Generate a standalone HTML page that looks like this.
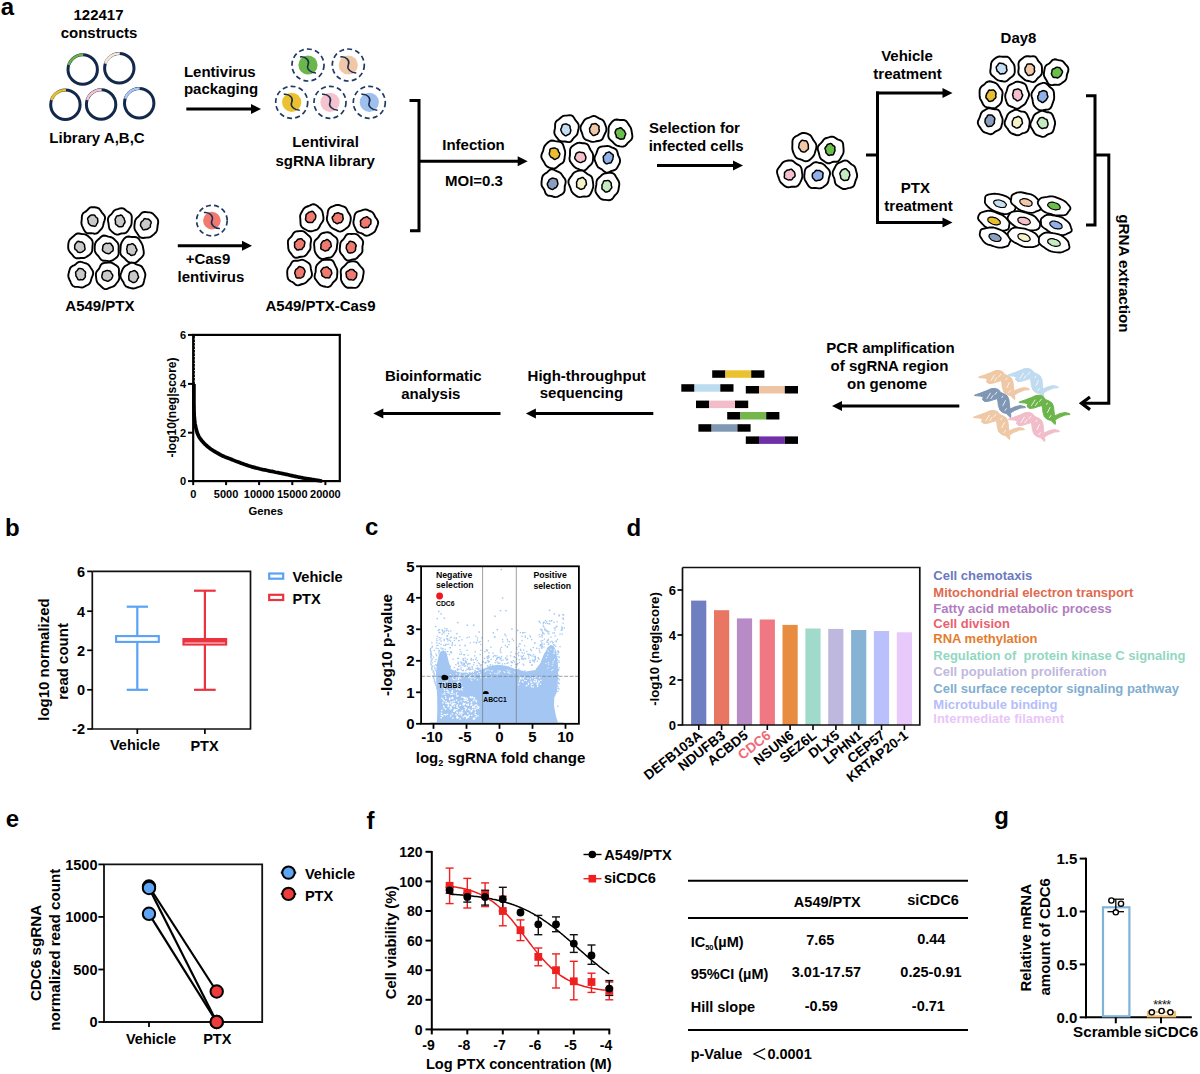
<!DOCTYPE html>
<html><head><meta charset="utf-8"><style>
html,body{margin:0;padding:0;background:#fff;}
svg{display:block;}
</style></head><body>
<svg width="1200" height="1074" viewBox="0 0 1200 1074" font-family="Liberation Sans, sans-serif" font-weight="bold">
<rect width="1200" height="1074" fill="#fff"/>
<text x="0.8" y="14.8" font-size="24" text-anchor="start" fill="#000" >a</text>
<text x="98.5" y="19.5" font-size="15" text-anchor="middle" fill="#000" >122417</text>
<text x="99.0" y="37.5" font-size="15" text-anchor="middle" fill="#000" >constructs</text>
<circle cx="82.7" cy="69.5" r="14.7" fill="none" stroke="#13294b" stroke-width="3.0"/>
<path d="M68.7,65.0 A14.7,14.7 0 0 1 83.2,54.8" fill="none" stroke="#6ab04c" stroke-width="2.6"/>
<circle cx="119.3" cy="68.2" r="14.7" fill="none" stroke="#13294b" stroke-width="3.0"/>
<path d="M105.3,63.7 A14.7,14.7 0 0 1 119.8,53.5" fill="none" stroke="#f7e6d4" stroke-width="2.6"/>
<circle cx="65.4" cy="104.7" r="14.7" fill="none" stroke="#13294b" stroke-width="3.0"/>
<path d="M51.4,100.2 A14.7,14.7 0 0 1 65.9,90.0" fill="none" stroke="#e6c12a" stroke-width="2.6"/>
<circle cx="101.1" cy="104.5" r="14.7" fill="none" stroke="#13294b" stroke-width="3.0"/>
<path d="M87.1,100.0 A14.7,14.7 0 0 1 101.6,89.8" fill="none" stroke="#f6c4cd" stroke-width="2.6"/>
<circle cx="139.2" cy="103.2" r="14.7" fill="none" stroke="#13294b" stroke-width="3.0"/>
<path d="M125.2,98.7 A14.7,14.7 0 0 1 139.7,88.5" fill="none" stroke="#a8c6f0" stroke-width="2.6"/>
<text x="97.0" y="143.3" font-size="15" text-anchor="middle" fill="#000" >Library A,B,C</text>
<text x="219.8" y="77.4" font-size="15" text-anchor="middle" fill="#000" >Lentivirus</text>
<text x="221.0" y="94.0" font-size="15" text-anchor="middle" fill="#000" >packaging</text>
<line x1="186.3" y1="109.0" x2="252.0" y2="109.0" stroke="#000" stroke-width="3" />
<polygon points="261.0,109.0 251.0,104.0 251.0,114.0" fill="#000"/>
<circle cx="308" cy="65" r="16" fill="none" stroke="#1f3a63" stroke-width="1.7" stroke-dasharray="5 3.2"/>
<circle cx="308" cy="65" r="9.6" fill="#6ab64a"/>
<path d="M300.0,57.0 C306.0,56.0 310.0,61.0 308.0,65.0 S311.0,73.0 316.0,73.0" fill="none" stroke="#1a2d52" stroke-width="1.5"/>
<circle cx="348.3" cy="65" r="16" fill="none" stroke="#1f3a63" stroke-width="1.7" stroke-dasharray="5 3.2"/>
<circle cx="348.3" cy="65" r="9.6" fill="#f0c8a8"/>
<path d="M340.3,57.0 C346.3,56.0 350.3,61.0 348.3,65.0 S351.3,73.0 356.3,73.0" fill="none" stroke="#1a2d52" stroke-width="1.5"/>
<circle cx="291.7" cy="102.3" r="16" fill="none" stroke="#1f3a63" stroke-width="1.7" stroke-dasharray="5 3.2"/>
<circle cx="291.7" cy="102.3" r="9.6" fill="#ebc12f"/>
<path d="M283.7,94.3 C289.7,93.3 293.7,98.3 291.7,102.3 S294.7,110.3 299.7,110.3" fill="none" stroke="#1a2d52" stroke-width="1.5"/>
<circle cx="330" cy="102.3" r="16" fill="none" stroke="#1f3a63" stroke-width="1.7" stroke-dasharray="5 3.2"/>
<circle cx="330" cy="102.3" r="9.6" fill="#f5c2cd"/>
<path d="M322.0,94.3 C328.0,93.3 332.0,98.3 330.0,102.3 S333.0,110.3 338.0,110.3" fill="none" stroke="#1a2d52" stroke-width="1.5"/>
<circle cx="369.3" cy="102.3" r="16" fill="none" stroke="#1f3a63" stroke-width="1.7" stroke-dasharray="5 3.2"/>
<circle cx="369.3" cy="102.3" r="9.6" fill="#9fbfec"/>
<path d="M361.3,94.3 C367.3,93.3 371.3,98.3 369.3,102.3 S372.3,110.3 377.3,110.3" fill="none" stroke="#1a2d52" stroke-width="1.5"/>
<text x="325.5" y="147.3" font-size="15" text-anchor="middle" fill="#000" >Lentiviral</text>
<text x="325.2" y="165.5" font-size="15" text-anchor="middle" fill="#000" >sgRNA library</text>
<path d="M104.5,220.6 L103.9,222.2 L103.5,223.8 L103.2,225.3 L102.7,226.9 L101.9,228.3 L100.9,229.5 L99.8,230.6 L98.7,231.8 L97.5,233.0 L96.0,233.6 L94.4,233.7 L92.9,233.4 L91.4,233.1 L89.9,233.2 L88.2,233.3 L86.5,232.9 L85.2,231.8 L84.2,230.3 L83.4,228.7 L82.7,227.2 L82.0,225.6 L81.5,224.0 L81.4,222.3 L81.6,220.6 L81.8,219.0 L81.8,217.3 L82.0,215.6 L82.6,214.0 L83.7,212.7 L85.1,211.9 L86.3,211.1 L87.4,210.0 L88.5,208.8 L89.8,207.7 L91.3,207.2 L92.9,207.1 L94.5,207.3 L96.1,207.5 L97.6,207.9 L99.1,208.7 L100.2,210.0 L101.2,211.4 L102.1,212.8 L103.2,214.0 L104.3,215.4 L105.0,217.0 L105.0,218.8Z" fill="#fff" stroke="#000" stroke-width="1.9" stroke-linejoin="round"/>
<path d="M97.8,220.5 L97.8,221.3 L97.8,222.0 L97.6,222.7 L97.2,223.3 L96.8,223.9 L96.5,224.5 L96.1,225.3 L95.7,225.9 L95.0,226.2 L94.2,226.2 L93.5,226.0 L92.8,225.9 L92.2,225.8 L91.5,225.8 L90.9,225.6 L90.3,225.2 L89.8,224.7 L89.4,224.3 L88.9,223.8 L88.5,223.2 L88.3,222.6 L88.2,221.9 L88.2,221.2 L88.1,220.5 L87.8,219.8 L87.6,219.0 L87.7,218.3 L88.1,217.6 L88.6,217.1 L89.1,216.6 L89.6,216.1 L90.1,215.6 L90.8,215.2 L91.4,215.1 L92.1,215.0 L92.8,214.9 L93.5,214.9 L94.2,215.0 L94.8,215.4 L95.2,216.0 L95.6,216.6 L96.0,217.1 L96.5,217.5 L97.1,217.9 L97.5,218.5 L97.7,219.1 L97.7,219.8Z" fill="#c9c9c9" stroke="#000" stroke-width="1.5" stroke-linejoin="round"/>
<path d="M131.7,221.5 L131.6,223.2 L131.3,224.9 L130.6,226.4 L129.7,227.7 L128.9,229.1 L128.1,230.5 L127.1,231.8 L125.9,232.8 L124.4,233.3 L122.9,233.4 L121.4,233.5 L120.0,233.9 L118.5,234.5 L116.8,234.6 L115.3,234.2 L113.9,233.3 L112.6,232.2 L111.4,231.1 L110.2,229.9 L109.3,228.4 L108.9,226.6 L108.7,224.9 L108.5,223.2 L108.1,221.5 L107.9,219.7 L108.2,218.0 L109.0,216.4 L110.2,215.2 L111.4,214.1 L112.3,213.0 L113.2,211.7 L114.3,210.5 L115.6,209.7 L117.1,209.3 L118.5,208.9 L120.0,208.4 L121.6,208.2 L123.1,208.4 L124.6,209.2 L125.8,210.3 L127.1,211.2 L128.5,212.1 L129.9,213.0 L131.1,214.4 L131.7,216.1 L131.8,218.0 L131.7,219.8Z" fill="#fff" stroke="#000" stroke-width="1.9" stroke-linejoin="round"/>
<path d="M124.9,221.0 L125.0,221.7 L125.0,222.5 L124.6,223.1 L124.1,223.6 L123.8,224.2 L123.5,224.9 L123.2,225.6 L122.8,226.3 L122.1,226.6 L121.4,226.7 L120.6,226.8 L119.9,226.8 L119.2,226.8 L118.6,226.6 L118.0,226.1 L117.5,225.6 L117.0,225.1 L116.4,224.8 L115.9,224.4 L115.5,223.8 L115.4,223.1 L115.5,222.3 L115.5,221.6 L115.4,221.0 L115.2,220.3 L115.1,219.6 L115.2,218.9 L115.5,218.3 L115.9,217.6 L116.2,216.9 L116.6,216.3 L117.2,215.9 L117.9,215.7 L118.6,215.7 L119.3,215.6 L119.9,215.3 L120.7,215.1 L121.4,215.2 L122.0,215.6 L122.5,216.2 L122.9,216.9 L123.3,217.4 L123.8,217.8 L124.1,218.4 L124.3,219.1 L124.4,219.7 L124.6,220.4Z" fill="#c9c9c9" stroke="#000" stroke-width="1.5" stroke-linejoin="round"/>
<path d="M157.7,225.0 L157.5,226.6 L157.3,228.3 L157.1,230.0 L156.5,231.5 L155.5,232.8 L154.3,233.9 L153.1,234.9 L152.0,235.9 L150.7,236.8 L149.3,237.4 L147.8,237.5 L146.3,237.6 L144.8,237.8 L143.2,238.0 L141.5,237.8 L140.0,237.1 L138.8,235.8 L137.9,234.4 L137.0,233.0 L136.0,231.6 L135.1,230.2 L134.5,228.5 L134.4,226.7 L134.5,225.0 L134.7,223.3 L134.9,221.6 L135.4,220.0 L136.3,218.6 L137.4,217.4 L138.6,216.4 L139.6,215.3 L140.6,214.1 L141.8,212.9 L143.2,212.2 L144.8,212.0 L146.3,212.1 L147.8,212.3 L149.3,212.4 L150.9,212.6 L152.4,213.3 L153.6,214.4 L154.8,215.6 L155.9,216.8 L157.0,218.1 L157.9,219.7 L158.2,221.4 L158.1,223.3Z" fill="#fff" stroke="#000" stroke-width="1.9" stroke-linejoin="round"/>
<path d="M150.6,224.2 L150.4,224.9 L150.4,225.5 L150.4,226.3 L150.3,227.0 L149.8,227.5 L149.2,227.9 L148.7,228.2 L148.2,228.6 L147.7,229.0 L147.1,229.3 L146.4,229.4 L145.8,229.4 L145.2,229.5 L144.4,229.8 L143.6,229.9 L142.9,229.6 L142.4,229.0 L142.1,228.2 L141.8,227.6 L141.4,227.0 L140.9,226.4 L140.5,225.7 L140.5,225.0 L140.6,224.2 L140.8,223.5 L140.9,222.8 L141.2,222.1 L141.6,221.6 L142.1,221.2 L142.7,220.9 L143.1,220.4 L143.5,219.8 L143.9,219.1 L144.4,218.7 L145.1,218.6 L145.8,218.8 L146.5,218.9 L147.1,219.0 L147.8,219.0 L148.5,219.2 L149.1,219.6 L149.6,220.1 L150.1,220.6 L150.7,221.2 L151.1,221.9 L151.2,222.7 L151.0,223.5Z" fill="#c9c9c9" stroke="#000" stroke-width="1.5" stroke-linejoin="round"/>
<path d="M92.5,246.0 L92.4,247.7 L92.3,249.5 L92.1,251.3 L91.3,252.9 L90.2,254.2 L88.9,255.2 L87.6,256.1 L86.3,257.0 L84.9,257.7 L83.5,258.0 L82.0,258.0 L80.6,258.0 L79.2,258.2 L77.6,258.3 L76.1,258.2 L74.7,257.5 L73.5,256.3 L72.5,255.0 L71.5,253.8 L70.3,252.6 L69.3,251.2 L68.5,249.6 L68.2,247.8 L68.2,246.0 L68.3,244.2 L68.6,242.4 L69.1,240.7 L70.1,239.3 L71.4,238.1 L72.6,237.1 L73.8,236.1 L74.9,234.9 L76.1,234.0 L77.6,233.5 L79.1,233.5 L80.6,233.8 L82.0,234.0 L83.5,234.1 L84.9,234.4 L86.3,234.9 L87.6,235.8 L88.8,236.8 L90.1,237.9 L91.3,239.1 L92.3,240.6 L92.7,242.4 L92.7,244.2Z" fill="#fff" stroke="#000" stroke-width="1.9" stroke-linejoin="round"/>
<path d="M84.7,246.9 L84.8,247.6 L85.0,248.4 L85.0,249.3 L84.7,250.0 L84.1,250.5 L83.5,250.9 L82.9,251.3 L82.4,251.8 L81.8,252.1 L81.2,252.3 L80.5,252.4 L79.8,252.4 L79.2,252.4 L78.5,252.3 L77.8,252.1 L77.3,251.5 L77.0,250.9 L76.6,250.4 L76.1,250.0 L75.6,249.6 L75.0,249.1 L74.7,248.4 L74.6,247.7 L74.7,246.9 L74.7,246.2 L74.8,245.5 L74.9,244.7 L75.3,244.1 L75.7,243.5 L76.2,243.0 L76.6,242.4 L77.1,241.8 L77.7,241.4 L78.4,241.3 L79.2,241.5 L79.8,241.8 L80.4,241.9 L81.1,241.9 L81.7,242.0 L82.3,242.2 L82.8,242.7 L83.3,243.2 L83.7,243.7 L84.2,244.2 L84.5,244.8 L84.6,245.5 L84.6,246.2Z" fill="#c9c9c9" stroke="#000" stroke-width="1.5" stroke-linejoin="round"/>
<path d="M118.6,248.6 L118.6,250.3 L118.7,252.1 L118.6,254.0 L118.0,255.7 L116.9,257.2 L115.6,258.3 L114.2,259.2 L112.9,260.1 L111.4,260.8 L109.9,261.1 L108.4,261.1 L106.9,260.9 L105.5,260.8 L104.0,260.8 L102.5,260.5 L101.1,259.7 L100.1,258.5 L99.2,257.2 L98.3,256.0 L97.2,254.9 L96.1,253.6 L95.2,252.1 L94.8,250.4 L94.7,248.6 L94.7,246.8 L94.9,245.0 L95.3,243.2 L96.1,241.7 L97.3,240.4 L98.5,239.3 L99.7,238.2 L100.9,237.0 L102.2,236.0 L103.8,235.5 L105.4,235.7 L106.9,236.1 L108.3,236.6 L109.7,236.9 L111.1,237.2 L112.5,237.8 L113.7,238.8 L114.8,239.8 L115.9,240.9 L117.1,242.1 L118.0,243.5 L118.6,245.1 L118.7,246.9Z" fill="#fff" stroke="#000" stroke-width="1.9" stroke-linejoin="round"/>
<path d="M113.2,248.3 L113.2,249.1 L113.2,249.9 L113.0,250.6 L112.5,251.2 L111.8,251.6 L111.2,252.0 L110.7,252.4 L110.3,252.9 L109.8,253.4 L109.2,253.7 L108.5,253.7 L107.8,253.6 L107.2,253.4 L106.6,253.3 L106.0,253.2 L105.4,252.9 L104.9,252.5 L104.4,252.1 L103.8,251.7 L103.2,251.2 L102.6,250.6 L102.4,249.9 L102.5,249.1 L102.7,248.3 L102.8,247.6 L102.8,246.9 L102.9,246.1 L103.1,245.4 L103.6,244.8 L104.2,244.4 L104.7,244.0 L105.3,243.6 L105.9,243.3 L106.6,243.3 L107.2,243.4 L107.8,243.4 L108.4,243.4 L109.1,243.2 L109.8,243.2 L110.5,243.4 L111.0,243.9 L111.4,244.5 L111.7,245.1 L112.2,245.6 L112.7,246.2 L113.0,246.8 L113.1,247.6Z" fill="#c9c9c9" stroke="#000" stroke-width="1.5" stroke-linejoin="round"/>
<path d="M143.4,249.5 L143.7,251.2 L143.8,253.1 L143.5,254.8 L142.6,256.4 L141.4,257.6 L140.2,258.7 L139.0,259.8 L137.9,261.0 L136.6,262.1 L135.1,262.7 L133.5,262.9 L131.9,262.8 L130.3,262.6 L128.8,262.2 L127.5,261.4 L126.3,260.3 L125.3,259.1 L124.2,258.0 L123.0,257.1 L121.8,256.0 L120.8,254.6 L120.4,252.9 L120.3,251.2 L120.5,249.5 L120.6,247.8 L120.7,246.2 L120.9,244.4 L121.5,242.8 L122.3,241.3 L123.2,239.9 L124.3,238.5 L125.6,237.4 L127.1,236.7 L128.8,236.5 L130.4,236.8 L131.9,237.0 L133.4,237.0 L134.9,237.0 L136.5,237.3 L137.9,238.0 L139.0,239.2 L139.9,240.6 L140.8,241.9 L141.6,243.3 L142.3,244.7 L142.8,246.3 L143.1,247.9Z" fill="#fff" stroke="#000" stroke-width="1.9" stroke-linejoin="round"/>
<path d="M136.9,249.5 L137.0,250.3 L136.7,251.0 L136.2,251.6 L135.8,252.2 L135.6,252.8 L135.3,253.6 L134.9,254.2 L134.4,254.7 L133.7,254.9 L133.0,255.1 L132.3,255.3 L131.6,255.5 L130.9,255.3 L130.3,254.8 L129.8,254.3 L129.3,253.9 L128.7,253.7 L128.0,253.5 L127.5,253.0 L127.2,252.3 L127.2,251.5 L127.1,250.8 L127.0,250.2 L126.7,249.5 L126.7,248.8 L126.8,248.1 L127.0,247.5 L127.2,246.8 L127.3,246.0 L127.6,245.2 L128.2,244.7 L128.9,244.5 L129.7,244.5 L130.3,244.4 L131.0,244.1 L131.6,243.8 L132.3,243.7 L133.0,243.9 L133.6,244.4 L134.1,244.9 L134.6,245.3 L135.1,245.8 L135.5,246.3 L135.7,247.0 L135.8,247.7 L136.1,248.3 L136.5,248.8Z" fill="#c9c9c9" stroke="#000" stroke-width="1.5" stroke-linejoin="round"/>
<path d="M92.9,274.9 L92.2,276.6 L91.6,278.2 L91.1,279.7 L90.7,281.4 L90.0,282.9 L88.9,284.2 L87.6,285.0 L86.2,285.7 L84.9,286.4 L83.5,287.1 L82.1,287.5 L80.6,287.4 L79.2,287.1 L77.7,286.9 L76.1,286.9 L74.5,286.7 L72.9,286.0 L71.8,284.7 L71.0,283.1 L70.4,281.5 L69.6,280.0 L68.9,278.4 L68.4,276.7 L68.3,274.9 L68.7,273.2 L69.1,271.5 L69.6,269.8 L70.2,268.2 L71.2,266.9 L72.5,265.9 L74.0,265.3 L75.3,264.6 L76.4,263.6 L77.6,262.6 L79.1,261.9 L80.6,261.8 L82.1,262.2 L83.5,262.7 L85.0,263.1 L86.5,263.5 L87.9,264.3 L89.1,265.4 L90.1,266.8 L91.0,268.2 L92.0,269.6 L92.9,271.2 L93.2,273.1Z" fill="#fff" stroke="#000" stroke-width="1.9" stroke-linejoin="round"/>
<path d="M85.2,274.3 L85.2,274.9 L85.3,275.6 L85.4,276.4 L85.2,277.1 L84.8,277.7 L84.3,278.2 L83.9,278.8 L83.4,279.4 L82.7,279.7 L82.0,279.8 L81.3,279.7 L80.6,279.6 L80.0,279.7 L79.3,279.9 L78.5,279.8 L77.9,279.4 L77.5,278.7 L77.2,277.9 L76.9,277.4 L76.5,276.8 L76.1,276.3 L75.9,275.6 L75.9,274.9 L75.9,274.3 L75.7,273.6 L75.6,272.8 L75.7,272.1 L76.1,271.5 L76.7,271.0 L77.2,270.6 L77.6,270.0 L78.0,269.3 L78.5,268.7 L79.2,268.4 L79.9,268.4 L80.6,268.6 L81.3,268.7 L82.0,268.8 L82.6,269.1 L83.2,269.5 L83.6,270.1 L84.0,270.6 L84.5,271.0 L85.1,271.5 L85.5,272.1 L85.6,272.8 L85.4,273.6Z" fill="#c9c9c9" stroke="#000" stroke-width="1.5" stroke-linejoin="round"/>
<path d="M119.1,275.4 L119.3,277.1 L119.2,278.8 L118.6,280.4 L117.7,281.8 L116.7,283.0 L115.8,284.3 L114.8,285.5 L113.5,286.4 L112.1,286.9 L110.7,287.3 L109.3,287.8 L107.8,288.6 L106.2,289.1 L104.5,289.0 L103.0,288.2 L101.8,287.0 L100.6,285.8 L99.4,284.7 L98.2,283.6 L97.2,282.2 L96.6,280.6 L96.3,278.8 L96.1,277.1 L95.9,275.4 L95.9,273.7 L96.4,272.0 L97.4,270.6 L98.5,269.4 L99.3,268.2 L100.0,266.7 L100.7,265.1 L101.8,263.9 L103.2,263.2 L104.8,262.9 L106.3,262.7 L107.8,262.5 L109.4,262.3 L110.9,262.5 L112.4,263.1 L113.8,263.9 L115.1,264.7 L116.6,265.6 L117.9,266.8 L118.8,268.4 L119.0,270.2 L118.9,272.1 L118.9,273.8Z" fill="#fff" stroke="#000" stroke-width="1.9" stroke-linejoin="round"/>
<path d="M112.8,275.8 L112.6,276.5 L112.3,277.2 L112.0,277.9 L111.7,278.6 L111.3,279.2 L110.7,279.6 L110.1,279.9 L109.6,280.3 L109.1,280.7 L108.5,281.1 L107.8,281.3 L107.2,281.2 L106.5,280.8 L106.0,280.5 L105.4,280.4 L104.7,280.3 L104.1,280.1 L103.5,279.7 L103.0,279.2 L102.6,278.6 L102.2,278.0 L101.9,277.3 L101.8,276.5 L101.9,275.8 L102.1,275.0 L102.3,274.3 L102.4,273.6 L102.5,272.8 L102.8,272.1 L103.4,271.7 L104.1,271.4 L104.7,271.2 L105.4,271.0 L105.9,270.8 L106.5,270.6 L107.2,270.5 L107.8,270.6 L108.4,270.7 L109.1,270.8 L109.7,270.9 L110.3,271.3 L110.8,271.8 L111.1,272.5 L111.4,273.1 L111.8,273.7 L112.3,274.3 L112.7,275.0Z" fill="#c9c9c9" stroke="#000" stroke-width="1.5" stroke-linejoin="round"/>
<path d="M145.3,275.8 L144.9,277.5 L144.4,279.2 L144.1,280.9 L143.7,282.6 L143.1,284.3 L141.9,285.6 L140.4,286.4 L138.8,286.9 L137.4,287.3 L136.0,287.9 L134.6,288.4 L133.1,288.5 L131.6,288.3 L130.2,287.9 L128.7,287.5 L127.3,287.0 L125.9,286.3 L124.8,285.0 L124.0,283.6 L123.4,282.1 L122.5,280.7 L121.6,279.2 L120.7,277.6 L120.4,275.8 L120.7,274.0 L121.4,272.3 L122.0,270.7 L122.7,269.1 L123.6,267.7 L124.7,266.4 L126.0,265.5 L127.4,264.8 L128.7,264.0 L130.0,263.1 L131.5,262.6 L133.1,262.7 L134.6,263.4 L135.9,264.1 L137.2,264.7 L138.7,265.1 L140.2,265.6 L141.5,266.4 L142.5,267.7 L143.4,269.2 L144.1,270.7 L144.8,272.3 L145.3,274.0Z" fill="#fff" stroke="#000" stroke-width="1.9" stroke-linejoin="round"/>
<path d="M138.5,276.6 L138.6,277.3 L138.3,278.0 L137.8,278.6 L137.4,279.1 L137.2,279.7 L136.9,280.4 L136.6,281.0 L136.1,281.5 L135.5,281.9 L134.8,282.2 L134.2,282.5 L133.5,282.6 L132.7,282.5 L132.1,282.1 L131.5,281.7 L131.0,281.3 L130.3,281.0 L129.7,280.7 L129.1,280.2 L128.9,279.5 L128.8,278.7 L128.9,277.9 L128.8,277.3 L128.7,276.6 L128.7,275.9 L128.9,275.3 L129.1,274.7 L129.3,274.0 L129.4,273.3 L129.7,272.6 L130.2,272.0 L130.8,271.7 L131.5,271.6 L132.2,271.4 L132.8,271.1 L133.5,270.8 L134.2,270.6 L134.9,270.7 L135.5,271.2 L136.1,271.6 L136.6,272.1 L137.1,272.6 L137.5,273.3 L137.7,274.0 L137.8,274.7 L138.0,275.3 L138.3,275.9Z" fill="#c9c9c9" stroke="#000" stroke-width="1.5" stroke-linejoin="round"/>
<text x="99.9" y="310.8" font-size="15" text-anchor="middle" fill="#000" >A549/PTX</text>
<circle cx="211.9" cy="220.6" r="15.3" fill="none" stroke="#1f3a63" stroke-width="1.7" stroke-dasharray="5 3.2"/>
<circle cx="211.9" cy="220.6" r="8.8" fill="#f07a70"/>
<path d="M203.9,212.6 C209.9,211.6 213.9,216.6 211.9,220.6 S214.9,228.6 219.9,228.6" fill="none" stroke="#1a2d52" stroke-width="1.5"/>
<line x1="177.8" y1="245.7" x2="243.0" y2="245.7" stroke="#000" stroke-width="3" />
<polygon points="252.0,245.7 242.0,240.7 242.0,250.7" fill="#000"/>
<text x="208.0" y="264.0" font-size="15" text-anchor="middle" fill="#000" >+Cas9</text>
<text x="210.9" y="281.9" font-size="15" text-anchor="middle" fill="#000" >lentivirus</text>
<path d="M323.5,218.0 L323.4,219.7 L322.8,221.3 L321.8,222.7 L320.9,224.0 L320.1,225.3 L319.5,226.8 L318.6,228.2 L317.5,229.3 L316.1,230.0 L314.6,230.4 L313.1,230.9 L311.6,231.2 L310.0,231.3 L308.5,231.0 L307.0,230.3 L305.6,229.5 L304.2,228.8 L302.7,227.9 L301.5,226.6 L300.7,225.0 L300.5,223.1 L300.4,221.3 L300.4,219.6 L300.2,218.0 L300.1,216.3 L300.4,214.7 L301.1,213.2 L301.9,211.8 L302.7,210.4 L303.5,209.0 L304.6,207.9 L305.9,207.0 L307.3,206.5 L308.7,206.0 L310.1,205.4 L311.6,204.6 L313.2,204.2 L314.9,204.5 L316.3,205.3 L317.7,206.3 L318.9,207.4 L320.2,208.5 L321.3,209.7 L322.2,211.2 L322.7,212.9 L323.0,214.6 L323.3,216.3Z" fill="#fff" stroke="#000" stroke-width="1.9" stroke-linejoin="round"/>
<path d="M315.7,217.2 L315.6,217.9 L315.4,218.5 L315.1,219.2 L314.7,219.7 L314.2,220.1 L313.8,220.6 L313.5,221.2 L313.1,221.8 L312.6,222.3 L312.0,222.6 L311.3,222.6 L310.6,222.5 L310.0,222.5 L309.3,222.6 L308.6,222.5 L307.9,222.3 L307.3,221.8 L306.7,221.3 L306.2,220.8 L305.8,220.2 L305.5,219.4 L305.6,218.6 L305.7,217.8 L305.9,217.2 L305.9,216.5 L305.9,215.8 L306.0,215.1 L306.3,214.4 L306.8,214.0 L307.3,213.6 L307.8,213.2 L308.3,212.7 L308.8,212.3 L309.4,212.1 L310.0,211.9 L310.6,211.7 L311.3,211.5 L312.1,211.3 L312.8,211.5 L313.4,211.9 L313.9,212.6 L314.3,213.2 L314.7,213.8 L315.2,214.3 L315.6,214.9 L315.8,215.6 L315.8,216.4Z" fill="#f07a70" stroke="#000" stroke-width="1.5" stroke-linejoin="round"/>
<path d="M350.8,218.0 L350.7,219.8 L350.4,221.5 L349.9,223.2 L349.4,224.9 L348.5,226.4 L347.4,227.6 L346.0,228.6 L344.7,229.5 L343.3,230.4 L341.9,231.2 L340.3,231.6 L338.7,231.4 L337.2,230.7 L335.8,229.9 L334.5,229.3 L333.2,228.7 L331.8,227.9 L330.7,226.9 L329.8,225.6 L328.9,224.3 L328.1,222.9 L327.4,221.4 L326.9,219.7 L326.9,218.0 L327.2,216.3 L327.5,214.7 L327.7,212.9 L328.0,211.1 L328.6,209.4 L329.7,208.0 L331.1,207.0 L332.7,206.4 L334.1,205.8 L335.6,205.2 L337.2,204.9 L338.7,205.0 L340.2,205.4 L341.6,205.9 L343.1,206.3 L344.5,206.9 L345.8,207.8 L346.7,209.1 L347.4,210.6 L348.1,212.0 L348.9,213.3 L349.8,214.7 L350.5,216.3Z" fill="#fff" stroke="#000" stroke-width="1.9" stroke-linejoin="round"/>
<path d="M343.2,218.1 L343.2,218.9 L343.0,219.6 L342.6,220.3 L342.2,220.9 L341.9,221.5 L341.5,222.1 L341.0,222.5 L340.3,222.7 L339.6,222.7 L339.0,222.8 L338.5,223.1 L337.9,223.5 L337.2,223.7 L336.5,223.6 L335.9,223.2 L335.4,222.7 L334.8,222.4 L334.2,222.1 L333.6,221.6 L333.3,221.0 L333.0,220.3 L332.8,219.6 L332.5,218.9 L332.2,218.1 L332.2,217.3 L332.6,216.6 L333.2,216.1 L333.7,215.6 L334.1,215.0 L334.3,214.3 L334.7,213.7 L335.3,213.4 L336.0,213.3 L336.6,213.2 L337.2,213.0 L337.9,212.8 L338.5,212.8 L339.1,213.1 L339.7,213.4 L340.2,213.7 L340.9,213.8 L341.7,214.0 L342.4,214.4 L342.7,215.1 L342.8,215.9 L342.8,216.7 L342.9,217.4Z" fill="#f07a70" stroke="#000" stroke-width="1.5" stroke-linejoin="round"/>
<path d="M378.2,222.4 L377.9,224.2 L377.3,225.9 L376.6,227.5 L376.0,229.1 L375.3,230.7 L374.3,232.1 L372.9,233.1 L371.5,233.9 L370.0,234.6 L368.6,235.3 L367.1,235.7 L365.5,235.6 L364.0,234.8 L362.7,233.9 L361.5,233.2 L360.1,232.9 L358.6,232.4 L357.2,231.6 L356.3,230.3 L355.6,228.8 L354.9,227.3 L354.2,225.8 L353.6,224.1 L353.4,222.4 L353.6,220.7 L354.0,219.0 L354.3,217.2 L354.6,215.4 L355.3,213.7 L356.4,212.3 L358.0,211.5 L359.6,211.1 L361.1,210.7 L362.5,210.1 L364.0,209.6 L365.5,209.4 L367.0,209.7 L368.4,210.3 L369.8,211.0 L371.1,211.5 L372.5,212.3 L373.5,213.5 L374.3,214.9 L374.9,216.3 L375.7,217.7 L376.8,219.0 L377.7,220.6Z" fill="#fff" stroke="#000" stroke-width="1.9" stroke-linejoin="round"/>
<path d="M370.9,222.5 L370.9,223.2 L370.7,223.9 L370.2,224.5 L369.7,225.0 L369.2,225.4 L368.9,226.0 L368.6,226.7 L368.2,227.2 L367.5,227.4 L366.9,227.4 L366.2,227.3 L365.6,227.5 L365.0,227.7 L364.3,227.9 L363.6,227.7 L363.0,227.4 L362.4,227.0 L361.8,226.6 L361.1,226.2 L360.7,225.5 L360.5,224.7 L360.6,223.9 L360.7,223.2 L360.6,222.5 L360.4,221.7 L360.4,220.9 L360.7,220.3 L361.3,219.8 L361.9,219.4 L362.4,218.9 L362.8,218.4 L363.3,218.0 L363.8,217.8 L364.4,217.6 L365.0,217.5 L365.6,217.2 L366.3,216.8 L367.0,216.8 L367.7,217.1 L368.2,217.7 L368.7,218.2 L369.3,218.5 L370.0,218.9 L370.6,219.4 L370.9,220.1 L371.0,220.9 L370.9,221.7Z" fill="#f07a70" stroke="#000" stroke-width="1.5" stroke-linejoin="round"/>
<path d="M310.5,244.3 L310.5,245.9 L310.5,247.6 L310.2,249.2 L309.4,250.7 L308.4,251.9 L307.5,253.2 L306.6,254.5 L305.4,255.7 L304.0,256.4 L302.5,256.6 L301.0,256.7 L299.5,257.0 L297.9,257.5 L296.2,257.8 L294.6,257.5 L293.2,256.4 L292.1,255.0 L291.1,253.6 L290.1,252.3 L289.1,251.0 L288.5,249.4 L288.2,247.7 L288.2,246.0 L288.0,244.3 L287.9,242.6 L288.0,240.9 L288.6,239.3 L289.8,238.1 L291.0,237.0 L291.9,235.9 L292.7,234.5 L293.6,233.0 L294.9,231.9 L296.4,231.4 L298.0,231.2 L299.5,231.1 L301.1,231.0 L302.7,231.1 L304.2,231.7 L305.5,232.8 L306.7,233.9 L307.9,235.0 L309.2,236.0 L310.4,237.3 L311.1,239.0 L311.1,240.9 L310.7,242.7Z" fill="#fff" stroke="#000" stroke-width="1.9" stroke-linejoin="round"/>
<path d="M304.5,244.4 L304.4,245.1 L304.3,245.8 L304.1,246.4 L303.7,247.0 L303.2,247.4 L302.8,247.9 L302.5,248.5 L302.1,249.1 L301.5,249.5 L300.8,249.6 L300.2,249.5 L299.6,249.5 L298.9,249.7 L298.2,250.0 L297.4,250.0 L296.7,249.7 L296.2,249.1 L295.7,248.5 L295.2,248.0 L294.8,247.4 L294.6,246.6 L294.5,245.9 L294.6,245.1 L294.6,244.4 L294.6,243.7 L294.5,242.9 L294.8,242.3 L295.3,241.7 L295.9,241.4 L296.4,241.0 L296.8,240.5 L297.2,240.0 L297.7,239.5 L298.3,239.2 L298.9,239.0 L299.6,238.9 L300.2,238.8 L301.0,238.7 L301.7,238.9 L302.2,239.4 L302.7,240.0 L303.2,240.5 L303.8,240.9 L304.4,241.4 L304.8,242.0 L304.9,242.8 L304.7,243.7Z" fill="#f07a70" stroke="#000" stroke-width="1.5" stroke-linejoin="round"/>
<path d="M337.0,245.7 L336.9,247.3 L336.7,248.9 L336.2,250.5 L335.5,251.9 L334.6,253.2 L333.8,254.5 L332.8,255.9 L331.6,257.0 L330.2,257.6 L328.7,257.8 L327.3,258.0 L325.8,258.3 L324.2,258.8 L322.6,259.1 L320.9,258.8 L319.5,257.9 L318.2,256.7 L317.1,255.3 L316.1,254.0 L315.3,252.5 L314.7,250.8 L314.5,249.1 L314.4,247.4 L314.2,245.7 L314.1,244.0 L314.3,242.3 L315.0,240.7 L316.1,239.5 L317.3,238.5 L318.3,237.4 L319.2,236.1 L320.1,234.8 L321.3,233.7 L322.8,233.0 L324.3,232.7 L325.8,232.4 L327.4,232.3 L329.0,232.5 L330.5,233.1 L331.8,234.2 L333.0,235.2 L334.3,236.2 L335.7,237.2 L336.9,238.6 L337.5,240.3 L337.6,242.2 L337.3,244.0Z" fill="#fff" stroke="#000" stroke-width="1.9" stroke-linejoin="round"/>
<path d="M331.2,245.4 L331.3,246.1 L331.0,246.8 L330.4,247.4 L329.8,247.8 L329.3,248.2 L329.1,248.8 L328.8,249.5 L328.4,250.0 L327.8,250.3 L327.2,250.5 L326.5,250.6 L325.9,250.9 L325.2,251.0 L324.5,250.9 L323.9,250.5 L323.4,250.1 L322.7,249.8 L322.0,249.6 L321.3,249.2 L320.8,248.5 L320.8,247.7 L320.9,246.8 L321.0,246.1 L321.0,245.4 L320.9,244.7 L321.0,244.0 L321.4,243.3 L321.8,242.8 L322.1,242.2 L322.5,241.6 L322.9,241.1 L323.4,240.8 L324.1,240.7 L324.7,240.7 L325.3,240.4 L325.9,240.0 L326.6,239.6 L327.4,239.5 L328.0,239.8 L328.6,240.3 L329.1,240.8 L329.7,241.3 L330.2,241.8 L330.6,242.4 L330.8,243.2 L330.9,243.9 L331.0,244.6Z" fill="#f07a70" stroke="#000" stroke-width="1.5" stroke-linejoin="round"/>
<path d="M362.4,246.9 L362.4,248.5 L362.5,250.2 L362.3,251.9 L361.5,253.3 L360.4,254.5 L359.3,255.5 L358.2,256.7 L357.2,257.9 L355.9,258.8 L354.5,259.3 L353.0,259.5 L351.5,259.8 L349.9,260.2 L348.2,260.5 L346.6,260.2 L345.2,259.1 L344.1,257.6 L343.2,256.2 L342.1,254.9 L341.0,253.6 L340.1,252.1 L339.8,250.4 L339.8,248.6 L340.0,246.9 L340.2,245.2 L340.3,243.6 L340.9,242.0 L341.9,240.7 L343.0,239.7 L344.0,238.6 L344.8,237.2 L345.7,235.7 L346.9,234.5 L348.4,233.9 L350.0,233.9 L351.5,234.0 L353.0,233.9 L354.6,233.9 L356.3,234.1 L357.7,234.9 L359.0,236.1 L360.1,237.3 L361.3,238.5 L362.4,239.9 L363.1,241.6 L363.1,243.4 L362.7,245.3Z" fill="#fff" stroke="#000" stroke-width="1.9" stroke-linejoin="round"/>
<path d="M355.7,247.3 L355.5,247.9 L355.5,248.5 L355.6,249.2 L355.5,250.0 L355.2,250.6 L354.8,251.1 L354.2,251.6 L353.7,252.0 L353.1,252.4 L352.5,252.7 L351.8,252.8 L351.2,252.8 L350.5,252.9 L349.7,253.0 L349.0,252.9 L348.3,252.6 L347.8,252.0 L347.5,251.2 L347.3,250.5 L347.0,249.9 L346.6,249.3 L346.4,248.7 L346.2,248.0 L346.3,247.3 L346.4,246.6 L346.4,245.9 L346.6,245.2 L346.9,244.6 L347.4,244.1 L347.9,243.7 L348.3,243.2 L348.7,242.6 L349.1,241.9 L349.7,241.4 L350.4,241.2 L351.2,241.4 L351.8,241.6 L352.5,241.8 L353.2,242.0 L353.8,242.3 L354.4,242.7 L354.8,243.3 L355.3,243.9 L355.7,244.4 L356.0,245.1 L356.2,245.8 L356.0,246.6Z" fill="#f07a70" stroke="#000" stroke-width="1.5" stroke-linejoin="round"/>
<path d="M311.7,272.3 L312.0,274.1 L311.8,276.0 L310.9,277.6 L309.7,278.8 L308.4,279.9 L307.4,281.1 L306.3,282.2 L305.1,283.1 L303.7,283.7 L302.3,284.0 L300.9,284.5 L299.5,285.0 L298.0,285.4 L296.4,285.1 L295.1,284.2 L293.9,283.1 L292.7,282.2 L291.2,281.5 L289.7,280.7 L288.4,279.4 L287.7,277.7 L287.4,275.9 L287.3,274.1 L287.2,272.3 L287.3,270.5 L287.8,268.8 L288.7,267.3 L289.7,266.0 L290.5,264.7 L291.3,263.2 L292.3,261.8 L293.6,260.9 L295.1,260.6 L296.7,260.7 L298.1,260.7 L299.5,260.3 L301.0,259.9 L302.5,259.8 L304.0,260.2 L305.4,261.0 L306.7,261.8 L308.2,262.7 L309.4,263.8 L310.3,265.3 L310.7,267.1 L310.9,268.9 L311.2,270.6Z" fill="#fff" stroke="#000" stroke-width="1.9" stroke-linejoin="round"/>
<path d="M304.8,272.6 L304.5,273.2 L304.2,273.8 L304.1,274.5 L304.0,275.1 L303.8,275.8 L303.4,276.4 L302.9,276.8 L302.3,277.1 L301.8,277.5 L301.2,277.9 L300.5,278.1 L299.9,278.1 L299.2,278.1 L298.5,278.1 L297.8,278.1 L297.0,277.9 L296.3,277.5 L295.9,276.8 L295.7,276.0 L295.5,275.3 L295.3,274.6 L295.0,274.0 L294.8,273.3 L294.8,272.6 L295.0,271.9 L295.2,271.2 L295.4,270.6 L295.6,269.9 L296.0,269.4 L296.5,269.0 L297.1,268.7 L297.6,268.3 L298.0,267.7 L298.5,267.1 L299.1,266.7 L299.9,266.6 L300.6,266.8 L301.2,267.1 L301.9,267.3 L302.6,267.5 L303.2,267.9 L303.7,268.5 L304.1,269.1 L304.4,269.7 L304.8,270.4 L305.0,271.1 L305.1,271.8Z" fill="#f07a70" stroke="#000" stroke-width="1.5" stroke-linejoin="round"/>
<path d="M337.3,273.1 L337.2,274.7 L337.1,276.4 L336.8,278.0 L336.1,279.5 L335.0,280.7 L333.9,281.7 L332.8,282.9 L331.9,284.2 L330.8,285.7 L329.4,286.7 L327.8,287.1 L326.1,286.9 L324.5,286.5 L322.9,286.2 L321.4,285.7 L320.0,284.9 L318.8,283.7 L317.8,282.3 L316.8,281.0 L315.8,279.7 L314.9,278.2 L314.6,276.5 L314.8,274.8 L315.3,273.1 L315.7,271.6 L315.7,270.0 L315.8,268.3 L316.1,266.7 L316.8,265.2 L317.9,263.9 L319.0,262.8 L320.2,261.7 L321.5,260.7 L323.0,260.0 L324.5,259.9 L326.1,259.9 L327.7,259.9 L329.3,259.8 L331.0,259.9 L332.6,260.7 L333.7,262.1 L334.5,263.8 L335.2,265.4 L335.9,266.8 L336.6,268.2 L337.2,269.8 L337.4,271.5Z" fill="#fff" stroke="#000" stroke-width="1.9" stroke-linejoin="round"/>
<path d="M331.7,272.5 L331.8,273.3 L331.6,274.0 L331.2,274.7 L330.8,275.2 L330.4,275.9 L330.2,276.6 L329.8,277.3 L329.2,277.8 L328.4,277.9 L327.7,277.7 L327.0,277.7 L326.4,277.7 L325.7,277.8 L325.1,277.7 L324.5,277.3 L324.0,276.9 L323.5,276.6 L322.8,276.3 L322.3,275.9 L321.9,275.3 L321.8,274.6 L321.8,273.8 L321.6,273.2 L321.3,272.5 L320.9,271.7 L320.9,270.9 L321.3,270.2 L321.7,269.6 L322.2,269.1 L322.6,268.5 L323.1,267.9 L323.7,267.6 L324.4,267.5 L325.1,267.4 L325.7,267.3 L326.4,267.0 L327.1,266.9 L327.7,267.1 L328.2,267.7 L328.7,268.3 L329.1,268.7 L329.7,269.0 L330.3,269.3 L330.8,269.8 L331.1,270.4 L331.3,271.1 L331.5,271.8Z" fill="#f07a70" stroke="#000" stroke-width="1.5" stroke-linejoin="round"/>
<path d="M363.3,274.9 L363.0,276.5 L362.8,278.1 L362.4,279.7 L361.8,281.2 L360.9,282.5 L360.0,283.8 L359.1,285.2 L358.1,286.6 L356.7,287.6 L355.1,287.9 L353.5,287.9 L352.0,287.7 L350.5,287.7 L348.9,287.8 L347.2,287.7 L345.7,286.9 L344.5,285.8 L343.5,284.4 L342.5,283.0 L341.7,281.5 L341.1,279.9 L340.9,278.2 L341.0,276.5 L341.0,274.9 L340.8,273.3 L340.7,271.5 L341.0,269.8 L341.8,268.3 L342.9,267.2 L344.1,266.2 L345.2,265.1 L346.3,263.9 L347.5,262.7 L348.9,262.0 L350.4,261.6 L352.0,261.4 L353.6,261.4 L355.2,261.5 L356.8,262.1 L358.1,263.2 L359.1,264.6 L360.1,265.9 L361.2,267.1 L362.4,268.3 L363.3,269.7 L363.7,271.4 L363.6,273.2Z" fill="#fff" stroke="#000" stroke-width="1.9" stroke-linejoin="round"/>
<path d="M356.7,274.8 L356.6,275.5 L356.5,276.3 L356.3,277.0 L356.0,277.7 L355.5,278.2 L355.1,278.7 L354.6,279.3 L354.1,279.8 L353.4,280.1 L352.7,280.1 L352.0,279.9 L351.4,279.7 L350.8,279.6 L350.2,279.8 L349.5,279.8 L348.8,279.6 L348.3,279.2 L347.9,278.7 L347.4,278.1 L347.0,277.6 L346.6,277.0 L346.4,276.3 L346.3,275.5 L346.3,274.8 L346.1,274.1 L346.0,273.3 L346.1,272.5 L346.6,271.8 L347.2,271.4 L347.9,271.0 L348.5,270.7 L349.0,270.3 L349.5,269.8 L350.1,269.6 L350.8,269.5 L351.4,269.5 L352.1,269.6 L352.7,269.6 L353.3,269.8 L353.9,270.3 L354.3,270.8 L354.7,271.3 L355.3,271.6 L355.9,272.0 L356.5,272.5 L356.8,273.2 L356.8,274.0Z" fill="#f07a70" stroke="#000" stroke-width="1.5" stroke-linejoin="round"/>
<text x="320.5" y="310.8" font-size="15" text-anchor="middle" fill="#000" >A549/PTX-Cas9</text>
<polyline points="409.5,100.5 419.0,100.5 419.0,230.7 410.0,230.7" fill="none" stroke="#000" stroke-width="3" />
<line x1="419.0" y1="161.2" x2="518.7" y2="161.2" stroke="#000" stroke-width="3" />
<polygon points="527.7,161.2 517.7,156.2 517.7,166.2" fill="#000"/>
<text x="473.5" y="150.0" font-size="15" text-anchor="middle" fill="#000" >Infection</text>
<text x="474.0" y="186.0" font-size="15" text-anchor="middle" fill="#000" >MOI=0.3</text>
<path d="M578.5,128.7 L578.1,130.4 L577.8,132.1 L577.4,133.8 L576.6,135.2 L575.4,136.4 L574.3,137.4 L573.2,138.6 L572.3,140.0 L571.1,141.3 L569.6,142.1 L568.0,142.1 L566.4,141.7 L564.9,141.5 L563.3,141.5 L561.7,141.4 L560.1,140.9 L558.7,139.9 L557.6,138.5 L556.5,137.1 L555.5,135.7 L554.6,134.1 L554.3,132.3 L554.5,130.4 L554.9,128.7 L555.1,127.0 L555.1,125.3 L555.2,123.5 L555.8,121.9 L556.9,120.6 L558.3,119.7 L559.5,118.8 L560.7,117.7 L561.9,116.7 L563.3,115.9 L564.9,115.6 L566.4,115.6 L568.0,115.4 L569.6,115.3 L571.3,115.4 L572.9,116.2 L574.0,117.7 L574.9,119.3 L575.8,120.7 L576.9,121.9 L578.0,123.3 L578.7,125.0 L578.8,126.9Z" fill="#fff" stroke="#000" stroke-width="1.9" stroke-linejoin="round"/>
<path d="M570.8,129.7 L570.8,130.4 L570.7,131.1 L570.5,131.7 L570.3,132.4 L570.1,133.1 L569.7,133.7 L569.1,134.2 L568.5,134.5 L567.8,134.7 L567.2,135.1 L566.6,135.5 L565.9,135.8 L565.2,135.7 L564.5,135.3 L563.9,134.7 L563.4,134.3 L562.9,133.9 L562.4,133.4 L562.0,132.9 L561.7,132.3 L561.5,131.6 L561.2,131.0 L560.9,130.4 L560.8,129.7 L560.9,129.0 L561.2,128.3 L561.6,127.7 L561.7,127.1 L561.9,126.3 L562.1,125.5 L562.5,124.9 L563.1,124.5 L563.8,124.3 L564.5,124.1 L565.2,123.9 L565.9,123.9 L566.6,124.0 L567.2,124.3 L567.8,124.7 L568.4,124.9 L569.1,125.2 L569.6,125.6 L570.0,126.3 L570.1,127.0 L570.1,127.8 L570.3,128.4 L570.5,129.0Z" fill="#c5def2" stroke="#000" stroke-width="1.5" stroke-linejoin="round"/>
<path d="M606.4,129.2 L606.2,131.1 L605.4,132.8 L604.6,134.3 L603.9,135.9 L603.2,137.5 L602.4,139.1 L601.1,140.2 L599.5,140.8 L597.9,141.0 L596.4,141.2 L595.0,141.6 L593.5,141.9 L592.0,141.9 L590.5,141.5 L589.1,140.9 L587.7,140.4 L586.1,139.9 L584.7,139.0 L583.6,137.7 L582.9,136.0 L582.4,134.3 L581.9,132.7 L581.1,131.0 L580.6,129.2 L580.5,127.3 L581.1,125.5 L582.0,123.9 L582.9,122.4 L583.8,120.9 L584.9,119.6 L586.2,118.7 L587.7,118.1 L589.2,117.6 L590.6,117.0 L592.0,116.3 L593.5,115.9 L595.1,116.1 L596.5,116.8 L597.8,117.7 L599.1,118.4 L600.6,119.0 L602.1,119.7 L603.4,120.8 L604.3,122.3 L605.0,123.9 L605.6,125.6 L606.2,127.3Z" fill="#fff" stroke="#000" stroke-width="1.9" stroke-linejoin="round"/>
<path d="M599.0,129.4 L599.3,130.1 L599.3,130.8 L599.1,131.5 L598.7,132.1 L598.3,132.6 L598.0,133.2 L597.6,133.9 L597.1,134.4 L596.4,134.6 L595.8,134.7 L595.1,135.0 L594.5,135.3 L593.7,135.6 L593.0,135.5 L592.3,135.0 L591.9,134.3 L591.4,133.7 L590.9,133.2 L590.4,132.8 L590.0,132.2 L589.8,131.5 L589.8,130.8 L589.8,130.1 L589.6,129.4 L589.5,128.7 L589.7,128.1 L590.1,127.5 L590.5,127.0 L590.8,126.4 L591.0,125.7 L591.2,124.9 L591.7,124.2 L592.4,124.0 L593.1,123.9 L593.8,123.9 L594.5,123.7 L595.2,123.6 L595.9,123.7 L596.5,124.1 L597.1,124.6 L597.6,125.0 L598.2,125.4 L598.7,125.9 L599.1,126.6 L599.0,127.4 L598.9,128.2 L598.8,128.8Z" fill="#f0c8a8" stroke="#000" stroke-width="1.5" stroke-linejoin="round"/>
<path d="M631.9,132.8 L632.2,134.6 L632.4,136.5 L632.1,138.3 L631.1,139.9 L629.8,141.1 L628.6,142.2 L627.4,143.4 L626.3,144.8 L625.0,145.9 L623.4,146.5 L621.7,146.6 L620.1,146.4 L618.5,146.0 L617.0,145.6 L615.6,144.9 L614.4,143.8 L613.3,142.6 L612.3,141.5 L611.0,140.5 L609.8,139.4 L608.8,138.0 L608.3,136.3 L608.3,134.5 L608.5,132.8 L608.6,131.1 L608.5,129.3 L608.7,127.5 L609.2,125.8 L610.1,124.3 L611.2,122.9 L612.3,121.5 L613.7,120.4 L615.2,119.7 L616.9,119.5 L618.6,119.8 L620.1,120.0 L621.6,120.0 L623.2,119.9 L624.8,120.2 L626.2,121.1 L627.3,122.4 L628.2,123.8 L629.0,125.2 L630.0,126.5 L630.8,127.9 L631.3,129.5 L631.6,131.1Z" fill="#fff" stroke="#000" stroke-width="1.9" stroke-linejoin="round"/>
<path d="M625.7,133.6 L625.6,134.4 L625.3,135.1 L624.9,135.7 L624.7,136.3 L624.6,137.1 L624.3,138.0 L623.9,138.6 L623.2,139.0 L622.4,139.1 L621.7,139.1 L621.0,139.2 L620.3,139.2 L619.7,139.0 L619.1,138.6 L618.6,138.3 L618.0,138.0 L617.4,137.8 L616.8,137.5 L616.3,136.9 L616.2,136.2 L616.2,135.5 L616.0,134.9 L615.7,134.3 L615.3,133.6 L615.1,132.9 L615.1,132.1 L615.4,131.4 L615.6,130.7 L615.9,130.0 L616.4,129.3 L617.0,128.9 L617.7,128.7 L618.4,128.6 L619.0,128.3 L619.6,128.0 L620.3,127.7 L621.0,127.8 L621.7,128.3 L622.2,128.9 L622.6,129.4 L623.1,129.8 L623.6,130.1 L624.1,130.5 L624.4,131.1 L624.7,131.7 L625.0,132.3 L625.4,132.9Z" fill="#6abf4b" stroke="#000" stroke-width="1.5" stroke-linejoin="round"/>
<path d="M565.1,154.3 L564.8,155.9 L564.6,157.6 L564.4,159.3 L564.0,161.0 L563.1,162.4 L561.8,163.5 L560.5,164.2 L559.2,165.1 L558.0,166.2 L556.8,167.4 L555.3,168.3 L553.6,168.6 L551.9,168.3 L550.3,167.9 L548.7,167.3 L547.2,166.6 L545.9,165.4 L545.0,163.9 L544.2,162.4 L543.3,160.9 L542.4,159.5 L541.5,157.9 L541.3,156.1 L541.6,154.3 L542.3,152.7 L543.0,151.1 L543.4,149.6 L543.8,148.0 L544.4,146.4 L545.3,145.1 L546.4,143.9 L547.6,142.8 L548.9,141.7 L550.4,140.8 L552.0,140.5 L553.6,140.7 L555.2,141.1 L556.7,141.4 L558.4,141.5 L560.1,141.8 L561.6,142.7 L562.8,144.1 L563.5,145.9 L564.0,147.6 L564.5,149.3 L565.0,150.9 L565.2,152.6Z" fill="#fff" stroke="#000" stroke-width="1.9" stroke-linejoin="round"/>
<path d="M559.8,153.5 L559.8,154.3 L559.6,155.0 L559.3,155.7 L559.1,156.4 L558.7,157.1 L558.3,157.7 L557.7,158.1 L557.0,158.4 L556.4,158.7 L555.8,159.1 L555.2,159.4 L554.4,159.4 L553.7,159.0 L553.2,158.5 L552.7,158.0 L552.2,157.7 L551.6,157.5 L551.0,157.2 L550.6,156.7 L550.2,156.1 L549.9,155.5 L549.6,154.9 L549.3,154.2 L549.3,153.5 L549.4,152.8 L549.6,152.1 L549.8,151.4 L549.8,150.6 L549.9,149.7 L550.3,149.0 L550.9,148.5 L551.7,148.4 L552.4,148.3 L553.1,148.2 L553.8,148.0 L554.4,148.0 L555.1,148.1 L555.7,148.4 L556.3,148.7 L556.9,148.9 L557.5,149.2 L557.9,149.7 L558.2,150.4 L558.3,151.1 L558.5,151.7 L558.9,152.2 L559.4,152.8Z" fill="#e8be2e" stroke="#000" stroke-width="1.5" stroke-linejoin="round"/>
<path d="M593.2,156.3 L593.1,158.0 L593.0,159.8 L592.7,161.6 L592.0,163.2 L591.0,164.6 L589.7,165.8 L588.5,166.9 L587.4,168.2 L586.1,169.5 L584.6,170.4 L582.9,170.6 L581.2,170.2 L579.6,169.5 L578.2,168.8 L576.7,168.3 L575.3,167.6 L574.1,166.6 L573.0,165.4 L572.1,164.1 L571.1,162.8 L570.1,161.4 L569.6,159.8 L569.5,158.0 L569.8,156.3 L570.0,154.7 L570.0,153.0 L570.0,151.1 L570.2,149.2 L570.9,147.6 L572.2,146.2 L573.6,145.2 L575.0,144.3 L576.4,143.5 L578.0,142.9 L579.6,142.8 L581.2,143.0 L582.8,143.2 L584.3,143.3 L585.9,143.6 L587.4,144.3 L588.5,145.6 L589.3,147.3 L589.9,148.8 L590.7,150.2 L591.6,151.5 L592.5,152.9 L593.0,154.6Z" fill="#fff" stroke="#000" stroke-width="1.9" stroke-linejoin="round"/>
<path d="M585.9,157.2 L585.8,158.0 L585.7,158.8 L585.5,159.5 L585.2,160.2 L584.7,160.8 L584.1,161.2 L583.4,161.5 L582.7,161.6 L582.2,161.9 L581.6,162.3 L581.0,162.6 L580.4,162.6 L579.7,162.4 L579.2,162.2 L578.6,161.9 L578.0,161.7 L577.4,161.4 L576.9,161.0 L576.5,160.5 L576.0,160.0 L575.5,159.4 L575.0,158.8 L574.7,158.0 L574.7,157.2 L575.0,156.5 L575.4,155.8 L575.6,155.1 L575.8,154.4 L576.1,153.7 L576.6,153.1 L577.2,152.8 L577.9,152.5 L578.5,152.3 L579.1,152.1 L579.7,152.1 L580.4,152.2 L581.0,152.4 L581.5,152.6 L582.2,152.6 L582.9,152.6 L583.5,152.8 L584.1,153.2 L584.5,153.8 L584.8,154.5 L585.1,155.1 L585.4,155.8 L585.7,156.5Z" fill="#f5c0cc" stroke="#000" stroke-width="1.5" stroke-linejoin="round"/>
<path d="M619.8,158.9 L620.1,160.8 L619.8,162.6 L619.1,164.3 L618.2,165.9 L617.3,167.5 L616.3,168.9 L614.9,169.9 L613.3,170.5 L611.8,170.9 L610.3,171.5 L608.9,172.2 L607.3,172.6 L605.7,172.4 L604.3,171.5 L603.0,170.4 L601.9,169.4 L600.5,168.7 L599.2,167.9 L597.9,166.9 L597.0,165.5 L596.3,164.0 L595.6,162.4 L594.9,160.7 L594.5,158.9 L594.7,157.1 L595.4,155.4 L596.2,153.8 L596.8,152.2 L597.4,150.4 L598.1,148.7 L599.3,147.3 L600.9,146.7 L602.7,146.4 L604.3,146.3 L605.8,146.1 L607.3,145.9 L608.8,146.1 L610.2,146.7 L611.6,147.4 L613.0,147.9 L614.5,148.5 L615.9,149.4 L616.9,150.7 L617.5,152.4 L617.8,154.1 L618.3,155.6 L619.1,157.2Z" fill="#fff" stroke="#000" stroke-width="1.9" stroke-linejoin="round"/>
<path d="M613.0,158.0 L612.9,158.7 L612.8,159.3 L612.5,159.9 L612.2,160.5 L611.9,161.0 L611.6,161.7 L611.3,162.3 L610.8,162.9 L610.2,163.1 L609.5,163.1 L608.9,163.2 L608.2,163.4 L607.5,163.7 L606.8,163.8 L606.0,163.7 L605.4,163.3 L604.9,162.7 L604.4,162.1 L603.9,161.6 L603.6,160.9 L603.5,160.1 L603.5,159.3 L603.5,158.7 L603.4,158.0 L603.2,157.3 L603.3,156.5 L603.6,155.9 L604.2,155.5 L604.7,155.1 L605.1,154.6 L605.4,154.0 L605.8,153.4 L606.3,152.9 L606.9,152.6 L607.6,152.4 L608.2,152.2 L609.0,152.0 L609.7,152.1 L610.3,152.5 L610.9,153.1 L611.4,153.6 L611.9,154.0 L612.6,154.4 L613.1,154.9 L613.3,155.7 L613.3,156.5 L613.1,157.3Z" fill="#8fb0e8" stroke="#000" stroke-width="1.5" stroke-linejoin="round"/>
<path d="M565.5,183.5 L565.0,185.2 L564.7,186.8 L564.7,188.6 L564.6,190.6 L564.0,192.3 L562.8,193.7 L561.3,194.7 L559.8,195.5 L558.4,196.3 L556.8,196.9 L555.2,197.1 L553.6,196.8 L552.1,196.2 L550.6,195.9 L549.0,195.8 L547.5,195.3 L546.2,194.3 L545.3,192.7 L544.8,191.0 L544.2,189.6 L543.3,188.3 L542.3,186.9 L541.6,185.3 L541.5,183.5 L541.6,181.7 L541.8,180.0 L542.0,178.2 L542.5,176.4 L543.5,174.9 L544.9,173.8 L546.3,172.9 L547.6,171.9 L548.8,170.7 L550.3,169.6 L551.9,169.2 L553.6,169.5 L555.2,170.4 L556.6,171.1 L558.0,171.7 L559.4,172.3 L560.7,173.2 L561.7,174.5 L562.6,175.8 L563.5,177.1 L564.6,178.4 L565.4,180.0 L565.7,181.7Z" fill="#fff" stroke="#000" stroke-width="1.9" stroke-linejoin="round"/>
<path d="M557.9,183.7 L557.8,184.4 L557.5,185.1 L557.2,185.7 L556.9,186.3 L556.6,186.9 L556.2,187.4 L555.6,187.8 L555.0,188.0 L554.4,188.2 L553.9,188.7 L553.4,189.1 L552.7,189.4 L552.0,189.4 L551.3,189.2 L550.7,188.8 L550.1,188.5 L549.4,188.2 L548.9,187.8 L548.4,187.2 L548.1,186.5 L547.8,185.8 L547.5,185.2 L547.3,184.4 L547.3,183.7 L547.6,182.9 L548.0,182.3 L548.4,181.8 L548.7,181.2 L548.9,180.5 L549.2,179.9 L549.6,179.4 L550.2,179.1 L550.8,178.8 L551.4,178.5 L552.0,178.3 L552.7,178.1 L553.3,178.2 L554.0,178.4 L554.6,178.6 L555.3,178.7 L556.1,178.9 L556.7,179.3 L557.1,180.0 L557.3,180.8 L557.4,181.6 L557.6,182.2 L557.8,182.9Z" fill="#8a9fbf" stroke="#000" stroke-width="1.5" stroke-linejoin="round"/>
<path d="M593.2,184.0 L593.3,185.8 L593.1,187.5 L592.5,189.2 L591.9,190.9 L591.2,192.5 L590.4,194.2 L589.2,195.6 L587.6,196.4 L585.9,196.6 L584.2,196.5 L582.7,196.6 L581.2,196.9 L579.6,197.1 L578.1,196.9 L576.7,196.2 L575.4,195.2 L574.1,194.2 L573.0,193.2 L571.9,191.9 L571.2,190.4 L570.7,188.8 L570.2,187.3 L569.5,185.7 L568.8,184.0 L568.4,182.1 L568.6,180.3 L569.5,178.6 L570.5,177.2 L571.6,175.8 L572.5,174.4 L573.6,173.0 L575.0,172.0 L576.5,171.3 L578.0,170.9 L579.6,170.5 L581.2,170.4 L582.8,170.6 L584.2,171.4 L585.5,172.4 L586.7,173.5 L587.9,174.3 L589.3,175.0 L590.7,175.9 L591.8,177.2 L592.4,178.8 L592.7,180.6 L593.0,182.3Z" fill="#fff" stroke="#000" stroke-width="1.9" stroke-linejoin="round"/>
<path d="M586.4,183.4 L586.5,184.2 L586.2,184.9 L585.7,185.4 L585.2,185.9 L584.9,186.4 L584.7,187.1 L584.5,187.8 L584.0,188.3 L583.3,188.6 L582.7,188.8 L582.0,189.0 L581.4,189.2 L580.6,189.3 L580.0,189.1 L579.4,188.7 L578.8,188.2 L578.2,187.9 L577.5,187.6 L576.9,187.1 L576.6,186.4 L576.6,185.6 L576.7,184.8 L576.7,184.1 L576.6,183.4 L576.5,182.8 L576.6,182.1 L576.9,181.5 L577.3,180.9 L577.5,180.3 L577.8,179.6 L578.2,179.0 L578.8,178.7 L579.5,178.5 L580.1,178.4 L580.7,178.2 L581.4,177.7 L582.1,177.4 L582.8,177.5 L583.5,177.9 L584.0,178.5 L584.5,179.0 L585.1,179.4 L585.6,180.0 L585.9,180.6 L586.0,181.4 L586.1,182.1 L586.2,182.8Z" fill="#f5f3c8" stroke="#000" stroke-width="1.5" stroke-linejoin="round"/>
<path d="M619.0,186.5 L618.7,188.2 L618.5,189.8 L618.0,191.4 L617.3,192.9 L616.2,194.1 L615.1,195.2 L614.1,196.4 L613.2,197.8 L612.0,199.1 L610.5,200.0 L608.9,200.2 L607.3,200.1 L605.7,199.9 L604.1,199.8 L602.4,199.5 L600.9,198.9 L599.6,197.7 L598.5,196.3 L597.4,194.9 L596.4,193.5 L595.6,191.9 L595.4,190.1 L595.6,188.2 L596.0,186.5 L596.3,184.9 L596.4,183.2 L596.5,181.5 L597.1,179.9 L598.0,178.6 L599.2,177.5 L600.4,176.4 L601.5,175.3 L602.7,174.3 L604.2,173.5 L605.7,173.2 L607.3,173.1 L608.9,172.9 L610.6,172.8 L612.3,173.0 L613.9,173.8 L615.1,175.2 L616.0,176.8 L616.9,178.3 L617.8,179.8 L618.7,181.3 L619.2,182.9 L619.3,184.7Z" fill="#fff" stroke="#000" stroke-width="1.9" stroke-linejoin="round"/>
<path d="M611.5,186.1 L611.8,186.8 L611.8,187.6 L611.5,188.2 L611.0,188.7 L610.5,189.2 L610.1,189.8 L609.8,190.4 L609.3,191.0 L608.7,191.3 L608.1,191.5 L607.4,191.7 L606.7,192.0 L606.0,192.1 L605.3,192.0 L604.7,191.5 L604.2,190.8 L603.8,190.3 L603.2,189.9 L602.6,189.6 L602.1,189.0 L601.9,188.3 L601.9,187.5 L602.0,186.8 L602.0,186.1 L601.9,185.4 L602.0,184.8 L602.3,184.1 L602.7,183.6 L603.0,183.0 L603.2,182.3 L603.5,181.5 L604.0,181.0 L604.7,180.8 L605.4,180.8 L606.1,180.8 L606.7,180.6 L607.4,180.4 L608.2,180.4 L608.8,180.6 L609.4,181.1 L609.9,181.6 L610.5,182.1 L610.9,182.6 L611.2,183.3 L611.3,184.1 L611.2,184.8 L611.3,185.5Z" fill="#c4ebc0" stroke="#000" stroke-width="1.5" stroke-linejoin="round"/>
<text x="694.5" y="133.0" font-size="15" text-anchor="middle" fill="#000" >Selection for</text>
<text x="696.2" y="151.0" font-size="15" text-anchor="middle" fill="#000" >infected cells</text>
<line x1="657.0" y1="165.6" x2="734.0" y2="165.6" stroke="#000" stroke-width="3" />
<polygon points="743.0,165.6 733.0,160.6 733.0,170.6" fill="#000"/>
<path d="M816.4,147.0 L816.1,148.8 L815.6,150.4 L815.1,152.1 L814.6,153.8 L813.9,155.4 L812.8,156.8 L811.6,158.1 L810.4,159.3 L809.0,160.4 L807.4,161.1 L805.7,161.3 L804.0,160.8 L802.4,160.1 L801.0,159.5 L799.5,159.1 L797.9,158.7 L796.5,157.9 L795.3,156.7 L794.5,155.1 L793.8,153.6 L793.1,152.0 L792.6,150.4 L792.3,148.7 L792.3,147.0 L792.4,145.3 L792.4,143.5 L792.4,141.7 L792.7,139.8 L793.6,138.1 L794.9,136.9 L796.4,136.0 L797.9,135.3 L799.3,134.4 L800.8,133.6 L802.3,133.0 L804.0,132.9 L805.6,133.2 L807.2,133.7 L808.7,134.3 L810.2,135.1 L811.3,136.4 L812.2,137.9 L812.9,139.4 L813.8,140.7 L814.8,142.0 L815.8,143.5 L816.4,145.2Z" fill="#fff" stroke="#000" stroke-width="1.9" stroke-linejoin="round"/>
<path d="M808.3,146.1 L808.3,146.8 L808.4,147.5 L808.4,148.3 L808.3,149.0 L807.8,149.6 L807.2,150.0 L806.7,150.4 L806.2,150.9 L805.7,151.4 L805.1,151.9 L804.4,152.1 L803.6,152.0 L802.9,151.9 L802.3,151.7 L801.6,151.5 L801.0,151.1 L800.6,150.5 L800.3,149.8 L799.9,149.2 L799.5,148.7 L799.0,148.2 L798.7,147.6 L798.7,146.9 L798.8,146.1 L799.0,145.5 L799.1,144.8 L799.1,144.1 L799.3,143.4 L799.6,142.8 L800.0,142.2 L800.5,141.7 L801.0,141.1 L801.5,140.6 L802.2,140.3 L802.9,140.3 L803.6,140.6 L804.3,140.8 L805.0,140.8 L805.7,140.8 L806.4,141.1 L806.9,141.6 L807.3,142.2 L807.5,142.9 L807.8,143.5 L808.1,144.1 L808.3,144.8 L808.3,145.5Z" fill="#f0c8a8" stroke="#000" stroke-width="1.5" stroke-linejoin="round"/>
<path d="M843.6,150.0 L843.6,151.9 L843.2,153.6 L842.4,155.2 L841.4,156.7 L840.6,158.2 L839.7,159.7 L838.6,161.0 L837.1,161.7 L835.4,161.8 L833.8,161.7 L832.4,162.0 L831.0,162.7 L829.4,163.3 L827.8,163.3 L826.3,162.7 L824.9,161.8 L823.5,160.8 L822.1,159.9 L820.8,158.7 L819.9,157.1 L819.4,155.3 L819.0,153.6 L818.5,151.8 L817.9,150.0 L817.7,148.0 L818.2,146.2 L819.4,144.6 L820.7,143.4 L821.9,142.2 L822.8,140.9 L823.8,139.5 L825.0,138.5 L826.5,138.0 L828.0,137.6 L829.5,137.2 L831.0,136.7 L832.6,136.6 L834.1,137.1 L835.5,138.0 L836.8,138.9 L838.2,139.6 L839.9,140.1 L841.5,141.0 L842.7,142.5 L843.2,144.4 L843.3,146.3 L843.5,148.2Z" fill="#fff" stroke="#000" stroke-width="1.9" stroke-linejoin="round"/>
<path d="M834.9,149.6 L835.0,150.2 L834.9,150.9 L834.6,151.6 L834.3,152.2 L834.1,152.8 L833.9,153.6 L833.5,154.3 L832.9,154.8 L832.2,154.9 L831.5,154.8 L830.8,154.9 L830.1,155.1 L829.4,155.4 L828.7,155.3 L828.1,155.0 L827.5,154.4 L827.1,153.9 L826.5,153.5 L826.1,152.9 L825.8,152.2 L825.8,151.5 L825.8,150.8 L825.6,150.2 L825.3,149.6 L825.0,148.8 L825.0,148.1 L825.4,147.4 L825.9,146.9 L826.4,146.4 L826.6,145.8 L827.0,145.1 L827.5,144.5 L828.1,144.2 L828.8,144.0 L829.4,143.8 L830.1,143.6 L830.9,143.6 L831.6,143.8 L832.1,144.4 L832.6,145.1 L833.0,145.5 L833.6,145.8 L834.3,146.1 L834.7,146.7 L834.9,147.5 L834.8,148.2 L834.8,148.9Z" fill="#6abf4b" stroke="#000" stroke-width="1.5" stroke-linejoin="round"/>
<path d="M802.3,174.0 L802.4,175.8 L802.2,177.6 L801.6,179.4 L800.9,181.0 L800.1,182.6 L799.2,184.2 L798.0,185.6 L796.5,186.5 L794.7,186.7 L793.1,186.7 L791.5,186.8 L790.0,187.1 L788.4,187.3 L786.8,187.1 L785.4,186.4 L784.1,185.4 L782.9,184.4 L781.6,183.3 L780.5,182.1 L779.7,180.6 L779.1,179.0 L778.6,177.4 L778.0,175.8 L777.4,174.0 L777.0,172.1 L777.2,170.2 L778.1,168.5 L779.2,167.1 L780.3,165.7 L781.3,164.3 L782.3,162.9 L783.7,161.8 L785.2,161.2 L786.8,160.8 L788.4,160.5 L790.0,160.4 L791.6,160.5 L793.1,161.1 L794.4,162.2 L795.6,163.2 L796.9,164.1 L798.3,164.8 L799.7,165.7 L800.8,167.0 L801.5,168.7 L801.8,170.5 L802.0,172.2Z" fill="#fff" stroke="#000" stroke-width="1.9" stroke-linejoin="round"/>
<path d="M795.0,174.7 L795.1,175.5 L794.9,176.3 L794.4,176.9 L793.8,177.4 L793.2,177.7 L792.8,178.2 L792.5,178.8 L792.1,179.4 L791.5,179.8 L790.8,179.9 L790.2,179.8 L789.6,179.8 L788.9,179.9 L788.3,179.9 L787.7,179.7 L787.1,179.4 L786.5,179.0 L785.8,178.8 L785.1,178.4 L784.5,177.9 L784.3,177.1 L784.3,176.2 L784.5,175.4 L784.5,174.7 L784.5,174.0 L784.4,173.2 L784.6,172.5 L785.1,171.9 L785.6,171.4 L786.1,171.0 L786.6,170.5 L787.1,170.2 L787.8,170.0 L788.4,170.0 L789.0,170.0 L789.6,169.7 L790.2,169.4 L790.9,169.2 L791.6,169.3 L792.2,169.8 L792.7,170.4 L793.1,170.9 L793.7,171.3 L794.2,171.8 L794.6,172.5 L794.8,173.2 L794.9,174.0Z" fill="#f5c0cc" stroke="#000" stroke-width="1.5" stroke-linejoin="round"/>
<path d="M829.7,175.6 L829.1,177.4 L828.7,179.1 L828.4,180.9 L827.9,182.6 L826.9,184.1 L825.7,185.2 L824.3,186.2 L823.0,187.2 L821.6,188.0 L820.1,188.4 L818.5,188.4 L817.0,188.1 L815.5,188.0 L814.0,188.0 L812.3,188.1 L810.7,187.8 L809.3,186.8 L808.2,185.4 L807.3,183.9 L806.4,182.4 L805.4,180.9 L804.7,179.3 L804.3,177.5 L804.3,175.6 L804.5,173.8 L804.7,171.9 L805.0,170.1 L805.8,168.4 L807.1,167.2 L808.7,166.3 L810.1,165.5 L811.3,164.6 L812.5,163.5 L813.9,162.6 L815.4,162.2 L817.0,162.3 L818.5,162.7 L820.0,163.0 L821.6,163.3 L823.0,163.9 L824.4,164.9 L825.5,166.2 L826.6,167.4 L827.9,168.6 L829.1,170.0 L829.9,171.8 L830.1,173.7Z" fill="#fff" stroke="#000" stroke-width="1.9" stroke-linejoin="round"/>
<path d="M822.8,175.5 L822.8,176.2 L822.8,177.0 L822.7,177.7 L822.3,178.3 L821.8,178.8 L821.2,179.3 L820.7,179.7 L820.2,180.1 L819.6,180.3 L818.9,180.3 L818.3,180.3 L817.7,180.4 L817.1,180.6 L816.4,180.9 L815.7,180.8 L815.1,180.5 L814.6,179.9 L814.2,179.4 L813.6,178.9 L813.1,178.4 L812.7,177.8 L812.4,177.0 L812.3,176.3 L812.3,175.5 L812.3,174.7 L812.4,174.0 L812.7,173.3 L813.3,172.8 L814.0,172.4 L814.5,172.0 L814.9,171.5 L815.3,170.9 L815.8,170.5 L816.4,170.3 L817.1,170.4 L817.7,170.4 L818.3,170.4 L819.0,170.4 L819.6,170.5 L820.2,170.8 L820.8,171.2 L821.4,171.6 L822.0,171.9 L822.7,172.4 L823.0,173.1 L823.1,173.9 L822.9,174.8Z" fill="#8fb0e8" stroke="#000" stroke-width="1.5" stroke-linejoin="round"/>
<path d="M857.1,175.0 L857.1,176.8 L856.5,178.4 L855.8,180.0 L855.3,181.6 L854.8,183.4 L854.2,185.2 L853.1,186.7 L851.5,187.5 L849.8,187.9 L848.2,188.1 L846.6,188.6 L845.0,189.0 L843.3,189.0 L841.8,188.4 L840.3,187.5 L839.0,186.6 L837.6,185.8 L836.2,184.7 L835.3,183.3 L834.8,181.6 L834.6,179.8 L834.2,178.2 L833.5,176.7 L832.8,175.0 L832.6,173.2 L832.9,171.4 L833.7,169.8 L834.5,168.3 L835.3,166.7 L836.1,165.1 L837.3,163.8 L838.7,162.9 L840.3,162.3 L841.8,161.7 L843.3,160.9 L845.0,160.4 L846.7,160.6 L848.3,161.5 L849.6,162.7 L850.8,163.9 L852.1,164.7 L853.5,165.5 L854.7,166.7 L855.5,168.3 L855.9,170.0 L856.3,171.6 L856.8,173.3Z" fill="#fff" stroke="#000" stroke-width="1.9" stroke-linejoin="round"/>
<path d="M849.8,174.7 L849.8,175.4 L849.6,176.1 L849.3,176.7 L849.0,177.3 L848.8,178.0 L848.6,178.8 L848.3,179.5 L847.7,180.0 L847.0,180.2 L846.3,180.2 L845.6,180.3 L844.9,180.4 L844.2,180.5 L843.5,180.3 L842.9,179.9 L842.3,179.5 L841.8,179.1 L841.2,178.7 L840.8,178.1 L840.6,177.4 L840.6,176.7 L840.6,176.0 L840.4,175.4 L840.1,174.7 L839.9,174.0 L839.9,173.3 L840.2,172.6 L840.6,172.0 L840.9,171.4 L841.3,170.8 L841.7,170.2 L842.3,169.8 L842.9,169.5 L843.5,169.3 L844.2,169.0 L844.9,168.7 L845.6,168.7 L846.3,169.0 L846.9,169.5 L847.4,170.2 L847.8,170.6 L848.4,171.0 L848.9,171.5 L849.2,172.0 L849.4,172.7 L849.5,173.4 L849.7,174.1Z" fill="#c4ebc0" stroke="#000" stroke-width="1.5" stroke-linejoin="round"/>
<line x1="866.0" y1="155.0" x2="878.5" y2="155.0" stroke="#000" stroke-width="3" />
<line x1="877.5" y1="91.5" x2="877.5" y2="224.0" stroke="#000" stroke-width="3" />
<line x1="876.0" y1="93.0" x2="943.5" y2="93.0" stroke="#000" stroke-width="3" />
<polygon points="952.5,93.0 942.5,88.0 942.5,98.0" fill="#000"/>
<line x1="876.0" y1="222.5" x2="943.5" y2="222.5" stroke="#000" stroke-width="3" />
<polygon points="952.5,222.5 942.5,217.5 942.5,227.5" fill="#000"/>
<text x="907.0" y="60.5" font-size="15" text-anchor="middle" fill="#000" >Vehicle</text>
<text x="907.5" y="78.8" font-size="15" text-anchor="middle" fill="#000" >treatment</text>
<text x="915.4" y="192.5" font-size="15" text-anchor="middle" fill="#000" >PTX</text>
<text x="918.5" y="210.5" font-size="15" text-anchor="middle" fill="#000" >treatment</text>
<text x="1018.5" y="42.5" font-size="15" text-anchor="middle" fill="#000" >Day8</text>
<path d="M1014.7,68.8 L1014.8,70.5 L1014.7,72.4 L1014.2,74.1 L1013.2,75.6 L1011.9,76.8 L1010.5,77.7 L1009.3,78.7 L1008.2,79.8 L1007.0,80.9 L1005.6,81.5 L1004.0,81.6 L1002.5,81.3 L1001.1,81.0 L999.6,80.7 L998.2,80.3 L996.9,79.6 L995.7,78.7 L994.5,77.6 L993.3,76.6 L992.0,75.5 L990.9,74.1 L990.3,72.4 L990.3,70.5 L990.6,68.8 L990.8,67.0 L990.9,65.3 L991.1,63.5 L991.7,61.8 L992.8,60.4 L994.0,59.3 L995.3,58.3 L996.6,57.4 L998.0,56.8 L999.6,56.5 L1001.1,56.6 L1002.5,56.8 L1003.9,56.8 L1005.4,56.6 L1007.0,56.7 L1008.5,57.3 L1009.6,58.4 L1010.6,59.8 L1011.5,61.1 L1012.5,62.3 L1013.5,63.7 L1014.3,65.2 L1014.6,67.0Z" fill="#fff" stroke="#000" stroke-width="1.9" stroke-linejoin="round"/>
<path d="M1006.6,68.6 L1006.8,69.3 L1007.0,70.1 L1006.8,70.9 L1006.4,71.5 L1005.9,72.1 L1005.4,72.7 L1005.0,73.2 L1004.4,73.6 L1003.6,73.7 L1002.9,73.7 L1002.3,73.6 L1001.7,73.8 L1001.0,74.1 L1000.3,74.1 L999.7,73.7 L999.3,73.1 L998.9,72.5 L998.4,72.1 L997.9,71.7 L997.3,71.3 L997.0,70.7 L996.8,70.0 L996.6,69.3 L996.4,68.6 L996.2,67.8 L996.3,67.0 L996.6,66.3 L997.2,65.8 L997.7,65.3 L998.1,64.7 L998.4,64.0 L998.9,63.4 L999.6,63.1 L1000.3,63.2 L1001.0,63.3 L1001.7,63.4 L1002.3,63.4 L1002.9,63.5 L1003.5,63.8 L1004.0,64.2 L1004.5,64.6 L1005.1,64.9 L1005.8,65.2 L1006.3,65.7 L1006.5,66.4 L1006.5,67.2 L1006.4,67.9Z" fill="#c5def2" stroke="#000" stroke-width="1.5" stroke-linejoin="round"/>
<path d="M1042.0,68.8 L1042.0,70.5 L1042.0,72.3 L1041.6,74.1 L1040.6,75.6 L1039.4,76.7 L1038.1,77.8 L1037.0,79.0 L1036.0,80.3 L1034.8,81.5 L1033.2,82.1 L1031.6,81.9 L1030.0,81.4 L1028.5,81.0 L1027.1,80.7 L1025.7,80.4 L1024.4,79.6 L1023.2,78.6 L1022.1,77.5 L1020.9,76.5 L1019.7,75.4 L1018.7,74.0 L1018.3,72.2 L1018.4,70.4 L1018.7,68.8 L1018.7,67.1 L1018.5,65.3 L1018.5,63.4 L1019.0,61.7 L1020.1,60.3 L1021.4,59.2 L1022.7,58.2 L1024.0,57.2 L1025.4,56.5 L1027.0,56.2 L1028.5,56.3 L1030.0,56.5 L1031.5,56.4 L1033.0,56.2 L1034.6,56.4 L1036.0,57.3 L1037.0,58.7 L1037.7,60.1 L1038.6,61.4 L1039.7,62.5 L1040.8,63.8 L1041.6,65.3 L1041.9,67.0Z" fill="#fff" stroke="#000" stroke-width="1.9" stroke-linejoin="round"/>
<path d="M1034.3,69.6 L1034.5,70.2 L1034.7,71.0 L1034.5,71.7 L1034.2,72.3 L1033.8,72.9 L1033.4,73.4 L1033.0,74.1 L1032.5,74.6 L1031.9,74.9 L1031.2,75.0 L1030.5,75.1 L1029.8,75.3 L1029.1,75.5 L1028.4,75.5 L1027.7,75.1 L1027.2,74.5 L1026.8,73.8 L1026.4,73.3 L1026.0,72.8 L1025.5,72.3 L1025.3,71.6 L1025.2,70.9 L1025.1,70.2 L1025.0,69.6 L1025.0,68.9 L1025.0,68.2 L1025.3,67.5 L1025.7,67.0 L1026.1,66.5 L1026.4,65.8 L1026.6,65.1 L1027.1,64.4 L1027.7,64.0 L1028.4,63.9 L1029.1,63.9 L1029.8,63.9 L1030.5,63.9 L1031.2,64.0 L1031.9,64.3 L1032.4,64.7 L1032.9,65.2 L1033.4,65.7 L1034.0,66.2 L1034.3,66.8 L1034.5,67.5 L1034.4,68.3 L1034.3,68.9Z" fill="#f0c8a8" stroke="#000" stroke-width="1.5" stroke-linejoin="round"/>
<path d="M1067.8,72.5 L1067.1,74.1 L1066.8,75.7 L1066.6,77.4 L1066.2,79.1 L1065.3,80.5 L1064.1,81.5 L1062.8,82.4 L1061.6,83.3 L1060.3,84.2 L1059.0,84.8 L1057.5,84.9 L1056.0,84.8 L1054.6,84.7 L1053.0,85.0 L1051.3,85.1 L1049.6,84.8 L1048.3,83.7 L1047.3,82.1 L1046.6,80.5 L1045.8,79.1 L1044.8,77.6 L1044.1,76.0 L1043.8,74.3 L1044.0,72.5 L1044.3,70.8 L1044.6,69.1 L1044.9,67.4 L1045.7,65.9 L1046.9,64.8 L1048.3,64.0 L1049.6,63.2 L1050.6,62.1 L1051.7,60.8 L1052.9,59.8 L1054.4,59.3 L1056.0,59.5 L1057.5,59.9 L1059.0,60.2 L1060.5,60.4 L1062.0,60.9 L1063.4,61.8 L1064.5,63.1 L1065.5,64.4 L1066.7,65.6 L1067.8,67.1 L1068.4,68.8 L1068.3,70.7Z" fill="#fff" stroke="#000" stroke-width="1.9" stroke-linejoin="round"/>
<path d="M1062.4,72.6 L1062.0,73.3 L1061.7,74.0 L1061.4,74.6 L1061.1,75.3 L1060.7,75.8 L1060.2,76.2 L1059.7,76.6 L1059.2,77.0 L1058.7,77.4 L1058.1,77.8 L1057.5,77.9 L1056.8,77.8 L1056.2,77.5 L1055.6,77.5 L1054.9,77.5 L1054.2,77.5 L1053.5,77.3 L1052.9,76.8 L1052.5,76.2 L1052.1,75.5 L1051.8,74.9 L1051.5,74.1 L1051.4,73.4 L1051.6,72.6 L1051.8,71.9 L1051.9,71.2 L1052.0,70.5 L1052.2,69.7 L1052.7,69.2 L1053.3,68.8 L1054.0,68.7 L1054.6,68.5 L1055.1,68.1 L1055.6,67.7 L1056.2,67.4 L1056.8,67.3 L1057.5,67.3 L1058.1,67.4 L1058.8,67.4 L1059.5,67.6 L1060.1,68.0 L1060.5,68.6 L1060.9,69.2 L1061.3,69.8 L1061.9,70.3 L1062.3,71.0 L1062.5,71.8Z" fill="#6abf4b" stroke="#000" stroke-width="1.5" stroke-linejoin="round"/>
<path d="M1002.4,95.0 L1002.1,96.6 L1002.0,98.3 L1001.9,100.0 L1001.5,101.7 L1000.7,103.3 L999.6,104.6 L998.4,105.8 L997.1,106.8 L995.8,107.8 L994.2,108.3 L992.6,108.3 L991.0,108.0 L989.5,107.6 L988.0,107.4 L986.5,107.2 L985.0,106.6 L983.8,105.4 L982.9,104.0 L982.2,102.5 L981.5,101.1 L980.7,99.8 L980.0,98.3 L979.7,96.7 L979.6,95.0 L979.6,93.3 L979.6,91.6 L979.7,89.8 L980.3,88.1 L981.3,86.7 L982.6,85.6 L983.9,84.7 L985.1,83.6 L986.3,82.4 L987.8,81.6 L989.4,81.3 L991.0,81.5 L992.5,82.0 L994.0,82.4 L995.5,83.0 L996.8,83.8 L997.9,85.0 L998.8,86.3 L999.7,87.6 L1000.7,88.8 L1001.7,90.1 L1002.4,91.6 L1002.6,93.3Z" fill="#fff" stroke="#000" stroke-width="1.9" stroke-linejoin="round"/>
<path d="M995.7,95.5 L995.8,96.2 L995.9,96.9 L995.8,97.6 L995.4,98.2 L994.8,98.6 L994.3,99.0 L993.9,99.4 L993.5,100.0 L993.0,100.5 L992.4,100.8 L991.8,101.0 L991.1,101.1 L990.4,101.4 L989.6,101.4 L988.9,101.2 L988.3,100.7 L987.9,100.0 L987.5,99.4 L987.0,98.9 L986.4,98.4 L986.0,97.8 L985.9,97.0 L986.0,96.2 L986.2,95.5 L986.3,94.8 L986.5,94.2 L986.7,93.6 L987.1,93.0 L987.5,92.6 L987.9,92.0 L988.2,91.4 L988.5,90.7 L989.1,90.2 L989.7,90.1 L990.4,90.2 L991.1,90.2 L991.8,90.1 L992.5,89.9 L993.2,89.9 L993.9,90.2 L994.5,90.8 L995.0,91.3 L995.4,91.9 L995.8,92.6 L996.0,93.3 L996.0,94.1 L995.8,94.8Z" fill="#e8be2e" stroke="#000" stroke-width="1.5" stroke-linejoin="round"/>
<path d="M1029.1,95.0 L1028.7,96.7 L1028.0,98.3 L1027.3,99.7 L1026.6,101.2 L1025.9,102.6 L1025.0,103.9 L1023.8,104.9 L1022.6,105.7 L1021.3,106.6 L1020.0,107.6 L1018.6,108.4 L1017.0,108.7 L1015.4,108.4 L1013.9,107.7 L1012.5,107.0 L1011.0,106.5 L1009.5,105.9 L1008.1,104.9 L1007.1,103.4 L1006.5,101.7 L1006.0,100.1 L1005.5,98.4 L1005.2,96.7 L1005.3,95.0 L1005.7,93.3 L1006.4,91.8 L1006.9,90.3 L1007.3,88.8 L1007.8,87.1 L1008.7,85.7 L1009.9,84.8 L1011.4,84.1 L1012.7,83.5 L1014.1,82.8 L1015.5,82.0 L1017.0,81.6 L1018.6,81.7 L1020.1,82.1 L1021.6,82.5 L1023.2,83.1 L1024.7,83.9 L1025.9,85.1 L1026.6,86.8 L1027.1,88.5 L1027.6,90.1 L1028.3,91.6 L1028.9,93.3Z" fill="#fff" stroke="#000" stroke-width="1.9" stroke-linejoin="round"/>
<path d="M1022.6,94.7 L1022.7,95.5 L1022.4,96.2 L1022.1,96.8 L1021.8,97.4 L1021.5,98.1 L1021.2,98.7 L1020.8,99.3 L1020.2,99.7 L1019.5,99.9 L1018.9,100.3 L1018.2,100.7 L1017.5,100.9 L1016.8,100.8 L1016.2,100.2 L1015.6,99.7 L1015.1,99.2 L1014.5,98.9 L1013.9,98.6 L1013.4,98.1 L1013.2,97.4 L1013.1,96.7 L1013.0,96.1 L1012.7,95.4 L1012.6,94.7 L1012.7,94.0 L1012.9,93.4 L1013.2,92.8 L1013.3,92.1 L1013.4,91.3 L1013.6,90.5 L1014.1,89.9 L1014.8,89.6 L1015.5,89.5 L1016.2,89.4 L1016.8,89.1 L1017.5,88.9 L1018.2,88.9 L1018.9,89.2 L1019.5,89.6 L1020.1,90.0 L1020.7,90.3 L1021.2,90.8 L1021.5,91.4 L1021.6,92.2 L1021.7,92.9 L1021.8,93.5 L1022.2,94.1Z" fill="#f5c0cc" stroke="#000" stroke-width="1.5" stroke-linejoin="round"/>
<path d="M1054.2,97.0 L1054.1,98.6 L1053.8,100.2 L1053.2,101.7 L1052.7,103.2 L1052.1,104.8 L1051.5,106.5 L1050.6,108.0 L1049.3,109.1 L1047.7,109.6 L1046.1,109.8 L1044.5,110.0 L1043.0,110.3 L1041.4,110.5 L1039.8,110.3 L1038.3,109.6 L1036.9,108.7 L1035.7,107.6 L1034.5,106.4 L1033.6,105.0 L1033.1,103.4 L1032.8,101.7 L1032.6,100.1 L1032.3,98.6 L1031.8,97.0 L1031.4,95.3 L1031.5,93.6 L1032.2,92.0 L1033.1,90.6 L1034.0,89.3 L1034.9,87.9 L1035.8,86.6 L1037.0,85.5 L1038.4,84.6 L1039.9,83.9 L1041.4,83.3 L1043.0,82.9 L1044.7,82.9 L1046.2,83.6 L1047.6,84.7 L1048.7,86.0 L1049.9,87.0 L1051.1,88.0 L1052.3,89.0 L1053.3,90.4 L1053.8,92.0 L1054.0,93.7 L1054.1,95.4Z" fill="#fff" stroke="#000" stroke-width="1.9" stroke-linejoin="round"/>
<path d="M1047.9,96.4 L1047.8,97.1 L1047.5,97.8 L1047.1,98.4 L1046.8,98.9 L1046.5,99.5 L1046.1,100.0 L1045.7,100.5 L1045.1,100.8 L1044.6,101.2 L1044.1,101.7 L1043.5,102.2 L1042.7,102.5 L1042.0,102.4 L1041.3,102.0 L1040.8,101.5 L1040.2,101.2 L1039.5,100.9 L1038.9,100.6 L1038.4,100.0 L1038.1,99.3 L1037.9,98.5 L1037.8,97.8 L1037.7,97.1 L1037.7,96.4 L1038.0,95.7 L1038.4,95.1 L1038.7,94.6 L1038.8,93.9 L1038.9,93.2 L1039.1,92.4 L1039.6,91.9 L1040.2,91.7 L1040.9,91.5 L1041.5,91.3 L1042.1,91.0 L1042.7,90.7 L1043.4,90.6 L1044.1,90.8 L1044.8,91.0 L1045.5,91.2 L1046.2,91.5 L1046.7,92.1 L1047.1,92.8 L1047.1,93.7 L1047.2,94.4 L1047.3,95.1 L1047.6,95.7Z" fill="#8fb0e8" stroke="#000" stroke-width="1.5" stroke-linejoin="round"/>
<path d="M1002.6,121.0 L1002.3,122.7 L1001.9,124.4 L1001.5,126.1 L1001.0,127.7 L1000.0,129.1 L998.7,130.1 L997.2,130.7 L995.8,131.3 L994.6,132.1 L993.4,133.2 L992.0,134.0 L990.5,134.3 L989.0,133.9 L987.5,133.4 L986.1,132.9 L984.6,132.4 L983.2,131.6 L982.1,130.4 L981.1,129.0 L980.2,127.6 L979.2,126.2 L978.3,124.6 L977.8,122.9 L978.0,121.0 L978.8,119.3 L979.6,117.7 L980.1,116.2 L980.6,114.6 L981.2,113.1 L982.2,111.8 L983.5,110.8 L984.8,110.1 L986.1,109.3 L987.5,108.6 L989.0,108.2 L990.5,108.4 L991.9,108.8 L993.4,109.1 L994.9,109.2 L996.6,109.3 L998.2,109.9 L999.4,111.1 L1000.2,112.7 L1000.8,114.4 L1001.4,116.0 L1002.1,117.5 L1002.6,119.2Z" fill="#fff" stroke="#000" stroke-width="1.9" stroke-linejoin="round"/>
<path d="M994.4,120.7 L994.3,121.3 L994.4,122.0 L994.4,122.7 L994.2,123.4 L993.8,123.9 L993.3,124.4 L992.9,124.9 L992.4,125.5 L991.9,125.9 L991.2,126.2 L990.6,126.2 L989.9,126.3 L989.2,126.5 L988.4,126.6 L987.7,126.5 L987.1,126.0 L986.6,125.3 L986.3,124.6 L985.9,124.0 L985.5,123.4 L985.2,122.8 L985.0,122.1 L985.0,121.4 L985.1,120.7 L985.2,120.0 L985.2,119.4 L985.4,118.7 L985.8,118.1 L986.2,117.7 L986.7,117.2 L987.0,116.6 L987.3,115.9 L987.8,115.3 L988.5,114.9 L989.2,114.9 L989.9,115.0 L990.6,115.1 L991.3,115.1 L992.0,115.2 L992.6,115.6 L993.1,116.2 L993.6,116.7 L994.1,117.3 L994.5,117.8 L994.8,118.5 L994.8,119.3 L994.6,120.0Z" fill="#8a9fbf" stroke="#000" stroke-width="1.5" stroke-linejoin="round"/>
<path d="M1029.7,122.5 L1029.5,124.3 L1029.2,126.0 L1028.9,127.7 L1028.4,129.5 L1027.6,131.1 L1026.2,132.2 L1024.6,132.8 L1023.0,133.2 L1021.7,133.7 L1020.4,134.5 L1019.0,135.1 L1017.5,135.3 L1016.0,135.0 L1014.6,134.5 L1013.2,134.0 L1011.8,133.5 L1010.5,132.7 L1009.4,131.5 L1008.5,130.2 L1007.7,128.8 L1006.6,127.5 L1005.5,126.1 L1004.7,124.4 L1004.6,122.5 L1005.1,120.7 L1005.9,119.0 L1006.5,117.4 L1007.1,115.8 L1007.9,114.3 L1009.0,113.0 L1010.3,112.1 L1011.7,111.3 L1013.1,110.6 L1014.5,109.9 L1016.0,109.7 L1017.5,109.9 L1018.9,110.6 L1020.2,111.2 L1021.6,111.5 L1023.2,111.6 L1024.7,112.0 L1026.0,113.0 L1027.0,114.4 L1027.7,115.9 L1028.4,117.5 L1029.1,119.0 L1029.6,120.7Z" fill="#fff" stroke="#000" stroke-width="1.9" stroke-linejoin="round"/>
<path d="M1022.4,122.3 L1022.5,123.1 L1022.2,123.8 L1021.7,124.3 L1021.2,124.8 L1020.8,125.3 L1020.5,125.9 L1020.2,126.5 L1019.7,127.0 L1019.1,127.3 L1018.5,127.5 L1017.9,127.8 L1017.2,128.0 L1016.5,128.1 L1015.8,127.9 L1015.2,127.5 L1014.7,127.0 L1014.1,126.7 L1013.4,126.4 L1012.8,126.0 L1012.4,125.3 L1012.3,124.5 L1012.3,123.7 L1012.3,123.0 L1012.3,122.3 L1012.3,121.6 L1012.4,120.9 L1012.8,120.3 L1013.1,119.8 L1013.4,119.2 L1013.7,118.5 L1014.1,117.9 L1014.7,117.6 L1015.3,117.4 L1016.0,117.4 L1016.6,117.2 L1017.2,116.8 L1017.9,116.5 L1018.6,116.5 L1019.3,116.9 L1019.9,117.3 L1020.4,117.8 L1021.0,118.2 L1021.5,118.7 L1021.8,119.4 L1021.9,120.2 L1022.0,120.9 L1022.1,121.6Z" fill="#f5f3c8" stroke="#000" stroke-width="1.5" stroke-linejoin="round"/>
<path d="M1055.1,123.8 L1054.7,125.5 L1054.3,127.1 L1053.9,128.8 L1053.4,130.4 L1052.6,132.0 L1051.4,133.1 L1049.9,133.7 L1048.4,134.2 L1047.1,134.8 L1045.9,135.8 L1044.5,136.6 L1043.0,136.9 L1041.5,136.7 L1040.0,136.2 L1038.5,135.7 L1037.1,135.2 L1035.7,134.4 L1034.5,133.2 L1033.7,131.7 L1032.9,130.2 L1032.0,128.8 L1031.0,127.3 L1030.4,125.6 L1030.4,123.8 L1031.0,122.0 L1031.9,120.4 L1032.5,118.9 L1033.1,117.4 L1033.7,115.9 L1034.7,114.6 L1036.0,113.6 L1037.3,112.8 L1038.6,112.1 L1040.0,111.3 L1041.5,110.8 L1043.0,110.9 L1044.5,111.4 L1045.9,111.9 L1047.3,112.2 L1048.9,112.3 L1050.5,112.8 L1051.9,113.9 L1052.8,115.4 L1053.4,117.1 L1054.0,118.7 L1054.6,120.3 L1055.0,122.0Z" fill="#fff" stroke="#000" stroke-width="1.9" stroke-linejoin="round"/>
<path d="M1047.9,123.0 L1048.0,123.8 L1048.0,124.5 L1047.8,125.3 L1047.5,126.0 L1047.2,126.7 L1046.8,127.4 L1046.2,127.8 L1045.5,128.0 L1044.7,128.1 L1044.1,128.1 L1043.4,128.3 L1042.8,128.5 L1042.1,128.5 L1041.5,128.3 L1040.9,127.9 L1040.4,127.5 L1039.9,127.1 L1039.5,126.7 L1039.0,126.2 L1038.7,125.6 L1038.4,125.0 L1038.1,124.4 L1037.7,123.8 L1037.3,123.0 L1037.2,122.3 L1037.5,121.5 L1037.9,120.8 L1038.3,120.2 L1038.7,119.6 L1039.0,118.9 L1039.5,118.3 L1040.1,117.9 L1040.8,117.7 L1041.5,117.6 L1042.1,117.5 L1042.8,117.5 L1043.5,117.7 L1044.0,118.1 L1044.5,118.5 L1045.0,118.9 L1045.6,119.1 L1046.3,119.3 L1046.9,119.7 L1047.2,120.3 L1047.4,121.0 L1047.5,121.7 L1047.7,122.3Z" fill="#c4ebc0" stroke="#000" stroke-width="1.5" stroke-linejoin="round"/>
<path d="M1015.3,208.7 L1014.9,209.8 L1014.3,210.8 L1013.4,211.7 L1012.1,212.4 L1010.6,212.9 L1009.1,213.4 L1007.5,213.9 L1005.7,214.2 L1003.6,214.0 L1001.4,213.5 L999.3,212.8 L997.3,212.1 L995.3,211.4 L993.4,210.6 L991.5,209.6 L990.0,208.5 L988.6,207.3 L987.4,206.1 L986.2,204.9 L985.4,203.6 L984.9,202.4 L984.9,201.2 L985.0,200.0 L985.1,198.9 L985.1,197.7 L985.4,196.5 L986.2,195.5 L987.5,194.9 L989.2,194.4 L990.9,194.1 L992.6,193.8 L994.5,193.7 L996.5,193.8 L998.6,194.1 L1000.7,194.6 L1002.8,195.2 L1004.8,195.9 L1006.8,196.7 L1008.6,197.8 L1009.9,199.0 L1011.0,200.3 L1012.2,201.5 L1013.4,202.6 L1014.5,203.9 L1015.3,205.2 L1015.6,206.4 L1015.5,207.6Z" fill="#fff" stroke="#000" stroke-width="1.8" stroke-linejoin="round"/>
<path d="M1006.1,205.7 L1005.8,206.1 L1005.6,206.5 L1005.3,206.9 L1004.8,207.1 L1004.1,207.3 L1003.5,207.4 L1002.8,207.5 L1002.1,207.5 L1001.3,207.5 L1000.5,207.4 L999.7,207.2 L999.0,207.0 L998.2,206.7 L997.4,206.5 L996.6,206.1 L995.9,205.7 L995.4,205.2 L994.9,204.7 L994.5,204.2 L994.1,203.7 L993.8,203.2 L993.7,202.7 L993.7,202.2 L993.8,201.7 L994.0,201.3 L994.3,200.9 L994.7,200.6 L995.3,200.4 L996.0,200.3 L996.6,200.1 L997.3,200.0 L997.9,200.0 L998.7,199.9 L999.5,200.0 L1000.3,200.2 L1001.1,200.5 L1001.8,200.8 L1002.6,201.1 L1003.3,201.4 L1004.0,201.8 L1004.6,202.3 L1005.1,202.8 L1005.6,203.3 L1006.0,203.8 L1006.3,204.3 L1006.4,204.8 L1006.2,205.3Z" fill="#c5def2" stroke="#000" stroke-width="1.2"/>
<path d="M1041.2,207.4 L1041.1,208.6 L1040.4,209.6 L1039.2,210.3 L1037.7,210.9 L1036.3,211.4 L1035.0,212.0 L1033.5,212.6 L1031.6,212.8 L1029.6,212.7 L1027.4,212.3 L1025.3,211.8 L1023.2,211.2 L1021.1,210.5 L1019.2,209.5 L1017.5,208.4 L1016.1,207.2 L1014.7,206.0 L1013.3,204.9 L1011.9,203.7 L1011.1,202.4 L1010.8,201.1 L1011.0,199.9 L1011.2,198.8 L1011.3,197.7 L1011.4,196.6 L1011.8,195.5 L1012.7,194.6 L1014.0,193.9 L1015.3,193.3 L1016.8,192.7 L1018.5,192.3 L1020.4,192.2 L1022.5,192.5 L1024.6,193.0 L1026.7,193.5 L1028.8,193.9 L1031.0,194.4 L1033.0,195.3 L1034.8,196.4 L1036.1,197.7 L1037.3,198.9 L1038.5,200.2 L1039.6,201.4 L1040.4,202.6 L1040.9,203.9 L1041.0,205.1 L1041.1,206.2Z" fill="#fff" stroke="#000" stroke-width="1.8" stroke-linejoin="round"/>
<path d="M1031.9,204.4 L1031.8,204.9 L1031.5,205.2 L1031.1,205.5 L1030.6,205.8 L1030.1,206.0 L1029.5,206.2 L1028.8,206.3 L1028.1,206.3 L1027.3,206.2 L1026.5,206.1 L1025.7,206.0 L1024.9,205.9 L1024.1,205.7 L1023.2,205.3 L1022.5,204.9 L1021.9,204.4 L1021.4,204.0 L1020.8,203.5 L1020.4,203.0 L1020.1,202.5 L1019.9,201.9 L1019.9,201.5 L1019.9,201.0 L1019.9,200.5 L1020.1,200.1 L1020.4,199.7 L1021.0,199.5 L1021.5,199.3 L1022.1,199.1 L1022.6,198.9 L1023.2,198.7 L1023.9,198.6 L1024.7,198.7 L1025.5,198.8 L1026.3,198.9 L1027.1,199.1 L1027.9,199.4 L1028.7,199.7 L1029.4,200.2 L1030.0,200.6 L1030.7,201.0 L1031.3,201.5 L1031.8,202.0 L1032.1,202.6 L1032.1,203.1 L1032.1,203.5 L1032.0,204.0Z" fill="#f0c8a8" stroke="#000" stroke-width="1.2"/>
<path d="M1069.1,210.9 L1068.3,211.8 L1067.8,212.8 L1067.1,213.8 L1066.1,214.6 L1064.6,215.1 L1062.8,215.3 L1061.0,215.4 L1059.2,215.5 L1057.3,215.5 L1055.3,215.3 L1053.3,214.8 L1051.3,214.2 L1049.3,213.6 L1047.2,213.0 L1045.0,212.2 L1043.2,211.1 L1041.8,209.8 L1040.9,208.5 L1040.1,207.2 L1039.1,205.9 L1038.3,204.6 L1037.8,203.2 L1037.8,202.0 L1038.4,200.9 L1039.0,199.9 L1039.8,199.0 L1040.8,198.1 L1042.2,197.6 L1043.9,197.3 L1045.6,197.1 L1047.2,196.9 L1048.8,196.5 L1050.6,196.3 L1052.6,196.3 L1054.7,196.8 L1056.7,197.6 L1058.7,198.4 L1060.6,199.2 L1062.6,200.0 L1064.4,201.0 L1066.0,202.2 L1067.2,203.5 L1068.4,204.8 L1069.5,206.1 L1070.3,207.5 L1070.4,208.8 L1069.9,209.9Z" fill="#fff" stroke="#000" stroke-width="1.8" stroke-linejoin="round"/>
<path d="M1060.1,208.0 L1059.9,208.4 L1059.7,208.8 L1059.3,209.2 L1058.8,209.4 L1058.1,209.5 L1057.4,209.6 L1056.7,209.7 L1056.0,209.8 L1055.3,209.8 L1054.5,209.7 L1053.7,209.5 L1052.9,209.3 L1052.1,209.0 L1051.4,208.7 L1050.6,208.3 L1050.0,207.9 L1049.5,207.4 L1049.0,206.9 L1048.5,206.5 L1048.0,206.0 L1047.7,205.4 L1047.6,204.9 L1047.7,204.4 L1047.9,204.0 L1048.2,203.6 L1048.4,203.3 L1048.8,202.9 L1049.3,202.6 L1049.9,202.5 L1050.5,202.3 L1051.2,202.2 L1051.9,202.1 L1052.7,202.2 L1053.5,202.3 L1054.3,202.5 L1055.0,202.8 L1055.8,203.0 L1056.6,203.3 L1057.4,203.6 L1058.1,204.1 L1058.7,204.5 L1059.1,205.0 L1059.6,205.5 L1059.9,206.0 L1060.1,206.6 L1060.2,207.1 L1060.2,207.5Z" fill="#6abf4b" stroke="#000" stroke-width="1.2"/>
<path d="M1009.1,225.9 L1009.0,227.1 L1008.7,228.3 L1008.0,229.3 L1006.7,230.0 L1005.0,230.4 L1003.1,230.6 L1001.3,230.8 L999.4,230.9 L997.4,230.9 L995.4,230.6 L993.3,230.0 L991.3,229.4 L989.3,228.7 L987.3,227.9 L985.5,226.9 L984.0,225.7 L982.9,224.5 L981.8,223.3 L980.7,222.1 L979.5,220.9 L978.5,219.6 L978.0,218.3 L978.1,217.1 L978.5,215.9 L978.9,214.9 L979.6,213.9 L980.5,213.0 L981.8,212.3 L983.3,211.8 L984.9,211.4 L986.6,211.0 L988.4,210.7 L990.5,210.8 L992.6,211.3 L994.7,212.0 L996.7,212.8 L998.6,213.6 L1000.5,214.3 L1002.4,215.2 L1004.0,216.2 L1005.4,217.4 L1006.6,218.6 L1007.7,219.9 L1008.7,221.1 L1009.3,222.4 L1009.5,223.6 L1009.3,224.8Z" fill="#fff" stroke="#000" stroke-width="1.8" stroke-linejoin="round"/>
<path d="M1000.3,223.0 L1000.2,223.5 L999.8,223.9 L999.3,224.2 L998.7,224.4 L998.1,224.6 L997.6,224.8 L996.9,224.9 L996.1,224.9 L995.3,224.9 L994.5,224.7 L993.7,224.5 L992.9,224.3 L992.2,224.0 L991.5,223.6 L990.8,223.2 L990.2,222.8 L989.6,222.4 L989.0,222.0 L988.4,221.5 L988.1,221.0 L987.9,220.4 L987.9,220.0 L987.9,219.5 L987.9,219.0 L988.0,218.6 L988.2,218.1 L988.7,217.8 L989.2,217.6 L989.7,217.3 L990.4,217.1 L991.1,217.1 L991.9,217.1 L992.7,217.2 L993.5,217.4 L994.3,217.6 L995.1,217.7 L995.9,218.0 L996.6,218.3 L997.3,218.7 L997.9,219.2 L998.4,219.6 L999.0,220.1 L999.4,220.5 L999.8,221.0 L1000.0,221.6 L1000.2,222.0 L1000.3,222.5Z" fill="#e8be2e" stroke="#000" stroke-width="1.2"/>
<path d="M1039.9,226.2 L1039.5,227.3 L1038.9,228.4 L1037.9,229.2 L1036.4,229.8 L1034.6,230.1 L1032.7,230.3 L1031.0,230.4 L1029.3,230.6 L1027.4,230.7 L1025.4,230.5 L1023.3,230.0 L1021.3,229.3 L1019.4,228.5 L1017.5,227.7 L1015.7,226.8 L1014.1,225.7 L1012.6,224.6 L1011.3,223.4 L1010.0,222.2 L1008.8,220.9 L1007.9,219.5 L1007.6,218.2 L1007.8,217.0 L1008.4,215.9 L1009.0,214.9 L1009.6,213.9 L1010.4,212.9 L1011.6,212.1 L1013.1,211.7 L1014.9,211.4 L1016.8,211.2 L1018.7,211.2 L1020.6,211.3 L1022.7,211.8 L1024.7,212.4 L1026.6,213.0 L1028.5,213.6 L1030.5,214.3 L1032.5,215.1 L1034.3,216.1 L1035.7,217.3 L1036.8,218.6 L1037.7,219.9 L1038.7,221.1 L1039.6,222.4 L1040.1,223.7 L1040.1,225.0Z" fill="#fff" stroke="#000" stroke-width="1.8" stroke-linejoin="round"/>
<path d="M1030.2,223.0 L1029.9,223.4 L1029.4,223.7 L1029.0,224.0 L1028.5,224.2 L1028.1,224.5 L1027.5,224.7 L1026.8,224.8 L1026.1,224.8 L1025.3,224.8 L1024.5,224.7 L1023.7,224.6 L1022.9,224.3 L1022.1,224.0 L1021.4,223.7 L1020.7,223.3 L1019.9,222.9 L1019.2,222.5 L1018.7,222.0 L1018.3,221.5 L1018.1,221.0 L1018.0,220.4 L1017.9,220.0 L1017.8,219.5 L1017.9,219.0 L1018.2,218.6 L1018.5,218.3 L1018.9,218.0 L1019.3,217.7 L1019.9,217.4 L1020.5,217.3 L1021.2,217.3 L1022.0,217.3 L1022.7,217.3 L1023.5,217.4 L1024.3,217.4 L1025.1,217.6 L1025.9,217.9 L1026.7,218.2 L1027.4,218.6 L1028.1,219.1 L1028.7,219.5 L1029.2,220.0 L1029.6,220.5 L1029.9,221.0 L1030.1,221.6 L1030.3,222.1 L1030.3,222.6Z" fill="#f5c0cc" stroke="#000" stroke-width="1.2"/>
<path d="M1071.8,230.1 L1071.5,231.3 L1070.5,232.2 L1069.1,232.8 L1067.8,233.4 L1066.5,234.0 L1065.2,234.7 L1063.5,235.1 L1061.6,235.2 L1059.5,235.0 L1057.4,234.7 L1055.3,234.3 L1053.1,233.8 L1051.1,232.9 L1049.4,231.8 L1047.8,230.7 L1046.3,229.6 L1044.7,228.6 L1043.1,227.4 L1041.8,226.2 L1041.2,224.9 L1041.0,223.6 L1041.0,222.4 L1040.9,221.3 L1040.8,220.1 L1041.1,219.0 L1041.8,218.0 L1042.9,217.2 L1043.9,216.4 L1045.1,215.6 L1046.5,215.0 L1048.4,214.7 L1050.5,214.9 L1052.6,215.3 L1054.7,215.7 L1056.7,216.0 L1058.8,216.3 L1060.9,217.0 L1062.9,217.9 L1064.5,219.1 L1066.0,220.3 L1067.4,221.4 L1068.7,222.6 L1069.7,223.9 L1070.2,225.1 L1070.6,226.3 L1071.0,227.6 L1071.5,228.8Z" fill="#fff" stroke="#000" stroke-width="1.8" stroke-linejoin="round"/>
<path d="M1062.1,227.0 L1062.0,227.5 L1061.8,227.9 L1061.3,228.2 L1060.8,228.4 L1060.3,228.7 L1059.6,228.8 L1058.9,228.9 L1058.1,228.9 L1057.3,228.8 L1056.5,228.7 L1055.7,228.6 L1054.9,228.4 L1054.1,228.1 L1053.4,227.7 L1052.8,227.3 L1052.2,226.8 L1051.6,226.4 L1051.1,225.9 L1050.6,225.5 L1050.3,225.0 L1050.0,224.5 L1049.9,224.0 L1049.8,223.5 L1049.8,223.0 L1050.0,222.6 L1050.3,222.2 L1050.8,221.9 L1051.3,221.6 L1051.8,221.4 L1052.3,221.1 L1053.0,221.0 L1053.8,221.0 L1054.7,221.1 L1055.5,221.3 L1056.3,221.5 L1057.1,221.7 L1057.8,222.0 L1058.6,222.4 L1059.2,222.7 L1059.9,223.2 L1060.5,223.6 L1061.0,224.0 L1061.5,224.5 L1061.7,225.0 L1061.9,225.5 L1062.0,226.0 L1062.1,226.5Z" fill="#8fb0e8" stroke="#000" stroke-width="1.2"/>
<path d="M1009.7,242.3 L1009.3,243.3 L1008.9,244.4 L1008.3,245.4 L1007.2,246.2 L1005.7,246.7 L1004.1,247.1 L1002.4,247.5 L1000.6,247.7 L998.5,247.6 L996.4,247.2 L994.3,246.5 L992.3,245.8 L990.3,245.2 L988.1,244.6 L986.2,243.7 L984.5,242.5 L983.3,241.2 L982.4,239.9 L981.6,238.6 L980.7,237.4 L980.0,236.1 L979.7,234.9 L979.8,233.7 L980.0,232.6 L980.2,231.5 L980.6,230.4 L981.4,229.4 L982.8,228.8 L984.5,228.5 L986.2,228.2 L987.8,227.9 L989.5,227.5 L991.4,227.3 L993.6,227.5 L995.7,228.1 L997.8,228.9 L999.8,229.7 L1001.8,230.5 L1003.6,231.5 L1005.1,232.7 L1006.3,233.9 L1007.5,235.2 L1008.7,236.4 L1009.9,237.6 L1010.6,238.9 L1010.7,240.2 L1010.3,241.3Z" fill="#fff" stroke="#000" stroke-width="1.8" stroke-linejoin="round"/>
<path d="M1000.8,239.4 L1000.7,239.8 L1000.5,240.2 L1000.3,240.6 L999.8,240.9 L999.2,241.2 L998.6,241.3 L997.9,241.4 L997.2,241.5 L996.4,241.5 L995.5,241.3 L994.7,241.1 L993.9,240.8 L993.1,240.6 L992.3,240.3 L991.6,239.9 L990.9,239.4 L990.5,238.9 L990.1,238.4 L989.7,237.9 L989.4,237.5 L989.1,237.0 L989.0,236.5 L989.0,236.0 L989.1,235.6 L989.2,235.1 L989.4,234.7 L989.7,234.4 L990.2,234.1 L990.9,233.9 L991.5,233.8 L992.2,233.7 L992.8,233.5 L993.6,233.5 L994.4,233.6 L995.3,233.8 L996.1,234.1 L996.9,234.4 L997.6,234.8 L998.3,235.2 L999.0,235.6 L999.5,236.1 L999.9,236.6 L1000.4,237.1 L1000.8,237.5 L1001.0,238.1 L1001.1,238.5 L1001.0,239.0Z" fill="#8a9fbf" stroke="#000" stroke-width="1.2"/>
<path d="M1040.3,242.8 L1039.6,243.8 L1038.6,244.7 L1037.5,245.5 L1036.2,246.2 L1034.7,246.7 L1033.0,247.0 L1031.1,247.1 L1029.2,247.1 L1027.3,247.1 L1025.4,247.0 L1023.3,246.6 L1021.3,245.9 L1019.4,245.0 L1017.7,244.0 L1015.9,243.1 L1014.1,242.2 L1012.4,241.1 L1011.0,240.0 L1009.8,238.7 L1009.0,237.4 L1008.3,236.1 L1007.8,234.7 L1007.7,233.5 L1008.2,232.4 L1008.9,231.4 L1009.8,230.5 L1010.6,229.5 L1011.6,228.7 L1013.0,228.0 L1014.7,227.7 L1016.7,227.7 L1018.8,227.9 L1020.7,228.1 L1022.7,228.3 L1024.7,228.7 L1026.7,229.3 L1028.6,230.0 L1030.5,230.8 L1032.4,231.7 L1034.2,232.7 L1035.8,233.8 L1036.9,235.1 L1037.8,236.4 L1038.5,237.6 L1039.3,238.9 L1040.1,240.2 L1040.5,241.6Z" fill="#fff" stroke="#000" stroke-width="1.8" stroke-linejoin="round"/>
<path d="M1030.2,239.5 L1030.0,239.9 L1029.6,240.3 L1029.2,240.6 L1028.7,240.9 L1028.2,241.1 L1027.6,241.3 L1026.9,241.4 L1026.2,241.5 L1025.4,241.4 L1024.5,241.3 L1023.7,241.2 L1022.9,240.9 L1022.1,240.5 L1021.4,240.1 L1020.8,239.7 L1020.1,239.3 L1019.5,238.9 L1018.9,238.5 L1018.5,238.0 L1018.3,237.5 L1018.1,237.0 L1018.0,236.5 L1017.9,236.0 L1018.0,235.5 L1018.1,235.1 L1018.4,234.7 L1018.8,234.4 L1019.2,234.1 L1019.7,233.8 L1020.3,233.6 L1021.1,233.5 L1021.9,233.6 L1022.7,233.7 L1023.5,233.8 L1024.3,233.9 L1025.1,234.1 L1025.9,234.4 L1026.6,234.8 L1027.3,235.2 L1027.9,235.6 L1028.5,236.1 L1029.0,236.6 L1029.3,237.1 L1029.6,237.5 L1029.8,238.0 L1030.0,238.5 L1030.2,239.0Z" fill="#f5f3c8" stroke="#000" stroke-width="1.2"/>
<path d="M1069.5,247.5 L1069.1,248.6 L1068.1,249.5 L1066.8,250.1 L1065.5,250.7 L1064.2,251.3 L1062.9,251.9 L1061.3,252.3 L1059.5,252.5 L1057.5,252.4 L1055.4,252.2 L1053.3,251.9 L1051.1,251.4 L1049.1,250.6 L1047.2,249.5 L1045.6,248.4 L1044.0,247.3 L1042.4,246.2 L1040.8,245.0 L1039.6,243.7 L1038.9,242.4 L1038.8,241.1 L1038.9,239.9 L1038.9,238.8 L1039.1,237.7 L1039.5,236.6 L1040.2,235.7 L1041.2,234.9 L1042.3,234.1 L1043.4,233.4 L1044.8,232.8 L1046.5,232.5 L1048.6,232.5 L1050.6,232.8 L1052.7,233.2 L1054.7,233.4 L1056.8,233.8 L1059.0,234.4 L1061.0,235.3 L1062.8,236.4 L1064.3,237.6 L1065.8,238.8 L1067.0,240.1 L1068.0,241.3 L1068.5,242.6 L1068.8,243.9 L1069.0,245.1 L1069.4,246.3Z" fill="#fff" stroke="#000" stroke-width="1.8" stroke-linejoin="round"/>
<path d="M1060.2,244.5 L1060.1,245.0 L1059.8,245.4 L1059.3,245.7 L1058.7,245.8 L1058.1,246.0 L1057.5,246.2 L1056.8,246.3 L1056.1,246.4 L1055.3,246.3 L1054.5,246.1 L1053.7,246.0 L1052.9,245.8 L1052.1,245.5 L1051.4,245.2 L1050.7,244.8 L1050.1,244.3 L1049.5,243.9 L1048.9,243.5 L1048.3,243.0 L1047.9,242.4 L1047.7,241.9 L1047.7,241.4 L1047.8,241.0 L1047.9,240.5 L1048.0,240.1 L1048.3,239.7 L1048.7,239.4 L1049.3,239.1 L1049.9,238.9 L1050.5,238.8 L1051.1,238.6 L1051.9,238.6 L1052.7,238.7 L1053.5,238.9 L1054.3,239.1 L1055.0,239.3 L1055.8,239.5 L1056.6,239.8 L1057.3,240.2 L1058.0,240.6 L1058.5,241.1 L1059.1,241.5 L1059.6,242.0 L1059.9,242.5 L1060.1,243.1 L1060.2,243.6 L1060.2,244.0Z" fill="#c4ebc0" stroke="#000" stroke-width="1.2"/>
<polyline points="1086.0,95.8 1095.0,95.8 1095.0,225.0 1086.0,225.0" fill="none" stroke="#000" stroke-width="3" />
<polyline points="1095.0,155.0 1108.8,155.0 1108.8,403.3 1082.0,403.3" fill="none" stroke="#000" stroke-width="3" />
<polyline points="1090.0,397.0 1081.5,403.3 1090.0,409.6" fill="none" stroke="#000" stroke-width="3.2" stroke-linejoin="miter"/>
<text transform="translate(1118.6,273.4) rotate(90)" font-size="15.2" text-anchor="middle" fill="#000">gRNA extraction</text>
<path d="M978.6,377.1 L984.4,375.1 L990.9,372.6 L995.4,370.6 L999.4,370.4 L1002.4,371.6 L1004.9,374.6 L1008.4,376.1 L1011.4,378.1 L1012.9,381.6 L1013.4,386.1 L1013.9,391.1 L1019.4,388.6 L1024.4,387.6 L1028.9,388.6 L1029.4,389.6 L1024.4,390.1 L1018.4,392.6 L1014.4,395.1 L1014.9,398.1 L1014.4,399.6 L1012.4,397.6 L1010.4,395.6 L1006.9,394.6 L1003.9,392.1 L1002.4,387.6 L1001.9,383.6 L1001.4,380.6 L997.9,381.6 L993.4,383.1 L988.9,383.6 L986.4,381.6 L987.4,379.1 L984.4,378.1 L978.6,377.6Z" fill="#efc8a6" stroke="#efc8a6" stroke-width="1" stroke-linejoin="round"/>
<line x1="990.9" y1="380.6" x2="994.4" y2="375.1" stroke="#fff" stroke-width="0.9" stroke-linecap="round" opacity="0.9"/>
<line x1="998.9" y1="376.6" x2="1000.9" y2="374.1" stroke="#fff" stroke-width="0.9" stroke-linecap="round" opacity="0.9"/>
<line x1="1005.9" y1="379.6" x2="1006.9" y2="378.1" stroke="#fff" stroke-width="0.9" stroke-linecap="round" opacity="0.9"/>
<line x1="1006.9" y1="387.6" x2="1009.4" y2="382.6" stroke="#fff" stroke-width="0.9" stroke-linecap="round" opacity="0.9"/>
<line x1="1008.9" y1="392.6" x2="1010.4" y2="390.6" stroke="#fff" stroke-width="0.9" stroke-linecap="round" opacity="0.9"/>
<line x1="994.9" y1="380.6" x2="996.9" y2="377.6" stroke="#fff" stroke-width="0.9" stroke-linecap="round" opacity="0.9"/>
<path d="M1007.6,375.1 L1013.4,373.1 L1019.9,370.6 L1024.4,368.6 L1028.4,368.4 L1031.4,369.6 L1033.9,372.6 L1037.4,374.1 L1040.4,376.1 L1041.9,379.6 L1042.4,384.1 L1042.9,389.1 L1048.4,386.6 L1053.4,385.6 L1057.9,386.6 L1058.4,387.6 L1053.4,388.1 L1047.4,390.6 L1043.4,393.1 L1043.9,396.1 L1043.4,397.6 L1041.4,395.6 L1039.4,393.6 L1035.9,392.6 L1032.9,390.1 L1031.4,385.6 L1030.9,381.6 L1030.4,378.6 L1026.9,379.6 L1022.4,381.1 L1017.9,381.6 L1015.4,379.6 L1016.4,377.1 L1013.4,376.1 L1007.6,375.6Z" fill="#c0dbf0" stroke="#c0dbf0" stroke-width="1" stroke-linejoin="round"/>
<line x1="1019.9" y1="378.6" x2="1023.4" y2="373.1" stroke="#fff" stroke-width="0.9" stroke-linecap="round" opacity="0.9"/>
<line x1="1027.9" y1="374.6" x2="1029.9" y2="372.1" stroke="#fff" stroke-width="0.9" stroke-linecap="round" opacity="0.9"/>
<line x1="1034.9" y1="377.6" x2="1035.9" y2="376.1" stroke="#fff" stroke-width="0.9" stroke-linecap="round" opacity="0.9"/>
<line x1="1035.9" y1="385.6" x2="1038.4" y2="380.6" stroke="#fff" stroke-width="0.9" stroke-linecap="round" opacity="0.9"/>
<line x1="1037.9" y1="390.6" x2="1039.4" y2="388.6" stroke="#fff" stroke-width="0.9" stroke-linecap="round" opacity="0.9"/>
<line x1="1023.9" y1="378.6" x2="1025.9" y2="375.6" stroke="#fff" stroke-width="0.9" stroke-linecap="round" opacity="0.9"/>
<path d="M974.6,395.1 L980.4,393.1 L986.9,390.6 L991.4,388.6 L995.4,388.4 L998.4,389.6 L1000.9,392.6 L1004.4,394.1 L1007.4,396.1 L1008.9,399.6 L1009.4,404.1 L1009.9,409.1 L1015.4,406.6 L1020.4,405.6 L1024.9,406.6 L1025.4,407.6 L1020.4,408.1 L1014.4,410.6 L1010.4,413.1 L1010.9,416.1 L1010.4,417.6 L1008.4,415.6 L1006.4,413.6 L1002.9,412.6 L999.9,410.1 L998.4,405.6 L997.9,401.6 L997.4,398.6 L993.9,399.6 L989.4,401.1 L984.9,401.6 L982.4,399.6 L983.4,397.1 L980.4,396.1 L974.6,395.6Z" fill="#7f96b4" stroke="#7f96b4" stroke-width="1" stroke-linejoin="round"/>
<line x1="986.9" y1="398.6" x2="990.4" y2="393.1" stroke="#fff" stroke-width="0.9" stroke-linecap="round" opacity="0.9"/>
<line x1="994.9" y1="394.6" x2="996.9" y2="392.1" stroke="#fff" stroke-width="0.9" stroke-linecap="round" opacity="0.9"/>
<line x1="1001.9" y1="397.6" x2="1002.9" y2="396.1" stroke="#fff" stroke-width="0.9" stroke-linecap="round" opacity="0.9"/>
<line x1="1002.9" y1="405.6" x2="1005.4" y2="400.6" stroke="#fff" stroke-width="0.9" stroke-linecap="round" opacity="0.9"/>
<line x1="1004.9" y1="410.6" x2="1006.4" y2="408.6" stroke="#fff" stroke-width="0.9" stroke-linecap="round" opacity="0.9"/>
<line x1="990.9" y1="398.6" x2="992.9" y2="395.6" stroke="#fff" stroke-width="0.9" stroke-linecap="round" opacity="0.9"/>
<path d="M1019.2,402.0 L1025.0,400.0 L1031.5,397.5 L1036.0,395.5 L1040.0,395.2 L1043.0,396.5 L1045.5,399.5 L1049.0,401.0 L1052.0,403.0 L1053.5,406.5 L1054.0,411.0 L1054.5,416.0 L1060.0,413.5 L1065.0,412.5 L1069.5,413.5 L1070.0,414.5 L1065.0,415.0 L1059.0,417.5 L1055.0,420.0 L1055.5,423.0 L1055.0,424.5 L1053.0,422.5 L1051.0,420.5 L1047.5,419.5 L1044.5,417.0 L1043.0,412.5 L1042.5,408.5 L1042.0,405.5 L1038.5,406.5 L1034.0,408.0 L1029.5,408.5 L1027.0,406.5 L1028.0,404.0 L1025.0,403.0 L1019.2,402.5Z" fill="#6cb54a" stroke="#6cb54a" stroke-width="1" stroke-linejoin="round"/>
<line x1="1031.5" y1="405.5" x2="1035.0" y2="400.0" stroke="#fff" stroke-width="0.9" stroke-linecap="round" opacity="0.9"/>
<line x1="1039.5" y1="401.5" x2="1041.5" y2="399.0" stroke="#fff" stroke-width="0.9" stroke-linecap="round" opacity="0.9"/>
<line x1="1046.5" y1="404.5" x2="1047.5" y2="403.0" stroke="#fff" stroke-width="0.9" stroke-linecap="round" opacity="0.9"/>
<line x1="1047.5" y1="412.5" x2="1050.0" y2="407.5" stroke="#fff" stroke-width="0.9" stroke-linecap="round" opacity="0.9"/>
<line x1="1049.5" y1="417.5" x2="1051.0" y2="415.5" stroke="#fff" stroke-width="0.9" stroke-linecap="round" opacity="0.9"/>
<line x1="1035.5" y1="405.5" x2="1037.5" y2="402.5" stroke="#fff" stroke-width="0.9" stroke-linecap="round" opacity="0.9"/>
<path d="M973.6,417.1 L979.4,415.1 L985.9,412.6 L990.4,410.6 L994.4,410.4 L997.4,411.6 L999.9,414.6 L1003.4,416.1 L1006.4,418.1 L1007.9,421.6 L1008.4,426.1 L1008.9,431.1 L1014.4,428.6 L1019.4,427.6 L1023.9,428.6 L1024.4,429.6 L1019.4,430.1 L1013.4,432.6 L1009.4,435.1 L1009.9,438.1 L1009.4,439.6 L1007.4,437.6 L1005.4,435.6 L1001.9,434.6 L998.9,432.1 L997.4,427.6 L996.9,423.6 L996.4,420.6 L992.9,421.6 L988.4,423.1 L983.9,423.6 L981.4,421.6 L982.4,419.1 L979.4,418.1 L973.6,417.6Z" fill="#efc8a6" stroke="#efc8a6" stroke-width="1" stroke-linejoin="round"/>
<line x1="985.9" y1="420.6" x2="989.4" y2="415.1" stroke="#fff" stroke-width="0.9" stroke-linecap="round" opacity="0.9"/>
<line x1="993.9" y1="416.6" x2="995.9" y2="414.1" stroke="#fff" stroke-width="0.9" stroke-linecap="round" opacity="0.9"/>
<line x1="1000.9" y1="419.6" x2="1001.9" y2="418.1" stroke="#fff" stroke-width="0.9" stroke-linecap="round" opacity="0.9"/>
<line x1="1001.9" y1="427.6" x2="1004.4" y2="422.6" stroke="#fff" stroke-width="0.9" stroke-linecap="round" opacity="0.9"/>
<line x1="1003.9" y1="432.6" x2="1005.4" y2="430.6" stroke="#fff" stroke-width="0.9" stroke-linecap="round" opacity="0.9"/>
<line x1="989.9" y1="420.6" x2="991.9" y2="417.6" stroke="#fff" stroke-width="0.9" stroke-linecap="round" opacity="0.9"/>
<path d="M1008.6,419.1 L1014.4,417.1 L1020.9,414.6 L1025.4,412.6 L1029.4,412.4 L1032.4,413.6 L1034.9,416.6 L1038.4,418.1 L1041.4,420.1 L1042.9,423.6 L1043.4,428.1 L1043.9,433.1 L1049.4,430.6 L1054.4,429.6 L1058.9,430.6 L1059.4,431.6 L1054.4,432.1 L1048.4,434.6 L1044.4,437.1 L1044.9,440.1 L1044.4,441.6 L1042.4,439.6 L1040.4,437.6 L1036.9,436.6 L1033.9,434.1 L1032.4,429.6 L1031.9,425.6 L1031.4,422.6 L1027.9,423.6 L1023.4,425.1 L1018.9,425.6 L1016.4,423.6 L1017.4,421.1 L1014.4,420.1 L1008.6,419.6Z" fill="#f2bdca" stroke="#f2bdca" stroke-width="1" stroke-linejoin="round"/>
<line x1="1020.9" y1="422.6" x2="1024.4" y2="417.1" stroke="#fff" stroke-width="0.9" stroke-linecap="round" opacity="0.9"/>
<line x1="1028.9" y1="418.6" x2="1030.9" y2="416.1" stroke="#fff" stroke-width="0.9" stroke-linecap="round" opacity="0.9"/>
<line x1="1035.9" y1="421.6" x2="1036.9" y2="420.1" stroke="#fff" stroke-width="0.9" stroke-linecap="round" opacity="0.9"/>
<line x1="1036.9" y1="429.6" x2="1039.4" y2="424.6" stroke="#fff" stroke-width="0.9" stroke-linecap="round" opacity="0.9"/>
<line x1="1038.9" y1="434.6" x2="1040.4" y2="432.6" stroke="#fff" stroke-width="0.9" stroke-linecap="round" opacity="0.9"/>
<line x1="1024.9" y1="422.6" x2="1026.9" y2="419.6" stroke="#fff" stroke-width="0.9" stroke-linecap="round" opacity="0.9"/>
<line x1="959.3" y1="406.0" x2="841.0" y2="406.0" stroke="#000" stroke-width="3" />
<polygon points="832.0,406.0 842.0,401.0 842.0,411.0" fill="#000"/>
<text x="890.5" y="352.9" font-size="15" text-anchor="middle" fill="#000" >PCR amplification</text>
<text x="889.5" y="370.7" font-size="15" text-anchor="middle" fill="#000" >of sgRNA region</text>
<text x="887.0" y="389.3" font-size="15" text-anchor="middle" fill="#000" >on genome</text>
<rect x="712.2" y="370.3" width="13.2" height="7.5" fill="#000"/>
<rect x="725.4" y="370.3" width="25.8" height="7.5" fill="#ebc12f"/>
<rect x="751.2" y="370.3" width="13.2" height="7.5" fill="#000"/>
<rect x="681.3" y="384.2" width="13.2" height="7.5" fill="#000"/>
<rect x="694.5" y="384.2" width="25.8" height="7.5" fill="#bcdcf0"/>
<rect x="720.3" y="384.2" width="13.2" height="7.5" fill="#000"/>
<rect x="745.8" y="386.0" width="13.2" height="7.5" fill="#000"/>
<rect x="759.0" y="386.0" width="25.8" height="7.5" fill="#edc5a5"/>
<rect x="784.8" y="386.0" width="13.2" height="7.5" fill="#000"/>
<rect x="696.0" y="400.6" width="13.2" height="7.5" fill="#000"/>
<rect x="709.2" y="400.6" width="25.8" height="7.5" fill="#f2bcc9"/>
<rect x="735.0" y="400.6" width="13.2" height="7.5" fill="#000"/>
<rect x="727.2" y="412.0" width="13.2" height="7.5" fill="#000"/>
<rect x="740.4" y="412.0" width="25.8" height="7.5" fill="#74b84b"/>
<rect x="766.2" y="412.0" width="13.2" height="7.5" fill="#000"/>
<rect x="698.4" y="424.2" width="13.2" height="7.5" fill="#000"/>
<rect x="711.6" y="424.2" width="25.8" height="7.5" fill="#8198b2"/>
<rect x="737.4" y="424.2" width="13.2" height="7.5" fill="#000"/>
<rect x="745.8" y="436.4" width="13.2" height="7.5" fill="#000"/>
<rect x="759.0" y="436.4" width="25.8" height="7.5" fill="#7030a8"/>
<rect x="784.8" y="436.4" width="13.2" height="7.5" fill="#000"/>
<line x1="653.3" y1="413.5" x2="534.9" y2="413.5" stroke="#000" stroke-width="3" />
<polygon points="525.9,413.5 535.9,408.5 535.9,418.5" fill="#000"/>
<text x="586.7" y="380.7" font-size="15" text-anchor="middle" fill="#000" >High-throughput</text>
<text x="581.4" y="398.0" font-size="15" text-anchor="middle" fill="#000" >sequencing</text>
<line x1="500.5" y1="413.5" x2="382.3" y2="413.5" stroke="#000" stroke-width="3" />
<polygon points="373.3,413.5 383.3,408.5 383.3,418.5" fill="#000"/>
<text x="433.3" y="380.7" font-size="15" text-anchor="middle" fill="#000" >Bioinformatic</text>
<text x="430.8" y="398.5" font-size="15" text-anchor="middle" fill="#000" >analysis</text>
<rect x="193.2" y="334.9" width="146.6" height="146.2" fill="none" stroke="#000" stroke-width="2.2"/>
<line x1="188.0" y1="334.9" x2="193.2" y2="334.9" stroke="#000" stroke-width="2" />
<text x="186.0" y="338.9" font-size="11" text-anchor="end" fill="#000" >6</text>
<line x1="188.0" y1="383.9" x2="193.2" y2="383.9" stroke="#000" stroke-width="2" />
<text x="186.0" y="387.9" font-size="11" text-anchor="end" fill="#000" >4</text>
<line x1="188.0" y1="432.7" x2="193.2" y2="432.7" stroke="#000" stroke-width="2" />
<text x="186.0" y="436.7" font-size="11" text-anchor="end" fill="#000" >2</text>
<line x1="188.0" y1="481.1" x2="193.2" y2="481.1" stroke="#000" stroke-width="2" />
<text x="186.0" y="485.1" font-size="11" text-anchor="end" fill="#000" >0</text>
<line x1="193.2" y1="481.1" x2="193.2" y2="485.1" stroke="#000" stroke-width="2" />
<text x="193.2" y="498.0" font-size="11" text-anchor="middle" fill="#000" >0</text>
<line x1="226.1" y1="481.1" x2="226.1" y2="485.1" stroke="#000" stroke-width="2" />
<text x="226.1" y="498.0" font-size="11" text-anchor="middle" fill="#000" >5000</text>
<line x1="259.1" y1="481.1" x2="259.1" y2="485.1" stroke="#000" stroke-width="2" />
<text x="259.1" y="498.0" font-size="11" text-anchor="middle" fill="#000" >10000</text>
<line x1="292.3" y1="481.1" x2="292.3" y2="485.1" stroke="#000" stroke-width="2" />
<text x="292.3" y="498.0" font-size="11" text-anchor="middle" fill="#000" >15000</text>
<line x1="325.4" y1="481.1" x2="325.4" y2="485.1" stroke="#000" stroke-width="2" />
<text x="325.4" y="498.0" font-size="11" text-anchor="middle" fill="#000" >20000</text>
<text x="265.8" y="514.7" font-size="11.3" text-anchor="middle" fill="#000" >Genes</text>
<text transform="translate(175.8,407.5) rotate(-90)" font-size="12" text-anchor="middle" fill="#000">-log10(neg|score)</text>
<path d="M193.9,384.0 L193.9,386.1 L193.9,389.0 L193.9,392.5 L193.9,396.3 L193.9,400.2 L193.9,403.9 L194.0,407.3 L194.0,410.0 L194.1,412.1 L194.1,413.9 L194.2,415.5 L194.3,416.8 L194.4,417.9 L194.5,419.0 L194.6,420.0 L194.7,421.0 L194.8,421.9 L194.9,422.7 L194.9,423.3 L195.0,423.9 L195.1,424.4 L195.3,425.0 L195.4,425.7 L195.6,426.5 L195.8,427.4 L196.1,428.5 L196.3,429.6 L196.6,430.7 L196.9,431.9 L197.3,433.0 L197.7,434.1 L198.2,435.2 L198.7,436.2 L199.3,437.2 L199.9,438.1 L200.6,439.1 L201.3,440.0 L202.0,440.9 L202.8,441.8 L203.6,442.7 L204.4,443.6 L205.2,444.4 L206.1,445.2 L207.0,446.0 L207.9,446.8 L208.9,447.6 L210.0,448.4 L211.1,449.2 L212.3,450.0 L213.7,450.9 L215.2,451.8 L216.7,452.7 L218.2,453.5 L219.7,454.3 L221.0,455.1 L222.3,455.7 L223.4,456.2 L224.4,456.7 L225.4,457.1 L226.3,457.4 L227.1,457.7 L228.0,458.1 L229.0,458.4 L230.0,458.8 L231.1,459.2 L232.2,459.7 L233.2,460.1 L234.4,460.6 L235.6,461.1 L236.8,461.6 L238.2,462.1 L239.6,462.6 L241.2,463.2 L242.9,463.8 L244.7,464.4 L246.5,465.0 L248.4,465.7 L250.3,466.3 L252.2,466.9 L254.0,467.4 L255.8,467.9 L257.6,468.3 L259.4,468.8 L261.2,469.2 L262.9,469.6 L264.7,469.9 L266.5,470.3 L268.3,470.7 L270.1,471.1 L271.9,471.4 L273.7,471.8 L275.5,472.2 L277.3,472.5 L279.1,472.9 L280.9,473.2 L282.7,473.6 L284.5,474.0 L286.3,474.4 L288.1,474.8 L289.9,475.2 L291.7,475.6 L293.5,476.0 L295.3,476.4 L297.1,476.8 L298.9,477.2 L300.8,477.5 L302.7,477.9 L304.5,478.2 L306.4,478.5 L308.2,478.8 L309.9,479.1 L311.5,479.4 L313.1,479.7 L314.6,479.9 L316.2,480.2 L317.6,480.4 L319.0,480.6 L320.2,480.8 L321.2,481.0 L322.0,481.1" fill="none" stroke="#000" stroke-width="3.7" stroke-linejoin="round"/>
<line x1="194.0" y1="336.0" x2="194.0" y2="386.0" stroke="#000" stroke-width="1.7" stroke-dasharray="2.5 1"/>
<text x="4.9" y="536.0" font-size="24" text-anchor="start" fill="#000" >b</text>
<polyline points="92.3,571.4 250.5,571.4 250.5,729 92.3,729 92.3,571.4" fill="none" stroke="#111" stroke-width="1.7"/>
<line x1="87.2" y1="571.4" x2="92.3" y2="571.4" stroke="#000" stroke-width="1.7" />
<text x="85.0" y="576.7" font-size="14.5" text-anchor="end" fill="#000" >6</text>
<line x1="87.2" y1="611.2" x2="92.3" y2="611.2" stroke="#000" stroke-width="1.7" />
<text x="85.0" y="616.5" font-size="14.5" text-anchor="end" fill="#000" >4</text>
<line x1="87.2" y1="650.3" x2="92.3" y2="650.3" stroke="#000" stroke-width="1.7" />
<text x="85.0" y="655.6" font-size="14.5" text-anchor="end" fill="#000" >2</text>
<line x1="87.2" y1="689.8" x2="92.3" y2="689.8" stroke="#000" stroke-width="1.7" />
<text x="85.0" y="695.1" font-size="14.5" text-anchor="end" fill="#000" >0</text>
<line x1="87.2" y1="729.0" x2="92.3" y2="729.0" stroke="#000" stroke-width="1.7" />
<text x="85.0" y="734.3" font-size="14.5" text-anchor="end" fill="#000" >-2</text>
<line x1="137.3" y1="606.7" x2="137.3" y2="689.8" stroke="#5aa2f5" stroke-width="2.2" />
<line x1="126.7" y1="606.7" x2="148.0" y2="606.7" stroke="#5aa2f5" stroke-width="2.2" />
<line x1="126.7" y1="689.8" x2="148.0" y2="689.8" stroke="#5aa2f5" stroke-width="2.2" />
<rect x="116.1" y="636.1" width="42.7" height="5.8" fill="#fff" stroke="#5aa2f5" stroke-width="2.1"/>
<line x1="204.9" y1="590.7" x2="204.9" y2="689.8" stroke="#eb3340" stroke-width="2.2" />
<line x1="194.0" y1="590.7" x2="215.7" y2="590.7" stroke="#eb3340" stroke-width="2.2" />
<line x1="194.0" y1="689.8" x2="215.7" y2="689.8" stroke="#eb3340" stroke-width="2.2" />
<rect x="182.4" y="638" width="44.8" height="7.6" fill="#eb3340"/>
<rect x="184.6" y="642.3" width="40.4" height="1.5" fill="#f7a7ab"/>
<line x1="137.3" y1="729.0" x2="137.3" y2="734.0" stroke="#000" stroke-width="1.7" />
<line x1="204.9" y1="729.0" x2="204.9" y2="734.0" stroke="#000" stroke-width="1.7" />
<text x="135.0" y="750.2" font-size="14.5" text-anchor="middle" fill="#000" >Vehicle</text>
<text x="204.5" y="750.8" font-size="14.5" text-anchor="middle" fill="#000" >PTX</text>
<text transform="translate(49.0,659.5) rotate(-90)" font-size="15" text-anchor="middle" fill="#000">log10 normalized</text>
<text transform="translate(67.5,661.4) rotate(-90)" font-size="15" text-anchor="middle" fill="#000">read count</text>
<rect x="269.2" y="573.5" width="14" height="5.2" fill="#fff" stroke="#5aa2f5" stroke-width="2.2"/>
<rect x="269.2" y="594.8" width="14" height="5.2" fill="#fff" stroke="#eb3340" stroke-width="2.2"/>
<text x="292.4" y="582.0" font-size="14.6" text-anchor="start" fill="#000" >Vehicle</text>
<text x="292.4" y="603.8" font-size="14.6" text-anchor="start" fill="#000" >PTX</text>
<text x="365.0" y="535.4" font-size="24" text-anchor="start" fill="#000" >c</text>
<path d="M436.8,723.3 L437.3,711.9 L437.2,697.7 L436.5,685.0 L435.9,674.0 L436.8,664.5 L438.4,656.5 L440.6,651.5 L443.8,650.2 L446.7,653.4 L448.6,661.3 L451.1,669.2 L456.5,671.6 L462.5,672.7 L472.0,672.1 L478.3,670.8 L482.3,669.2 L489.4,666.4 L497.3,664.8 L506.0,665.7 L516.3,669.2 L525.8,671.6 L535.3,670.0 L540.4,662.9 L543.5,655.0 L547.2,647.8 L550.8,644.7 L554.0,646.3 L556.3,651.8 L557.8,662.9 L558.1,677.1 L557.1,691.4 L554.3,697.7 L554.0,705.6 L555.9,715.9 L558.2,723.3Z" fill="#a3c7f2"/>
<rect x="449.4" y="708.2" width="1.4" height="1.4" fill="#fff"/>
<rect x="454.4" y="709.5" width="1.4" height="1.4" fill="#fff"/>
<rect x="464.1" y="697.6" width="1.4" height="1.4" fill="#fff"/>
<rect x="440.8" y="714.7" width="1.4" height="1.4" fill="#fff"/>
<rect x="450.2" y="701.3" width="1.4" height="1.4" fill="#fff"/>
<rect x="478.1" y="706.5" width="1.4" height="1.4" fill="#fff"/>
<rect x="472.1" y="706.7" width="1.4" height="1.4" fill="#fff"/>
<rect x="464.6" y="699.5" width="1.4" height="1.4" fill="#fff"/>
<rect x="464.4" y="715.4" width="1.4" height="1.4" fill="#fff"/>
<rect x="460.2" y="712.5" width="1.4" height="1.4" fill="#fff"/>
<rect x="465.8" y="697.5" width="1.4" height="1.4" fill="#fff"/>
<rect x="469.1" y="709.2" width="1.4" height="1.4" fill="#fff"/>
<rect x="451.8" y="696.8" width="1.4" height="1.4" fill="#fff"/>
<rect x="473.2" y="706.6" width="1.4" height="1.4" fill="#fff"/>
<rect x="467.6" y="715.6" width="1.4" height="1.4" fill="#fff"/>
<rect x="467.5" y="716.5" width="1.4" height="1.4" fill="#fff"/>
<rect x="455.3" y="713.9" width="1.4" height="1.4" fill="#fff"/>
<rect x="457.2" y="716.9" width="1.4" height="1.4" fill="#fff"/>
<rect x="473.7" y="698.3" width="1.4" height="1.4" fill="#fff"/>
<rect x="445.5" y="700.9" width="1.4" height="1.4" fill="#fff"/>
<rect x="477.0" y="705.8" width="1.4" height="1.4" fill="#fff"/>
<rect x="464.1" y="702.8" width="1.4" height="1.4" fill="#fff"/>
<rect x="459.6" y="704.7" width="1.4" height="1.4" fill="#fff"/>
<rect x="453.7" y="709.1" width="1.4" height="1.4" fill="#fff"/>
<rect x="462.5" y="716.2" width="1.4" height="1.4" fill="#fff"/>
<rect x="466.2" y="716.7" width="1.4" height="1.4" fill="#fff"/>
<rect x="472.9" y="718.1" width="1.4" height="1.4" fill="#fff"/>
<rect x="465.8" y="699.7" width="1.4" height="1.4" fill="#fff"/>
<rect x="473.0" y="717.5" width="1.4" height="1.4" fill="#fff"/>
<rect x="474.7" y="708.7" width="1.4" height="1.4" fill="#fff"/>
<rect x="467.4" y="700.8" width="1.4" height="1.4" fill="#fff"/>
<rect x="471.9" y="708.8" width="1.4" height="1.4" fill="#fff"/>
<rect x="451.1" y="697.5" width="1.4" height="1.4" fill="#fff"/>
<rect x="472.8" y="718.1" width="1.4" height="1.4" fill="#fff"/>
<rect x="443.7" y="713.9" width="1.4" height="1.4" fill="#fff"/>
<rect x="455.9" y="699.5" width="1.4" height="1.4" fill="#fff"/>
<rect x="451.5" y="713.2" width="1.4" height="1.4" fill="#fff"/>
<rect x="473.5" y="697.1" width="1.4" height="1.4" fill="#fff"/>
<rect x="463.7" y="697.1" width="1.4" height="1.4" fill="#fff"/>
<rect x="467.6" y="703.5" width="1.4" height="1.4" fill="#fff"/>
<rect x="473.8" y="717.8" width="1.4" height="1.4" fill="#fff"/>
<rect x="459.5" y="718.2" width="1.4" height="1.4" fill="#fff"/>
<rect x="452.1" y="697.8" width="1.4" height="1.4" fill="#fff"/>
<rect x="463.1" y="696.8" width="1.4" height="1.4" fill="#fff"/>
<rect x="447.8" y="705.2" width="1.4" height="1.4" fill="#fff"/>
<rect x="463.5" y="699.6" width="1.4" height="1.4" fill="#fff"/>
<rect x="441.9" y="715.3" width="1.4" height="1.4" fill="#fff"/>
<rect x="452.2" y="717.4" width="1.4" height="1.4" fill="#fff"/>
<rect x="474.4" y="704.5" width="1.4" height="1.4" fill="#fff"/>
<rect x="457.8" y="707.6" width="1.4" height="1.4" fill="#fff"/>
<rect x="464.8" y="709.3" width="1.4" height="1.4" fill="#fff"/>
<rect x="461.6" y="709.9" width="1.4" height="1.4" fill="#fff"/>
<rect x="476.1" y="707.4" width="1.4" height="1.4" fill="#fff"/>
<rect x="456.7" y="712.1" width="1.4" height="1.4" fill="#fff"/>
<rect x="449.4" y="702.8" width="1.4" height="1.4" fill="#fff"/>
<rect x="477.5" y="707.7" width="1.4" height="1.4" fill="#fff"/>
<rect x="461.2" y="696.4" width="1.4" height="1.4" fill="#fff"/>
<rect x="456.1" y="709.0" width="1.4" height="1.4" fill="#fff"/>
<rect x="441.1" y="709.8" width="1.4" height="1.4" fill="#fff"/>
<rect x="464.3" y="697.5" width="1.4" height="1.4" fill="#fff"/>
<rect x="464.2" y="706.5" width="1.4" height="1.4" fill="#fff"/>
<rect x="466.1" y="703.9" width="1.4" height="1.4" fill="#fff"/>
<rect x="467.2" y="712.5" width="1.4" height="1.4" fill="#fff"/>
<rect x="441.2" y="697.5" width="1.4" height="1.4" fill="#fff"/>
<rect x="466.0" y="717.5" width="1.4" height="1.4" fill="#fff"/>
<rect x="449.9" y="706.2" width="1.4" height="1.4" fill="#fff"/>
<rect x="462.8" y="703.2" width="1.4" height="1.4" fill="#fff"/>
<rect x="454.1" y="703.0" width="1.4" height="1.4" fill="#fff"/>
<rect x="454.3" y="709.3" width="1.4" height="1.4" fill="#fff"/>
<rect x="451.7" y="704.5" width="1.4" height="1.4" fill="#fff"/>
<rect x="469.7" y="696.7" width="1.4" height="1.4" fill="#fff"/>
<rect x="461.9" y="712.4" width="1.4" height="1.4" fill="#fff"/>
<rect x="452.1" y="701.1" width="1.4" height="1.4" fill="#fff"/>
<rect x="470.9" y="701.4" width="1.4" height="1.4" fill="#fff"/>
<rect x="447.4" y="705.8" width="1.4" height="1.4" fill="#fff"/>
<rect x="466.8" y="698.4" width="1.4" height="1.4" fill="#fff"/>
<rect x="452.6" y="703.5" width="1.4" height="1.4" fill="#fff"/>
<rect x="472.0" y="705.8" width="1.4" height="1.4" fill="#fff"/>
<rect x="472.8" y="699.9" width="1.4" height="1.4" fill="#fff"/>
<rect x="453.1" y="710.5" width="1.4" height="1.4" fill="#fff"/>
<rect x="473.9" y="706.1" width="1.4" height="1.4" fill="#fff"/>
<rect x="448.9" y="698.8" width="1.4" height="1.4" fill="#fff"/>
<rect x="460.4" y="700.3" width="1.4" height="1.4" fill="#fff"/>
<rect x="471.0" y="714.7" width="1.4" height="1.4" fill="#fff"/>
<rect x="447.3" y="702.3" width="1.4" height="1.4" fill="#fff"/>
<rect x="471.0" y="710.3" width="1.4" height="1.4" fill="#fff"/>
<rect x="471.0" y="703.8" width="1.4" height="1.4" fill="#fff"/>
<rect x="445.3" y="702.6" width="1.4" height="1.4" fill="#fff"/>
<rect x="470.5" y="702.1" width="1.4" height="1.4" fill="#fff"/>
<rect x="453.5" y="705.4" width="1.4" height="1.4" fill="#fff"/>
<rect x="456.3" y="705.2" width="1.4" height="1.4" fill="#fff"/>
<rect x="475.3" y="699.6" width="1.4" height="1.4" fill="#fff"/>
<rect x="440.5" y="717.0" width="1.4" height="1.4" fill="#fff"/>
<rect x="473.8" y="718.0" width="1.4" height="1.4" fill="#fff"/>
<rect x="456.8" y="717.2" width="1.4" height="1.4" fill="#fff"/>
<rect x="475.6" y="701.0" width="1.4" height="1.4" fill="#fff"/>
<rect x="468.6" y="714.7" width="1.4" height="1.4" fill="#fff"/>
<rect x="465.5" y="707.6" width="1.4" height="1.4" fill="#fff"/>
<rect x="451.3" y="703.7" width="1.4" height="1.4" fill="#fff"/>
<rect x="449.0" y="697.6" width="1.4" height="1.4" fill="#fff"/>
<rect x="462.7" y="702.5" width="1.4" height="1.4" fill="#fff"/>
<rect x="471.1" y="697.1" width="1.4" height="1.4" fill="#fff"/>
<rect x="474.6" y="711.5" width="1.4" height="1.4" fill="#fff"/>
<rect x="475.4" y="716.0" width="1.4" height="1.4" fill="#fff"/>
<rect x="474.5" y="708.9" width="1.4" height="1.4" fill="#fff"/>
<rect x="440.8" y="712.6" width="1.4" height="1.4" fill="#fff"/>
<rect x="446.9" y="702.8" width="1.4" height="1.4" fill="#fff"/>
<rect x="465.5" y="707.8" width="1.4" height="1.4" fill="#fff"/>
<rect x="456.0" y="716.9" width="1.4" height="1.4" fill="#fff"/>
<rect x="463.6" y="703.7" width="1.4" height="1.4" fill="#fff"/>
<rect x="449.9" y="715.2" width="1.4" height="1.4" fill="#fff"/>
<rect x="458.5" y="713.5" width="1.4" height="1.4" fill="#fff"/>
<rect x="453.7" y="700.5" width="1.4" height="1.4" fill="#fff"/>
<rect x="460.6" y="714.2" width="1.4" height="1.4" fill="#fff"/>
<rect x="446.8" y="713.7" width="1.4" height="1.4" fill="#fff"/>
<rect x="475.3" y="714.0" width="1.4" height="1.4" fill="#fff"/>
<rect x="471.6" y="696.3" width="1.4" height="1.4" fill="#fff"/>
<rect x="464.2" y="715.2" width="1.4" height="1.4" fill="#fff"/>
<rect x="442.2" y="702.1" width="1.4" height="1.4" fill="#fff"/>
<rect x="450.5" y="707.8" width="1.4" height="1.4" fill="#fff"/>
<rect x="456.4" y="706.6" width="1.4" height="1.4" fill="#fff"/>
<rect x="469.8" y="696.2" width="1.4" height="1.4" fill="#fff"/>
<rect x="442.4" y="698.9" width="1.4" height="1.4" fill="#fff"/>
<rect x="445.1" y="697.6" width="1.4" height="1.4" fill="#fff"/>
<rect x="477.3" y="715.1" width="1.4" height="1.4" fill="#fff"/>
<rect x="443.6" y="707.2" width="1.4" height="1.4" fill="#fff"/>
<rect x="452.3" y="703.1" width="1.4" height="1.4" fill="#fff"/>
<rect x="453.7" y="710.5" width="1.4" height="1.4" fill="#fff"/>
<rect x="462.6" y="704.1" width="1.4" height="1.4" fill="#fff"/>
<rect x="447.6" y="703.4" width="1.4" height="1.4" fill="#fff"/>
<rect x="445.0" y="708.4" width="1.4" height="1.4" fill="#fff"/>
<rect x="467.5" y="704.5" width="1.4" height="1.4" fill="#fff"/>
<rect x="443.4" y="700.1" width="1.4" height="1.4" fill="#fff"/>
<rect x="454.5" y="709.5" width="1.4" height="1.4" fill="#fff"/>
<rect x="470.1" y="704.5" width="1.4" height="1.4" fill="#fff"/>
<rect x="470.8" y="709.9" width="1.4" height="1.4" fill="#fff"/>
<rect x="456.7" y="704.4" width="1.4" height="1.4" fill="#fff"/>
<rect x="459.2" y="711.7" width="1.4" height="1.4" fill="#fff"/>
<rect x="456.3" y="711.5" width="1.4" height="1.4" fill="#fff"/>
<rect x="457.8" y="701.5" width="1.4" height="1.4" fill="#fff"/>
<rect x="460.7" y="711.5" width="1.4" height="1.4" fill="#fff"/>
<rect x="443.0" y="705.5" width="1.4" height="1.4" fill="#fff"/>
<rect x="456.5" y="715.6" width="1.4" height="1.4" fill="#fff"/>
<rect x="475.9" y="704.4" width="1.4" height="1.4" fill="#fff"/>
<rect x="474.4" y="713.6" width="1.4" height="1.4" fill="#fff"/>
<rect x="450.3" y="706.4" width="1.4" height="1.4" fill="#fff"/>
<rect x="445.0" y="714.1" width="1.4" height="1.4" fill="#fff"/>
<rect x="465.5" y="715.8" width="1.4" height="1.4" fill="#fff"/>
<rect x="470.4" y="710.9" width="1.4" height="1.4" fill="#fff"/>
<rect x="468.2" y="708.6" width="1.4" height="1.4" fill="#fff"/>
<rect x="444.0" y="689.6" width="1.2" height="1.2" fill="#fff"/>
<rect x="442.0" y="682.6" width="1.2" height="1.2" fill="#fff"/>
<rect x="457.8" y="681.0" width="1.2" height="1.2" fill="#fff"/>
<rect x="443.8" y="681.9" width="1.2" height="1.2" fill="#fff"/>
<rect x="460.0" y="683.1" width="1.2" height="1.2" fill="#fff"/>
<rect x="442.4" y="693.6" width="1.2" height="1.2" fill="#fff"/>
<rect x="444.4" y="693.6" width="1.2" height="1.2" fill="#fff"/>
<rect x="455.8" y="693.5" width="1.2" height="1.2" fill="#fff"/>
<rect x="461.5" y="689.5" width="1.2" height="1.2" fill="#fff"/>
<rect x="458.3" y="680.9" width="1.2" height="1.2" fill="#fff"/>
<rect x="457.7" y="688.4" width="1.2" height="1.2" fill="#fff"/>
<rect x="456.6" y="682.0" width="1.2" height="1.2" fill="#fff"/>
<rect x="457.3" y="695.1" width="1.2" height="1.2" fill="#fff"/>
<rect x="443.2" y="685.4" width="1.2" height="1.2" fill="#fff"/>
<rect x="453.5" y="693.4" width="1.2" height="1.2" fill="#fff"/>
<rect x="446.9" y="683.1" width="1.2" height="1.2" fill="#fff"/>
<rect x="447.1" y="690.0" width="1.2" height="1.2" fill="#fff"/>
<rect x="457.4" y="686.5" width="1.2" height="1.2" fill="#fff"/>
<rect x="449.5" y="686.6" width="1.2" height="1.2" fill="#fff"/>
<rect x="449.1" y="686.9" width="1.2" height="1.2" fill="#fff"/>
<rect x="443.6" y="688.2" width="1.2" height="1.2" fill="#fff"/>
<rect x="461.9" y="686.8" width="1.2" height="1.2" fill="#fff"/>
<rect x="457.3" y="682.8" width="1.2" height="1.2" fill="#fff"/>
<rect x="456.1" y="692.3" width="1.2" height="1.2" fill="#fff"/>
<rect x="455.8" y="688.5" width="1.2" height="1.2" fill="#fff"/>
<rect x="451.9" y="690.5" width="1.2" height="1.2" fill="#fff"/>
<rect x="460.4" y="682.7" width="1.2" height="1.2" fill="#fff"/>
<rect x="443.9" y="692.1" width="1.2" height="1.2" fill="#fff"/>
<rect x="460.8" y="688.5" width="1.2" height="1.2" fill="#fff"/>
<rect x="451.0" y="691.7" width="1.2" height="1.2" fill="#fff"/>
<rect x="445.7" y="684.5" width="1.2" height="1.2" fill="#fff"/>
<rect x="446.0" y="689.6" width="1.2" height="1.2" fill="#fff"/>
<rect x="448.4" y="684.0" width="1.2" height="1.2" fill="#fff"/>
<rect x="456.1" y="695.4" width="1.2" height="1.2" fill="#fff"/>
<rect x="448.0" y="691.5" width="1.2" height="1.2" fill="#fff"/>
<rect x="450.4" y="693.8" width="1.2" height="1.2" fill="#fff"/>
<rect x="453.9" y="684.5" width="1.2" height="1.2" fill="#fff"/>
<rect x="446.4" y="680.7" width="1.2" height="1.2" fill="#fff"/>
<rect x="451.8" y="686.3" width="1.2" height="1.2" fill="#fff"/>
<rect x="445.5" y="686.0" width="1.2" height="1.2" fill="#fff"/>
<rect x="448.5" y="692.5" width="1.2" height="1.2" fill="#fff"/>
<rect x="444.9" y="696.0" width="1.2" height="1.2" fill="#fff"/>
<rect x="451.8" y="689.8" width="1.2" height="1.2" fill="#fff"/>
<rect x="451.5" y="693.5" width="1.2" height="1.2" fill="#fff"/>
<rect x="458.8" y="689.1" width="1.2" height="1.2" fill="#fff"/>
<rect x="451.8" y="691.7" width="1.2" height="1.2" fill="#fff"/>
<rect x="459.5" y="686.6" width="1.2" height="1.2" fill="#fff"/>
<rect x="457.0" y="695.5" width="1.2" height="1.2" fill="#fff"/>
<rect x="451.5" y="683.9" width="1.2" height="1.2" fill="#fff"/>
<rect x="446.7" y="691.7" width="1.2" height="1.2" fill="#fff"/>
<rect x="471.2" y="679.9" width="1.1" height="1.1" fill="#fff"/>
<rect x="476.9" y="673.1" width="1.1" height="1.1" fill="#fff"/>
<rect x="455.8" y="673.3" width="1.1" height="1.1" fill="#fff"/>
<rect x="455.7" y="677.5" width="1.1" height="1.1" fill="#fff"/>
<rect x="477.0" y="679.3" width="1.1" height="1.1" fill="#fff"/>
<rect x="457.9" y="679.0" width="1.1" height="1.1" fill="#fff"/>
<rect x="459.7" y="674.8" width="1.1" height="1.1" fill="#fff"/>
<rect x="472.9" y="671.6" width="1.1" height="1.1" fill="#fff"/>
<rect x="452.8" y="678.7" width="1.1" height="1.1" fill="#fff"/>
<rect x="459.1" y="674.2" width="1.1" height="1.1" fill="#fff"/>
<rect x="468.2" y="677.2" width="1.1" height="1.1" fill="#fff"/>
<rect x="450.0" y="674.0" width="1.1" height="1.1" fill="#fff"/>
<rect x="463.6" y="675.4" width="1.1" height="1.1" fill="#fff"/>
<rect x="456.5" y="676.4" width="1.1" height="1.1" fill="#fff"/>
<rect x="480.1" y="674.5" width="1.1" height="1.1" fill="#fff"/>
<rect x="467.1" y="671.9" width="1.1" height="1.1" fill="#fff"/>
<rect x="458.5" y="677.1" width="1.1" height="1.1" fill="#fff"/>
<rect x="453.4" y="679.2" width="1.1" height="1.1" fill="#fff"/>
<rect x="478.6" y="671.7" width="1.1" height="1.1" fill="#fff"/>
<rect x="479.6" y="674.3" width="1.1" height="1.1" fill="#fff"/>
<rect x="474.3" y="678.0" width="1.1" height="1.1" fill="#fff"/>
<rect x="459.2" y="677.2" width="1.1" height="1.1" fill="#fff"/>
<rect x="470.5" y="678.4" width="1.1" height="1.1" fill="#fff"/>
<rect x="458.2" y="678.0" width="1.1" height="1.1" fill="#fff"/>
<rect x="480.3" y="677.2" width="1.1" height="1.1" fill="#fff"/>
<rect x="466.8" y="671.9" width="1.1" height="1.1" fill="#fff"/>
<rect x="465.5" y="674.1" width="1.1" height="1.1" fill="#fff"/>
<rect x="472.6" y="677.2" width="1.1" height="1.1" fill="#fff"/>
<rect x="467.8" y="672.5" width="1.1" height="1.1" fill="#fff"/>
<rect x="470.3" y="676.8" width="1.1" height="1.1" fill="#fff"/>
<rect x="455.5" y="679.2" width="1.1" height="1.1" fill="#fff"/>
<rect x="470.6" y="672.0" width="1.1" height="1.1" fill="#fff"/>
<rect x="479.3" y="672.1" width="1.1" height="1.1" fill="#fff"/>
<rect x="460.3" y="677.6" width="1.1" height="1.1" fill="#fff"/>
<rect x="468.7" y="676.1" width="1.1" height="1.1" fill="#fff"/>
<rect x="470.3" y="675.1" width="1.1" height="1.1" fill="#fff"/>
<rect x="459.7" y="672.5" width="1.1" height="1.1" fill="#fff"/>
<rect x="452.0" y="677.6" width="1.1" height="1.1" fill="#fff"/>
<rect x="473.7" y="676.0" width="1.1" height="1.1" fill="#fff"/>
<rect x="473.2" y="674.2" width="1.1" height="1.1" fill="#fff"/>
<rect x="524.2" y="679.8" width="1.2" height="1.2" fill="#fff"/>
<rect x="538.6" y="676.0" width="1.2" height="1.2" fill="#fff"/>
<rect x="529.9" y="678.3" width="1.2" height="1.2" fill="#fff"/>
<rect x="536.1" y="679.5" width="1.2" height="1.2" fill="#fff"/>
<rect x="525.8" y="680.0" width="1.2" height="1.2" fill="#fff"/>
<rect x="530.7" y="684.1" width="1.2" height="1.2" fill="#fff"/>
<rect x="526.3" y="684.9" width="1.2" height="1.2" fill="#fff"/>
<rect x="520.5" y="678.5" width="1.2" height="1.2" fill="#fff"/>
<rect x="520.2" y="676.8" width="1.2" height="1.2" fill="#fff"/>
<rect x="536.4" y="683.6" width="1.2" height="1.2" fill="#fff"/>
<rect x="522.3" y="677.6" width="1.2" height="1.2" fill="#fff"/>
<rect x="527.8" y="683.8" width="1.2" height="1.2" fill="#fff"/>
<rect x="537.2" y="683.8" width="1.2" height="1.2" fill="#fff"/>
<rect x="531.9" y="677.2" width="1.2" height="1.2" fill="#fff"/>
<rect x="527.3" y="677.7" width="1.2" height="1.2" fill="#fff"/>
<rect x="530.4" y="681.8" width="1.2" height="1.2" fill="#fff"/>
<rect x="522.7" y="678.3" width="1.2" height="1.2" fill="#fff"/>
<rect x="536.4" y="675.9" width="1.2" height="1.2" fill="#fff"/>
<rect x="536.9" y="685.4" width="1.2" height="1.2" fill="#fff"/>
<rect x="540.4" y="679.8" width="1.2" height="1.2" fill="#fff"/>
<rect x="531.0" y="682.0" width="1.2" height="1.2" fill="#fff"/>
<rect x="532.9" y="686.4" width="1.2" height="1.2" fill="#fff"/>
<rect x="534.2" y="678.9" width="1.2" height="1.2" fill="#fff"/>
<rect x="538.3" y="680.9" width="1.2" height="1.2" fill="#fff"/>
<rect x="532.2" y="683.6" width="1.2" height="1.2" fill="#fff"/>
<rect x="517.9" y="684.1" width="1.2" height="1.2" fill="#fff"/>
<rect x="533.6" y="681.0" width="1.2" height="1.2" fill="#fff"/>
<rect x="530.3" y="680.6" width="1.2" height="1.2" fill="#fff"/>
<rect x="522.5" y="681.4" width="1.2" height="1.2" fill="#fff"/>
<rect x="518.8" y="681.1" width="1.2" height="1.2" fill="#fff"/>
<rect x="533.2" y="680.5" width="1.2" height="1.2" fill="#fff"/>
<rect x="531.3" y="686.2" width="1.2" height="1.2" fill="#fff"/>
<rect x="539.1" y="677.0" width="1.2" height="1.2" fill="#fff"/>
<rect x="536.7" y="682.4" width="1.2" height="1.2" fill="#fff"/>
<rect x="519.1" y="679.5" width="1.2" height="1.2" fill="#fff"/>
<rect x="523.4" y="676.4" width="1.2" height="1.2" fill="#fff"/>
<rect x="530.7" y="685.8" width="1.2" height="1.2" fill="#fff"/>
<rect x="525.6" y="685.2" width="1.2" height="1.2" fill="#fff"/>
<rect x="534.4" y="677.0" width="1.2" height="1.2" fill="#fff"/>
<rect x="538.3" y="682.2" width="1.2" height="1.2" fill="#fff"/>
<rect x="539.9" y="683.5" width="1.2" height="1.2" fill="#fff"/>
<rect x="535.4" y="679.3" width="1.2" height="1.2" fill="#fff"/>
<rect x="537.0" y="685.9" width="1.2" height="1.2" fill="#fff"/>
<rect x="538.3" y="680.4" width="1.2" height="1.2" fill="#fff"/>
<rect x="535.8" y="680.9" width="1.2" height="1.2" fill="#fff"/>
<rect x="520.5" y="676.0" width="1.2" height="1.2" fill="#fff"/>
<rect x="519.7" y="677.8" width="1.2" height="1.2" fill="#fff"/>
<rect x="521.7" y="681.1" width="1.2" height="1.2" fill="#fff"/>
<rect x="534.5" y="681.5" width="1.2" height="1.2" fill="#fff"/>
<rect x="527.9" y="682.7" width="1.2" height="1.2" fill="#fff"/>
<rect x="494.3" y="672.9" width="1.0" height="1.0" fill="#fff"/>
<rect x="508.6" y="672.4" width="1.0" height="1.0" fill="#fff"/>
<rect x="490.4" y="676.3" width="1.0" height="1.0" fill="#fff"/>
<rect x="507.4" y="672.1" width="1.0" height="1.0" fill="#fff"/>
<rect x="496.4" y="673.4" width="1.0" height="1.0" fill="#fff"/>
<rect x="503.5" y="671.0" width="1.0" height="1.0" fill="#fff"/>
<rect x="484.7" y="670.9" width="1.0" height="1.0" fill="#fff"/>
<rect x="509.4" y="670.3" width="1.0" height="1.0" fill="#fff"/>
<rect x="499.2" y="670.8" width="1.0" height="1.0" fill="#fff"/>
<rect x="491.3" y="670.6" width="1.0" height="1.0" fill="#fff"/>
<rect x="497.4" y="670.5" width="1.0" height="1.0" fill="#fff"/>
<rect x="485.5" y="670.1" width="1.0" height="1.0" fill="#fff"/>
<rect x="490.0" y="673.1" width="1.0" height="1.0" fill="#fff"/>
<rect x="486.5" y="669.4" width="1.0" height="1.0" fill="#fff"/>
<rect x="498.8" y="672.4" width="1.0" height="1.0" fill="#fff"/>
<rect x="506.9" y="669.6" width="1.0" height="1.0" fill="#fff"/>
<rect x="497.4" y="672.4" width="1.0" height="1.0" fill="#fff"/>
<rect x="485.5" y="676.9" width="1.0" height="1.0" fill="#fff"/>
<rect x="491.6" y="670.0" width="1.0" height="1.0" fill="#fff"/>
<rect x="499.7" y="670.5" width="1.0" height="1.0" fill="#fff"/>
<rect x="504.3" y="672.0" width="1.0" height="1.0" fill="#fff"/>
<rect x="488.6" y="669.6" width="1.0" height="1.0" fill="#fff"/>
<rect x="507.7" y="671.4" width="1.0" height="1.0" fill="#fff"/>
<rect x="509.6" y="672.9" width="1.0" height="1.0" fill="#fff"/>
<rect x="514.2" y="671.6" width="1.0" height="1.0" fill="#fff"/>
<rect x="547.2" y="654.5" width="1.0" height="1.0" fill="#fff"/>
<rect x="552.5" y="662.6" width="1.0" height="1.0" fill="#fff"/>
<rect x="548.1" y="650.7" width="1.0" height="1.0" fill="#fff"/>
<rect x="551.3" y="670.1" width="1.0" height="1.0" fill="#fff"/>
<rect x="550.4" y="648.7" width="1.0" height="1.0" fill="#fff"/>
<rect x="545.1" y="650.6" width="1.0" height="1.0" fill="#fff"/>
<rect x="546.4" y="649.4" width="1.0" height="1.0" fill="#fff"/>
<rect x="545.3" y="663.1" width="1.0" height="1.0" fill="#fff"/>
<rect x="553.3" y="653.1" width="1.0" height="1.0" fill="#fff"/>
<rect x="554.0" y="659.2" width="1.0" height="1.0" fill="#fff"/>
<rect x="552.4" y="669.0" width="1.0" height="1.0" fill="#fff"/>
<rect x="553.7" y="649.4" width="1.0" height="1.0" fill="#fff"/>
<rect x="547.7" y="662.1" width="1.0" height="1.0" fill="#fff"/>
<rect x="553.8" y="650.6" width="1.0" height="1.0" fill="#fff"/>
<rect x="547.6" y="667.5" width="1.0" height="1.0" fill="#fff"/>
<rect x="545.9" y="657.3" width="1.0" height="1.0" fill="#fff"/>
<rect x="548.0" y="663.7" width="1.0" height="1.0" fill="#fff"/>
<rect x="553.6" y="652.5" width="1.0" height="1.0" fill="#fff"/>
<rect x="551.8" y="664.9" width="1.0" height="1.0" fill="#fff"/>
<rect x="552.7" y="660.9" width="1.0" height="1.0" fill="#fff"/>
<rect x="449.6" y="637.2" width="1.3" height="1.3" fill="#a3c7f2"/>
<rect x="441.5" y="633.6" width="1.3" height="1.3" fill="#a3c7f2"/>
<rect x="447.3" y="640.4" width="1.3" height="1.3" fill="#a3c7f2"/>
<rect x="439.2" y="632.0" width="1.3" height="1.3" fill="#a3c7f2"/>
<rect x="446.4" y="643.8" width="1.3" height="1.3" fill="#a3c7f2"/>
<rect x="446.2" y="637.9" width="1.3" height="1.3" fill="#a3c7f2"/>
<rect x="442.7" y="631.6" width="1.3" height="1.3" fill="#a3c7f2"/>
<rect x="446.2" y="628.1" width="1.3" height="1.3" fill="#a3c7f2"/>
<rect x="442.4" y="647.9" width="1.3" height="1.3" fill="#a3c7f2"/>
<rect x="445.7" y="630.1" width="1.3" height="1.3" fill="#a3c7f2"/>
<rect x="438.7" y="650.2" width="1.3" height="1.3" fill="#a3c7f2"/>
<rect x="445.1" y="651.1" width="1.3" height="1.3" fill="#a3c7f2"/>
<rect x="448.8" y="639.6" width="1.3" height="1.3" fill="#a3c7f2"/>
<rect x="449.2" y="647.2" width="1.3" height="1.3" fill="#a3c7f2"/>
<rect x="440.3" y="637.4" width="1.3" height="1.3" fill="#a3c7f2"/>
<rect x="436.1" y="638.2" width="1.3" height="1.3" fill="#a3c7f2"/>
<rect x="450.1" y="630.3" width="1.3" height="1.3" fill="#a3c7f2"/>
<rect x="444.0" y="630.4" width="1.3" height="1.3" fill="#a3c7f2"/>
<rect x="436.3" y="644.9" width="1.3" height="1.3" fill="#a3c7f2"/>
<rect x="438.8" y="628.8" width="1.3" height="1.3" fill="#a3c7f2"/>
<rect x="437.4" y="644.8" width="1.3" height="1.3" fill="#a3c7f2"/>
<rect x="444.2" y="627.8" width="1.3" height="1.3" fill="#a3c7f2"/>
<rect x="438.6" y="653.5" width="1.3" height="1.3" fill="#a3c7f2"/>
<rect x="438.5" y="642.6" width="1.3" height="1.3" fill="#a3c7f2"/>
<rect x="441.6" y="648.5" width="1.3" height="1.3" fill="#a3c7f2"/>
<rect x="444.5" y="648.7" width="1.3" height="1.3" fill="#a3c7f2"/>
<rect x="443.4" y="632.5" width="1.3" height="1.3" fill="#a3c7f2"/>
<rect x="437.8" y="629.6" width="1.3" height="1.3" fill="#a3c7f2"/>
<rect x="448.0" y="630.5" width="1.3" height="1.3" fill="#a3c7f2"/>
<rect x="435.4" y="653.5" width="1.3" height="1.3" fill="#a3c7f2"/>
<rect x="438.1" y="651.5" width="1.3" height="1.3" fill="#a3c7f2"/>
<rect x="436.3" y="640.0" width="1.3" height="1.3" fill="#a3c7f2"/>
<rect x="438.5" y="649.8" width="1.3" height="1.3" fill="#a3c7f2"/>
<rect x="444.7" y="644.7" width="1.3" height="1.3" fill="#a3c7f2"/>
<rect x="447.0" y="650.9" width="1.3" height="1.3" fill="#a3c7f2"/>
<rect x="440.5" y="643.7" width="1.3" height="1.3" fill="#a3c7f2"/>
<rect x="442.0" y="630.4" width="1.3" height="1.3" fill="#a3c7f2"/>
<rect x="448.2" y="643.5" width="1.3" height="1.3" fill="#a3c7f2"/>
<rect x="447.9" y="633.0" width="1.3" height="1.3" fill="#a3c7f2"/>
<rect x="443.5" y="639.9" width="1.3" height="1.3" fill="#a3c7f2"/>
<rect x="446.5" y="629.5" width="1.3" height="1.3" fill="#a3c7f2"/>
<rect x="440.5" y="640.5" width="1.3" height="1.3" fill="#a3c7f2"/>
<rect x="436.1" y="642.3" width="1.3" height="1.3" fill="#a3c7f2"/>
<rect x="446.6" y="638.8" width="1.3" height="1.3" fill="#a3c7f2"/>
<rect x="445.2" y="643.8" width="1.3" height="1.3" fill="#a3c7f2"/>
<rect x="438.4" y="636.9" width="1.3" height="1.3" fill="#a3c7f2"/>
<rect x="450.7" y="636.5" width="1.3" height="1.3" fill="#a3c7f2"/>
<rect x="441.8" y="629.7" width="1.3" height="1.3" fill="#a3c7f2"/>
<rect x="438.4" y="631.9" width="1.3" height="1.3" fill="#a3c7f2"/>
<rect x="449.7" y="647.0" width="1.3" height="1.3" fill="#a3c7f2"/>
<rect x="448.8" y="654.0" width="1.3" height="1.3" fill="#a3c7f2"/>
<rect x="444.7" y="652.5" width="1.3" height="1.3" fill="#a3c7f2"/>
<rect x="443.5" y="638.7" width="1.3" height="1.3" fill="#a3c7f2"/>
<rect x="450.0" y="651.8" width="1.3" height="1.3" fill="#a3c7f2"/>
<rect x="450.0" y="640.5" width="1.3" height="1.3" fill="#a3c7f2"/>
<rect x="447.2" y="638.4" width="1.3" height="1.3" fill="#a3c7f2"/>
<rect x="450.8" y="652.2" width="1.3" height="1.3" fill="#a3c7f2"/>
<rect x="439.6" y="652.6" width="1.3" height="1.3" fill="#a3c7f2"/>
<rect x="437.9" y="630.0" width="1.3" height="1.3" fill="#a3c7f2"/>
<rect x="446.4" y="635.4" width="1.3" height="1.3" fill="#a3c7f2"/>
<rect x="443.2" y="644.7" width="1.3" height="1.3" fill="#a3c7f2"/>
<rect x="435.6" y="647.5" width="1.3" height="1.3" fill="#a3c7f2"/>
<rect x="439.3" y="639.1" width="1.3" height="1.3" fill="#a3c7f2"/>
<rect x="440.4" y="647.4" width="1.3" height="1.3" fill="#a3c7f2"/>
<rect x="446.8" y="635.2" width="1.3" height="1.3" fill="#a3c7f2"/>
<rect x="436.6" y="635.5" width="1.3" height="1.3" fill="#a3c7f2"/>
<rect x="441.5" y="629.5" width="1.3" height="1.3" fill="#a3c7f2"/>
<rect x="437.4" y="648.0" width="1.3" height="1.3" fill="#a3c7f2"/>
<rect x="446.1" y="653.7" width="1.3" height="1.3" fill="#a3c7f2"/>
<rect x="450.5" y="651.0" width="1.3" height="1.3" fill="#a3c7f2"/>
<rect x="430.0" y="648.0" width="1.3" height="1.3" fill="#a3c7f2"/>
<rect x="429.6" y="649.1" width="1.3" height="1.3" fill="#a3c7f2"/>
<rect x="429.9" y="650.1" width="1.3" height="1.3" fill="#a3c7f2"/>
<rect x="430.2" y="651.1" width="1.3" height="1.3" fill="#a3c7f2"/>
<rect x="430.3" y="652.1" width="1.3" height="1.3" fill="#a3c7f2"/>
<rect x="430.4" y="653.1" width="1.3" height="1.3" fill="#a3c7f2"/>
<rect x="430.1" y="654.1" width="1.3" height="1.3" fill="#a3c7f2"/>
<rect x="431.1" y="655.1" width="1.3" height="1.3" fill="#a3c7f2"/>
<rect x="430.1" y="656.2" width="1.3" height="1.3" fill="#a3c7f2"/>
<rect x="430.5" y="657.2" width="1.3" height="1.3" fill="#a3c7f2"/>
<rect x="431.4" y="658.2" width="1.3" height="1.3" fill="#a3c7f2"/>
<rect x="431.3" y="659.2" width="1.3" height="1.3" fill="#a3c7f2"/>
<rect x="430.4" y="660.2" width="1.3" height="1.3" fill="#a3c7f2"/>
<rect x="430.4" y="661.2" width="1.3" height="1.3" fill="#a3c7f2"/>
<rect x="431.6" y="662.2" width="1.3" height="1.3" fill="#a3c7f2"/>
<rect x="430.2" y="663.3" width="1.3" height="1.3" fill="#a3c7f2"/>
<rect x="430.6" y="664.3" width="1.3" height="1.3" fill="#a3c7f2"/>
<rect x="431.5" y="665.3" width="1.3" height="1.3" fill="#a3c7f2"/>
<rect x="431.6" y="666.3" width="1.3" height="1.3" fill="#a3c7f2"/>
<rect x="431.1" y="667.3" width="1.3" height="1.3" fill="#a3c7f2"/>
<rect x="431.0" y="668.3" width="1.3" height="1.3" fill="#a3c7f2"/>
<rect x="431.5" y="669.3" width="1.3" height="1.3" fill="#a3c7f2"/>
<rect x="432.8" y="670.4" width="1.3" height="1.3" fill="#a3c7f2"/>
<rect x="432.4" y="671.4" width="1.3" height="1.3" fill="#a3c7f2"/>
<rect x="433.5" y="672.4" width="1.3" height="1.3" fill="#a3c7f2"/>
<rect x="433.4" y="673.4" width="1.3" height="1.3" fill="#a3c7f2"/>
<rect x="434.0" y="674.4" width="1.3" height="1.3" fill="#a3c7f2"/>
<rect x="432.4" y="675.4" width="1.3" height="1.3" fill="#a3c7f2"/>
<rect x="432.9" y="676.4" width="1.3" height="1.3" fill="#a3c7f2"/>
<rect x="432.8" y="677.5" width="1.3" height="1.3" fill="#a3c7f2"/>
<rect x="433.8" y="678.5" width="1.3" height="1.3" fill="#a3c7f2"/>
<rect x="433.9" y="679.5" width="1.3" height="1.3" fill="#a3c7f2"/>
<rect x="433.6" y="680.5" width="1.3" height="1.3" fill="#a3c7f2"/>
<rect x="434.8" y="681.5" width="1.3" height="1.3" fill="#a3c7f2"/>
<rect x="434.3" y="682.5" width="1.3" height="1.3" fill="#a3c7f2"/>
<rect x="435.0" y="683.5" width="1.3" height="1.3" fill="#a3c7f2"/>
<rect x="435.1" y="684.6" width="1.3" height="1.3" fill="#a3c7f2"/>
<rect x="436.5" y="685.6" width="1.3" height="1.3" fill="#a3c7f2"/>
<rect x="436.1" y="686.6" width="1.3" height="1.3" fill="#a3c7f2"/>
<rect x="436.1" y="687.6" width="1.3" height="1.3" fill="#a3c7f2"/>
<rect x="430.5" y="653.9" width="1.3" height="1.3" fill="#a3c7f2"/>
<rect x="434.2" y="660.9" width="1.3" height="1.3" fill="#a3c7f2"/>
<rect x="436.0" y="664.7" width="1.3" height="1.3" fill="#a3c7f2"/>
<rect x="431.8" y="645.6" width="1.3" height="1.3" fill="#a3c7f2"/>
<rect x="435.0" y="664.2" width="1.3" height="1.3" fill="#a3c7f2"/>
<rect x="433.4" y="665.4" width="1.3" height="1.3" fill="#a3c7f2"/>
<rect x="433.7" y="649.7" width="1.3" height="1.3" fill="#a3c7f2"/>
<rect x="431.3" y="642.2" width="1.3" height="1.3" fill="#a3c7f2"/>
<rect x="434.3" y="667.3" width="1.3" height="1.3" fill="#a3c7f2"/>
<rect x="436.0" y="655.0" width="1.3" height="1.3" fill="#a3c7f2"/>
<rect x="434.4" y="668.2" width="1.3" height="1.3" fill="#a3c7f2"/>
<rect x="435.4" y="658.9" width="1.3" height="1.3" fill="#a3c7f2"/>
<rect x="432.9" y="656.5" width="1.3" height="1.3" fill="#a3c7f2"/>
<rect x="431.3" y="646.9" width="1.3" height="1.3" fill="#a3c7f2"/>
<rect x="434.6" y="670.0" width="1.3" height="1.3" fill="#a3c7f2"/>
<rect x="466.5" y="649.6" width="1.3" height="1.3" fill="#a3c7f2"/>
<rect x="460.4" y="651.2" width="1.3" height="1.3" fill="#a3c7f2"/>
<rect x="474.6" y="651.1" width="1.3" height="1.3" fill="#a3c7f2"/>
<rect x="479.6" y="640.8" width="1.3" height="1.3" fill="#a3c7f2"/>
<rect x="459.2" y="653.5" width="1.3" height="1.3" fill="#a3c7f2"/>
<rect x="462.3" y="665.0" width="1.3" height="1.3" fill="#a3c7f2"/>
<rect x="475.4" y="667.8" width="1.3" height="1.3" fill="#a3c7f2"/>
<rect x="468.6" y="636.4" width="1.3" height="1.3" fill="#a3c7f2"/>
<rect x="467.4" y="654.5" width="1.3" height="1.3" fill="#a3c7f2"/>
<rect x="464.7" y="645.1" width="1.3" height="1.3" fill="#a3c7f2"/>
<rect x="471.7" y="667.1" width="1.3" height="1.3" fill="#a3c7f2"/>
<rect x="452.5" y="658.7" width="1.3" height="1.3" fill="#a3c7f2"/>
<rect x="461.0" y="653.3" width="1.3" height="1.3" fill="#a3c7f2"/>
<rect x="477.6" y="668.8" width="1.3" height="1.3" fill="#a3c7f2"/>
<rect x="469.6" y="642.2" width="1.3" height="1.3" fill="#a3c7f2"/>
<rect x="478.4" y="641.7" width="1.3" height="1.3" fill="#a3c7f2"/>
<rect x="461.4" y="664.2" width="1.3" height="1.3" fill="#a3c7f2"/>
<rect x="459.2" y="644.8" width="1.3" height="1.3" fill="#a3c7f2"/>
<rect x="479.3" y="668.2" width="1.3" height="1.3" fill="#a3c7f2"/>
<rect x="459.3" y="649.0" width="1.3" height="1.3" fill="#a3c7f2"/>
<rect x="458.1" y="640.0" width="1.3" height="1.3" fill="#a3c7f2"/>
<rect x="457.1" y="669.5" width="1.3" height="1.3" fill="#a3c7f2"/>
<rect x="451.7" y="643.4" width="1.3" height="1.3" fill="#a3c7f2"/>
<rect x="455.6" y="638.1" width="1.3" height="1.3" fill="#a3c7f2"/>
<rect x="465.9" y="661.2" width="1.3" height="1.3" fill="#a3c7f2"/>
<rect x="475.8" y="657.3" width="1.3" height="1.3" fill="#a3c7f2"/>
<rect x="475.1" y="635.6" width="1.3" height="1.3" fill="#a3c7f2"/>
<rect x="458.2" y="668.8" width="1.3" height="1.3" fill="#a3c7f2"/>
<rect x="451.4" y="644.7" width="1.3" height="1.3" fill="#a3c7f2"/>
<rect x="464.5" y="644.7" width="1.3" height="1.3" fill="#a3c7f2"/>
<rect x="466.5" y="637.0" width="1.3" height="1.3" fill="#a3c7f2"/>
<rect x="456.7" y="668.7" width="1.3" height="1.3" fill="#a3c7f2"/>
<rect x="453.8" y="666.9" width="1.3" height="1.3" fill="#a3c7f2"/>
<rect x="454.9" y="669.9" width="1.3" height="1.3" fill="#a3c7f2"/>
<rect x="470.6" y="657.9" width="1.3" height="1.3" fill="#a3c7f2"/>
<rect x="453.7" y="637.3" width="1.3" height="1.3" fill="#a3c7f2"/>
<rect x="473.3" y="641.5" width="1.3" height="1.3" fill="#a3c7f2"/>
<rect x="455.2" y="664.0" width="1.3" height="1.3" fill="#a3c7f2"/>
<rect x="476.9" y="637.1" width="1.3" height="1.3" fill="#a3c7f2"/>
<rect x="479.6" y="654.0" width="1.3" height="1.3" fill="#a3c7f2"/>
<rect x="461.3" y="639.1" width="1.3" height="1.3" fill="#a3c7f2"/>
<rect x="461.6" y="669.8" width="1.3" height="1.3" fill="#a3c7f2"/>
<rect x="458.1" y="639.9" width="1.3" height="1.3" fill="#a3c7f2"/>
<rect x="453.8" y="639.8" width="1.3" height="1.3" fill="#a3c7f2"/>
<rect x="460.4" y="667.2" width="1.3" height="1.3" fill="#a3c7f2"/>
<rect x="451.7" y="642.1" width="1.3" height="1.3" fill="#a3c7f2"/>
<rect x="479.0" y="670.1" width="1.3" height="1.3" fill="#a3c7f2"/>
<rect x="480.2" y="643.9" width="1.3" height="1.3" fill="#a3c7f2"/>
<rect x="460.4" y="668.5" width="1.3" height="1.3" fill="#a3c7f2"/>
<rect x="464.6" y="659.9" width="1.3" height="1.3" fill="#a3c7f2"/>
<rect x="459.1" y="636.1" width="1.3" height="1.3" fill="#a3c7f2"/>
<rect x="460.2" y="661.4" width="1.3" height="1.3" fill="#a3c7f2"/>
<rect x="474.0" y="655.2" width="1.3" height="1.3" fill="#a3c7f2"/>
<rect x="463.9" y="654.1" width="1.3" height="1.3" fill="#a3c7f2"/>
<rect x="463.2" y="654.0" width="1.3" height="1.3" fill="#a3c7f2"/>
<rect x="475.6" y="642.4" width="1.3" height="1.3" fill="#a3c7f2"/>
<rect x="468.0" y="667.9" width="1.3" height="1.3" fill="#a3c7f2"/>
<rect x="476.1" y="641.6" width="1.3" height="1.3" fill="#a3c7f2"/>
<rect x="479.7" y="664.6" width="1.3" height="1.3" fill="#a3c7f2"/>
<rect x="454.5" y="644.6" width="1.3" height="1.3" fill="#a3c7f2"/>
<rect x="455.6" y="637.2" width="1.3" height="1.3" fill="#a3c7f2"/>
<rect x="480.2" y="649.6" width="1.3" height="1.3" fill="#a3c7f2"/>
<rect x="476.8" y="639.4" width="1.3" height="1.3" fill="#a3c7f2"/>
<rect x="449.7" y="665.7" width="1.3" height="1.3" fill="#a3c7f2"/>
<rect x="474.4" y="669.9" width="1.3" height="1.3" fill="#a3c7f2"/>
<rect x="472.9" y="664.2" width="1.3" height="1.3" fill="#a3c7f2"/>
<rect x="475.0" y="658.7" width="1.3" height="1.3" fill="#a3c7f2"/>
<rect x="469.2" y="663.1" width="1.3" height="1.3" fill="#a3c7f2"/>
<rect x="459.3" y="665.1" width="1.3" height="1.3" fill="#a3c7f2"/>
<rect x="463.7" y="663.9" width="1.3" height="1.3" fill="#a3c7f2"/>
<rect x="465.0" y="661.6" width="1.3" height="1.3" fill="#a3c7f2"/>
<rect x="464.6" y="665.1" width="1.3" height="1.3" fill="#a3c7f2"/>
<rect x="480.4" y="669.4" width="1.3" height="1.3" fill="#a3c7f2"/>
<rect x="477.4" y="668.1" width="1.3" height="1.3" fill="#a3c7f2"/>
<rect x="462.8" y="669.9" width="1.3" height="1.3" fill="#a3c7f2"/>
<rect x="462.4" y="659.1" width="1.3" height="1.3" fill="#a3c7f2"/>
<rect x="468.2" y="666.8" width="1.3" height="1.3" fill="#a3c7f2"/>
<rect x="464.2" y="665.7" width="1.3" height="1.3" fill="#a3c7f2"/>
<rect x="462.7" y="669.8" width="1.3" height="1.3" fill="#a3c7f2"/>
<rect x="467.0" y="663.6" width="1.3" height="1.3" fill="#a3c7f2"/>
<rect x="469.0" y="668.6" width="1.3" height="1.3" fill="#a3c7f2"/>
<rect x="480.5" y="664.2" width="1.3" height="1.3" fill="#a3c7f2"/>
<rect x="466.7" y="665.4" width="1.3" height="1.3" fill="#a3c7f2"/>
<rect x="457.3" y="662.9" width="1.3" height="1.3" fill="#a3c7f2"/>
<rect x="477.0" y="667.4" width="1.3" height="1.3" fill="#a3c7f2"/>
<rect x="457.1" y="668.4" width="1.3" height="1.3" fill="#a3c7f2"/>
<rect x="465.3" y="670.0" width="1.3" height="1.3" fill="#a3c7f2"/>
<rect x="464.8" y="660.3" width="1.3" height="1.3" fill="#a3c7f2"/>
<rect x="469.4" y="668.7" width="1.3" height="1.3" fill="#a3c7f2"/>
<rect x="466.5" y="668.5" width="1.3" height="1.3" fill="#a3c7f2"/>
<rect x="473.6" y="662.1" width="1.3" height="1.3" fill="#a3c7f2"/>
<rect x="463.2" y="663.9" width="1.3" height="1.3" fill="#a3c7f2"/>
<rect x="465.7" y="662.2" width="1.3" height="1.3" fill="#a3c7f2"/>
<rect x="472.1" y="668.6" width="1.3" height="1.3" fill="#a3c7f2"/>
<rect x="470.4" y="659.4" width="1.3" height="1.3" fill="#a3c7f2"/>
<rect x="461.1" y="662.2" width="1.3" height="1.3" fill="#a3c7f2"/>
<rect x="471.1" y="659.3" width="1.3" height="1.3" fill="#a3c7f2"/>
<rect x="457.6" y="661.6" width="1.3" height="1.3" fill="#a3c7f2"/>
<rect x="462.7" y="657.9" width="1.3" height="1.3" fill="#a3c7f2"/>
<rect x="469.2" y="669.2" width="1.3" height="1.3" fill="#a3c7f2"/>
<rect x="469.1" y="666.9" width="1.3" height="1.3" fill="#a3c7f2"/>
<rect x="476.5" y="668.1" width="1.3" height="1.3" fill="#a3c7f2"/>
<rect x="478.7" y="663.1" width="1.3" height="1.3" fill="#a3c7f2"/>
<rect x="472.8" y="659.1" width="1.3" height="1.3" fill="#a3c7f2"/>
<rect x="477.8" y="662.3" width="1.3" height="1.3" fill="#a3c7f2"/>
<rect x="467.6" y="668.8" width="1.3" height="1.3" fill="#a3c7f2"/>
<rect x="462.8" y="659.9" width="1.3" height="1.3" fill="#a3c7f2"/>
<rect x="476.4" y="665.1" width="1.3" height="1.3" fill="#a3c7f2"/>
<rect x="457.7" y="657.9" width="1.3" height="1.3" fill="#a3c7f2"/>
<rect x="464.4" y="657.6" width="1.3" height="1.3" fill="#a3c7f2"/>
<rect x="476.6" y="659.9" width="1.3" height="1.3" fill="#a3c7f2"/>
<rect x="462.5" y="662.5" width="1.3" height="1.3" fill="#a3c7f2"/>
<rect x="468.5" y="663.0" width="1.3" height="1.3" fill="#a3c7f2"/>
<rect x="471.5" y="665.9" width="1.3" height="1.3" fill="#a3c7f2"/>
<rect x="466.6" y="658.8" width="1.3" height="1.3" fill="#a3c7f2"/>
<rect x="480.3" y="666.3" width="1.3" height="1.3" fill="#a3c7f2"/>
<rect x="457.7" y="663.1" width="1.3" height="1.3" fill="#a3c7f2"/>
<rect x="474.6" y="670.1" width="1.3" height="1.3" fill="#a3c7f2"/>
<rect x="457.2" y="657.7" width="1.3" height="1.3" fill="#a3c7f2"/>
<rect x="467.7" y="662.9" width="1.3" height="1.3" fill="#a3c7f2"/>
<rect x="478.2" y="668.0" width="1.3" height="1.3" fill="#a3c7f2"/>
<rect x="463.9" y="662.8" width="1.3" height="1.3" fill="#a3c7f2"/>
<rect x="470.3" y="668.7" width="1.3" height="1.3" fill="#a3c7f2"/>
<rect x="460.7" y="662.5" width="1.3" height="1.3" fill="#a3c7f2"/>
<rect x="457.8" y="665.7" width="1.3" height="1.3" fill="#a3c7f2"/>
<rect x="481.8" y="667.7" width="1.3" height="1.3" fill="#a3c7f2"/>
<rect x="499.1" y="662.5" width="1.3" height="1.3" fill="#a3c7f2"/>
<rect x="483.8" y="657.7" width="1.3" height="1.3" fill="#a3c7f2"/>
<rect x="497.2" y="666.6" width="1.3" height="1.3" fill="#a3c7f2"/>
<rect x="499.6" y="658.4" width="1.3" height="1.3" fill="#a3c7f2"/>
<rect x="515.1" y="663.8" width="1.3" height="1.3" fill="#a3c7f2"/>
<rect x="499.3" y="657.2" width="1.3" height="1.3" fill="#a3c7f2"/>
<rect x="491.3" y="667.2" width="1.3" height="1.3" fill="#a3c7f2"/>
<rect x="485.5" y="661.9" width="1.3" height="1.3" fill="#a3c7f2"/>
<rect x="502.5" y="659.4" width="1.3" height="1.3" fill="#a3c7f2"/>
<rect x="507.6" y="667.3" width="1.3" height="1.3" fill="#a3c7f2"/>
<rect x="510.7" y="664.9" width="1.3" height="1.3" fill="#a3c7f2"/>
<rect x="488.0" y="655.2" width="1.3" height="1.3" fill="#a3c7f2"/>
<rect x="495.9" y="658.8" width="1.3" height="1.3" fill="#a3c7f2"/>
<rect x="487.6" y="666.8" width="1.3" height="1.3" fill="#a3c7f2"/>
<rect x="488.4" y="666.1" width="1.3" height="1.3" fill="#a3c7f2"/>
<rect x="513.5" y="656.1" width="1.3" height="1.3" fill="#a3c7f2"/>
<rect x="512.7" y="660.0" width="1.3" height="1.3" fill="#a3c7f2"/>
<rect x="488.3" y="657.0" width="1.3" height="1.3" fill="#a3c7f2"/>
<rect x="482.2" y="661.5" width="1.3" height="1.3" fill="#a3c7f2"/>
<rect x="494.3" y="666.5" width="1.3" height="1.3" fill="#a3c7f2"/>
<rect x="509.9" y="655.2" width="1.3" height="1.3" fill="#a3c7f2"/>
<rect x="494.9" y="659.9" width="1.3" height="1.3" fill="#a3c7f2"/>
<rect x="487.1" y="657.9" width="1.3" height="1.3" fill="#a3c7f2"/>
<rect x="490.0" y="664.3" width="1.3" height="1.3" fill="#a3c7f2"/>
<rect x="492.7" y="656.0" width="1.3" height="1.3" fill="#a3c7f2"/>
<rect x="488.6" y="660.7" width="1.3" height="1.3" fill="#a3c7f2"/>
<rect x="500.5" y="657.9" width="1.3" height="1.3" fill="#a3c7f2"/>
<rect x="505.2" y="657.4" width="1.3" height="1.3" fill="#a3c7f2"/>
<rect x="504.2" y="663.0" width="1.3" height="1.3" fill="#a3c7f2"/>
<rect x="487.0" y="665.1" width="1.3" height="1.3" fill="#a3c7f2"/>
<rect x="494.6" y="662.1" width="1.3" height="1.3" fill="#a3c7f2"/>
<rect x="501.7" y="663.3" width="1.3" height="1.3" fill="#a3c7f2"/>
<rect x="496.3" y="655.2" width="1.3" height="1.3" fill="#a3c7f2"/>
<rect x="508.3" y="666.6" width="1.3" height="1.3" fill="#a3c7f2"/>
<rect x="497.9" y="662.6" width="1.3" height="1.3" fill="#a3c7f2"/>
<rect x="490.2" y="667.2" width="1.3" height="1.3" fill="#a3c7f2"/>
<rect x="504.8" y="657.5" width="1.3" height="1.3" fill="#a3c7f2"/>
<rect x="509.3" y="668.4" width="1.3" height="1.3" fill="#a3c7f2"/>
<rect x="492.9" y="668.5" width="1.3" height="1.3" fill="#a3c7f2"/>
<rect x="497.7" y="656.9" width="1.3" height="1.3" fill="#a3c7f2"/>
<rect x="505.8" y="659.2" width="1.3" height="1.3" fill="#a3c7f2"/>
<rect x="506.4" y="662.7" width="1.3" height="1.3" fill="#a3c7f2"/>
<rect x="484.6" y="661.9" width="1.3" height="1.3" fill="#a3c7f2"/>
<rect x="510.5" y="661.2" width="1.3" height="1.3" fill="#a3c7f2"/>
<rect x="499.7" y="666.7" width="1.3" height="1.3" fill="#a3c7f2"/>
<rect x="496.4" y="661.4" width="1.3" height="1.3" fill="#a3c7f2"/>
<rect x="501.2" y="666.1" width="1.3" height="1.3" fill="#a3c7f2"/>
<rect x="487.9" y="655.7" width="1.3" height="1.3" fill="#a3c7f2"/>
<rect x="507.4" y="662.2" width="1.3" height="1.3" fill="#a3c7f2"/>
<rect x="491.4" y="667.1" width="1.3" height="1.3" fill="#a3c7f2"/>
<rect x="511.7" y="662.1" width="1.3" height="1.3" fill="#a3c7f2"/>
<rect x="515.3" y="666.3" width="1.3" height="1.3" fill="#a3c7f2"/>
<rect x="506.9" y="658.5" width="1.3" height="1.3" fill="#a3c7f2"/>
<rect x="481.3" y="664.0" width="1.3" height="1.3" fill="#a3c7f2"/>
<rect x="506.5" y="659.4" width="1.3" height="1.3" fill="#a3c7f2"/>
<rect x="497.5" y="662.4" width="1.3" height="1.3" fill="#a3c7f2"/>
<rect x="489.6" y="664.3" width="1.3" height="1.3" fill="#a3c7f2"/>
<rect x="500.5" y="659.9" width="1.3" height="1.3" fill="#a3c7f2"/>
<rect x="484.7" y="662.3" width="1.3" height="1.3" fill="#a3c7f2"/>
<rect x="492.0" y="664.7" width="1.3" height="1.3" fill="#a3c7f2"/>
<rect x="486.9" y="660.0" width="1.3" height="1.3" fill="#a3c7f2"/>
<rect x="487.7" y="660.2" width="1.3" height="1.3" fill="#a3c7f2"/>
<rect x="500.9" y="655.9" width="1.3" height="1.3" fill="#a3c7f2"/>
<rect x="482.8" y="661.2" width="1.3" height="1.3" fill="#a3c7f2"/>
<rect x="487.9" y="661.6" width="1.3" height="1.3" fill="#a3c7f2"/>
<rect x="486.7" y="655.8" width="1.3" height="1.3" fill="#a3c7f2"/>
<rect x="499.6" y="667.5" width="1.3" height="1.3" fill="#a3c7f2"/>
<rect x="511.1" y="661.7" width="1.3" height="1.3" fill="#a3c7f2"/>
<rect x="494.7" y="655.3" width="1.3" height="1.3" fill="#a3c7f2"/>
<rect x="490.5" y="658.8" width="1.3" height="1.3" fill="#a3c7f2"/>
<rect x="513.7" y="656.0" width="1.3" height="1.3" fill="#a3c7f2"/>
<rect x="513.9" y="661.2" width="1.3" height="1.3" fill="#a3c7f2"/>
<rect x="496.0" y="658.1" width="1.3" height="1.3" fill="#a3c7f2"/>
<rect x="514.4" y="657.0" width="1.3" height="1.3" fill="#a3c7f2"/>
<rect x="500.8" y="646.7" width="1.3" height="1.3" fill="#a3c7f2"/>
<rect x="487.8" y="640.3" width="1.3" height="1.3" fill="#a3c7f2"/>
<rect x="515.2" y="652.9" width="1.3" height="1.3" fill="#a3c7f2"/>
<rect x="506.4" y="655.4" width="1.3" height="1.3" fill="#a3c7f2"/>
<rect x="484.3" y="651.0" width="1.3" height="1.3" fill="#a3c7f2"/>
<rect x="507.0" y="640.4" width="1.3" height="1.3" fill="#a3c7f2"/>
<rect x="496.8" y="657.0" width="1.3" height="1.3" fill="#a3c7f2"/>
<rect x="492.3" y="652.3" width="1.3" height="1.3" fill="#a3c7f2"/>
<rect x="486.6" y="650.2" width="1.3" height="1.3" fill="#a3c7f2"/>
<rect x="490.3" y="646.6" width="1.3" height="1.3" fill="#a3c7f2"/>
<rect x="493.8" y="654.7" width="1.3" height="1.3" fill="#a3c7f2"/>
<rect x="506.8" y="646.5" width="1.3" height="1.3" fill="#a3c7f2"/>
<rect x="504.8" y="644.8" width="1.3" height="1.3" fill="#a3c7f2"/>
<rect x="508.9" y="641.1" width="1.3" height="1.3" fill="#a3c7f2"/>
<rect x="499.8" y="648.4" width="1.3" height="1.3" fill="#a3c7f2"/>
<rect x="494.4" y="636.4" width="1.3" height="1.3" fill="#a3c7f2"/>
<rect x="486.8" y="649.6" width="1.3" height="1.3" fill="#a3c7f2"/>
<rect x="488.2" y="652.2" width="1.3" height="1.3" fill="#a3c7f2"/>
<rect x="498.5" y="656.5" width="1.3" height="1.3" fill="#a3c7f2"/>
<rect x="510.4" y="651.5" width="1.3" height="1.3" fill="#a3c7f2"/>
<rect x="493.8" y="636.3" width="1.3" height="1.3" fill="#a3c7f2"/>
<rect x="500.3" y="651.9" width="1.3" height="1.3" fill="#a3c7f2"/>
<rect x="512.9" y="639.9" width="1.3" height="1.3" fill="#a3c7f2"/>
<rect x="486.4" y="657.1" width="1.3" height="1.3" fill="#a3c7f2"/>
<rect x="506.6" y="646.1" width="1.3" height="1.3" fill="#a3c7f2"/>
<rect x="506.6" y="638.7" width="1.3" height="1.3" fill="#a3c7f2"/>
<rect x="499.8" y="650.2" width="1.3" height="1.3" fill="#a3c7f2"/>
<rect x="501.9" y="638.9" width="1.3" height="1.3" fill="#a3c7f2"/>
<rect x="485.6" y="649.2" width="1.3" height="1.3" fill="#a3c7f2"/>
<rect x="511.7" y="638.4" width="1.3" height="1.3" fill="#a3c7f2"/>
<rect x="481.1" y="637.2" width="1.3" height="1.3" fill="#a3c7f2"/>
<rect x="508.2" y="644.0" width="1.3" height="1.3" fill="#a3c7f2"/>
<rect x="496.7" y="657.4" width="1.3" height="1.3" fill="#a3c7f2"/>
<rect x="502.2" y="641.2" width="1.3" height="1.3" fill="#a3c7f2"/>
<rect x="505.3" y="635.4" width="1.3" height="1.3" fill="#a3c7f2"/>
<rect x="522.4" y="663.5" width="1.3" height="1.3" fill="#a3c7f2"/>
<rect x="519.8" y="648.8" width="1.3" height="1.3" fill="#a3c7f2"/>
<rect x="528.0" y="655.3" width="1.3" height="1.3" fill="#a3c7f2"/>
<rect x="538.8" y="650.3" width="1.3" height="1.3" fill="#a3c7f2"/>
<rect x="534.7" y="656.6" width="1.3" height="1.3" fill="#a3c7f2"/>
<rect x="534.8" y="657.9" width="1.3" height="1.3" fill="#a3c7f2"/>
<rect x="531.5" y="655.3" width="1.3" height="1.3" fill="#a3c7f2"/>
<rect x="521.0" y="658.1" width="1.3" height="1.3" fill="#a3c7f2"/>
<rect x="534.7" y="655.7" width="1.3" height="1.3" fill="#a3c7f2"/>
<rect x="521.2" y="657.3" width="1.3" height="1.3" fill="#a3c7f2"/>
<rect x="518.0" y="655.0" width="1.3" height="1.3" fill="#a3c7f2"/>
<rect x="529.3" y="660.1" width="1.3" height="1.3" fill="#a3c7f2"/>
<rect x="529.9" y="654.5" width="1.3" height="1.3" fill="#a3c7f2"/>
<rect x="516.3" y="648.6" width="1.3" height="1.3" fill="#a3c7f2"/>
<rect x="523.7" y="652.4" width="1.3" height="1.3" fill="#a3c7f2"/>
<rect x="529.2" y="653.9" width="1.3" height="1.3" fill="#a3c7f2"/>
<rect x="533.8" y="661.4" width="1.3" height="1.3" fill="#a3c7f2"/>
<rect x="531.4" y="664.3" width="1.3" height="1.3" fill="#a3c7f2"/>
<rect x="528.1" y="657.5" width="1.3" height="1.3" fill="#a3c7f2"/>
<rect x="523.0" y="649.4" width="1.3" height="1.3" fill="#a3c7f2"/>
<rect x="534.6" y="659.1" width="1.3" height="1.3" fill="#a3c7f2"/>
<rect x="518.1" y="668.6" width="1.3" height="1.3" fill="#a3c7f2"/>
<rect x="529.5" y="661.9" width="1.3" height="1.3" fill="#a3c7f2"/>
<rect x="526.1" y="650.8" width="1.3" height="1.3" fill="#a3c7f2"/>
<rect x="539.4" y="651.8" width="1.3" height="1.3" fill="#a3c7f2"/>
<rect x="524.4" y="670.2" width="1.3" height="1.3" fill="#a3c7f2"/>
<rect x="518.6" y="659.1" width="1.3" height="1.3" fill="#a3c7f2"/>
<rect x="527.1" y="653.5" width="1.3" height="1.3" fill="#a3c7f2"/>
<rect x="537.6" y="657.2" width="1.3" height="1.3" fill="#a3c7f2"/>
<rect x="516.0" y="658.5" width="1.3" height="1.3" fill="#a3c7f2"/>
<rect x="515.8" y="663.7" width="1.3" height="1.3" fill="#a3c7f2"/>
<rect x="536.3" y="668.1" width="1.3" height="1.3" fill="#a3c7f2"/>
<rect x="516.8" y="663.0" width="1.3" height="1.3" fill="#a3c7f2"/>
<rect x="522.9" y="658.5" width="1.3" height="1.3" fill="#a3c7f2"/>
<rect x="522.8" y="654.8" width="1.3" height="1.3" fill="#a3c7f2"/>
<rect x="518.8" y="661.9" width="1.3" height="1.3" fill="#a3c7f2"/>
<rect x="517.8" y="669.4" width="1.3" height="1.3" fill="#a3c7f2"/>
<rect x="516.7" y="669.4" width="1.3" height="1.3" fill="#a3c7f2"/>
<rect x="520.2" y="649.9" width="1.3" height="1.3" fill="#a3c7f2"/>
<rect x="533.4" y="659.8" width="1.3" height="1.3" fill="#a3c7f2"/>
<rect x="534.0" y="659.3" width="1.3" height="1.3" fill="#a3c7f2"/>
<rect x="530.7" y="649.9" width="1.3" height="1.3" fill="#a3c7f2"/>
<rect x="531.7" y="659.4" width="1.3" height="1.3" fill="#a3c7f2"/>
<rect x="538.5" y="648.2" width="1.3" height="1.3" fill="#a3c7f2"/>
<rect x="517.3" y="663.0" width="1.3" height="1.3" fill="#a3c7f2"/>
<rect x="537.7" y="657.4" width="1.3" height="1.3" fill="#a3c7f2"/>
<rect x="532.6" y="660.5" width="1.3" height="1.3" fill="#a3c7f2"/>
<rect x="525.0" y="658.3" width="1.3" height="1.3" fill="#a3c7f2"/>
<rect x="530.0" y="648.7" width="1.3" height="1.3" fill="#a3c7f2"/>
<rect x="523.0" y="664.4" width="1.3" height="1.3" fill="#a3c7f2"/>
<rect x="521.8" y="658.5" width="1.3" height="1.3" fill="#a3c7f2"/>
<rect x="521.8" y="656.0" width="1.3" height="1.3" fill="#a3c7f2"/>
<rect x="531.1" y="664.5" width="1.3" height="1.3" fill="#a3c7f2"/>
<rect x="538.4" y="658.6" width="1.3" height="1.3" fill="#a3c7f2"/>
<rect x="520.5" y="655.5" width="1.3" height="1.3" fill="#a3c7f2"/>
<rect x="517.1" y="653.3" width="1.3" height="1.3" fill="#a3c7f2"/>
<rect x="529.6" y="661.6" width="1.3" height="1.3" fill="#a3c7f2"/>
<rect x="521.4" y="652.1" width="1.3" height="1.3" fill="#a3c7f2"/>
<rect x="518.0" y="652.0" width="1.3" height="1.3" fill="#a3c7f2"/>
<rect x="527.6" y="653.7" width="1.3" height="1.3" fill="#a3c7f2"/>
<rect x="536.7" y="660.6" width="1.3" height="1.3" fill="#a3c7f2"/>
<rect x="523.8" y="657.6" width="1.3" height="1.3" fill="#a3c7f2"/>
<rect x="516.6" y="664.3" width="1.3" height="1.3" fill="#a3c7f2"/>
<rect x="533.5" y="656.1" width="1.3" height="1.3" fill="#a3c7f2"/>
<rect x="532.9" y="654.1" width="1.3" height="1.3" fill="#a3c7f2"/>
<rect x="522.0" y="632.2" width="1.3" height="1.3" fill="#a3c7f2"/>
<rect x="521.3" y="639.9" width="1.3" height="1.3" fill="#a3c7f2"/>
<rect x="534.0" y="642.4" width="1.3" height="1.3" fill="#a3c7f2"/>
<rect x="518.7" y="643.2" width="1.3" height="1.3" fill="#a3c7f2"/>
<rect x="529.3" y="635.2" width="1.3" height="1.3" fill="#a3c7f2"/>
<rect x="530.0" y="636.4" width="1.3" height="1.3" fill="#a3c7f2"/>
<rect x="521.4" y="635.6" width="1.3" height="1.3" fill="#a3c7f2"/>
<rect x="534.1" y="642.2" width="1.3" height="1.3" fill="#a3c7f2"/>
<rect x="541.8" y="631.5" width="1.3" height="1.3" fill="#a3c7f2"/>
<rect x="541.1" y="643.9" width="1.3" height="1.3" fill="#a3c7f2"/>
<rect x="536.0" y="647.6" width="1.3" height="1.3" fill="#a3c7f2"/>
<rect x="519.6" y="643.4" width="1.3" height="1.3" fill="#a3c7f2"/>
<rect x="541.3" y="630.0" width="1.3" height="1.3" fill="#a3c7f2"/>
<rect x="532.6" y="646.9" width="1.3" height="1.3" fill="#a3c7f2"/>
<rect x="524.0" y="645.1" width="1.3" height="1.3" fill="#a3c7f2"/>
<rect x="541.5" y="636.4" width="1.3" height="1.3" fill="#a3c7f2"/>
<rect x="519.8" y="631.9" width="1.3" height="1.3" fill="#a3c7f2"/>
<rect x="539.3" y="636.1" width="1.3" height="1.3" fill="#a3c7f2"/>
<rect x="524.7" y="636.6" width="1.3" height="1.3" fill="#a3c7f2"/>
<rect x="542.1" y="632.7" width="1.3" height="1.3" fill="#a3c7f2"/>
<rect x="516.2" y="647.0" width="1.3" height="1.3" fill="#a3c7f2"/>
<rect x="524.7" y="635.4" width="1.3" height="1.3" fill="#a3c7f2"/>
<rect x="543.5" y="633.3" width="1.3" height="1.3" fill="#a3c7f2"/>
<rect x="518.1" y="645.7" width="1.3" height="1.3" fill="#a3c7f2"/>
<rect x="522.6" y="632.0" width="1.3" height="1.3" fill="#a3c7f2"/>
<rect x="542.4" y="632.2" width="1.3" height="1.3" fill="#a3c7f2"/>
<rect x="541.4" y="634.3" width="1.3" height="1.3" fill="#a3c7f2"/>
<rect x="524.3" y="631.9" width="1.3" height="1.3" fill="#a3c7f2"/>
<rect x="531.1" y="639.0" width="1.3" height="1.3" fill="#a3c7f2"/>
<rect x="527.0" y="637.9" width="1.3" height="1.3" fill="#a3c7f2"/>
<rect x="543.5" y="643.4" width="1.3" height="1.3" fill="#a3c7f2"/>
<rect x="555.6" y="641.0" width="1.3" height="1.3" fill="#a3c7f2"/>
<rect x="553.4" y="621.6" width="1.3" height="1.3" fill="#a3c7f2"/>
<rect x="542.6" y="625.3" width="1.3" height="1.3" fill="#a3c7f2"/>
<rect x="540.8" y="647.1" width="1.3" height="1.3" fill="#a3c7f2"/>
<rect x="555.1" y="645.6" width="1.3" height="1.3" fill="#a3c7f2"/>
<rect x="548.5" y="622.9" width="1.3" height="1.3" fill="#a3c7f2"/>
<rect x="546.0" y="621.1" width="1.3" height="1.3" fill="#a3c7f2"/>
<rect x="555.0" y="627.1" width="1.3" height="1.3" fill="#a3c7f2"/>
<rect x="543.3" y="646.5" width="1.3" height="1.3" fill="#a3c7f2"/>
<rect x="541.7" y="645.8" width="1.3" height="1.3" fill="#a3c7f2"/>
<rect x="543.8" y="638.5" width="1.3" height="1.3" fill="#a3c7f2"/>
<rect x="539.9" y="645.1" width="1.3" height="1.3" fill="#a3c7f2"/>
<rect x="545.4" y="629.4" width="1.3" height="1.3" fill="#a3c7f2"/>
<rect x="550.3" y="636.5" width="1.3" height="1.3" fill="#a3c7f2"/>
<rect x="542.6" y="623.1" width="1.3" height="1.3" fill="#a3c7f2"/>
<rect x="548.8" y="620.2" width="1.3" height="1.3" fill="#a3c7f2"/>
<rect x="554.4" y="629.3" width="1.3" height="1.3" fill="#a3c7f2"/>
<rect x="541.1" y="628.9" width="1.3" height="1.3" fill="#a3c7f2"/>
<rect x="540.0" y="628.6" width="1.3" height="1.3" fill="#a3c7f2"/>
<rect x="548.2" y="631.1" width="1.3" height="1.3" fill="#a3c7f2"/>
<rect x="544.2" y="627.8" width="1.3" height="1.3" fill="#a3c7f2"/>
<rect x="547.1" y="641.7" width="1.3" height="1.3" fill="#a3c7f2"/>
<rect x="546.2" y="641.4" width="1.3" height="1.3" fill="#a3c7f2"/>
<rect x="547.0" y="623.0" width="1.3" height="1.3" fill="#a3c7f2"/>
<rect x="541.1" y="643.7" width="1.3" height="1.3" fill="#a3c7f2"/>
<rect x="547.0" y="630.4" width="1.3" height="1.3" fill="#a3c7f2"/>
<rect x="547.7" y="643.7" width="1.3" height="1.3" fill="#a3c7f2"/>
<rect x="545.0" y="629.8" width="1.3" height="1.3" fill="#a3c7f2"/>
<rect x="544.8" y="619.9" width="1.3" height="1.3" fill="#a3c7f2"/>
<rect x="548.2" y="633.2" width="1.3" height="1.3" fill="#a3c7f2"/>
<rect x="547.3" y="632.4" width="1.3" height="1.3" fill="#a3c7f2"/>
<rect x="546.8" y="639.9" width="1.3" height="1.3" fill="#a3c7f2"/>
<rect x="541.4" y="647.5" width="1.3" height="1.3" fill="#a3c7f2"/>
<rect x="540.0" y="644.2" width="1.3" height="1.3" fill="#a3c7f2"/>
<rect x="541.2" y="642.2" width="1.3" height="1.3" fill="#a3c7f2"/>
<rect x="542.8" y="621.8" width="1.3" height="1.3" fill="#a3c7f2"/>
<rect x="548.1" y="643.4" width="1.3" height="1.3" fill="#a3c7f2"/>
<rect x="553.9" y="644.5" width="1.3" height="1.3" fill="#a3c7f2"/>
<rect x="556.5" y="621.1" width="1.3" height="1.3" fill="#a3c7f2"/>
<rect x="545.1" y="622.6" width="1.3" height="1.3" fill="#a3c7f2"/>
<rect x="552.2" y="632.4" width="1.3" height="1.3" fill="#a3c7f2"/>
<rect x="552.0" y="642.2" width="1.3" height="1.3" fill="#a3c7f2"/>
<rect x="556.8" y="638.8" width="1.3" height="1.3" fill="#a3c7f2"/>
<rect x="554.5" y="635.2" width="1.3" height="1.3" fill="#a3c7f2"/>
<rect x="539.4" y="644.9" width="1.3" height="1.3" fill="#a3c7f2"/>
<rect x="539.6" y="622.0" width="1.3" height="1.3" fill="#a3c7f2"/>
<rect x="553.6" y="627.5" width="1.3" height="1.3" fill="#a3c7f2"/>
<rect x="550.4" y="620.4" width="1.3" height="1.3" fill="#a3c7f2"/>
<rect x="541.9" y="639.9" width="1.3" height="1.3" fill="#a3c7f2"/>
<rect x="538.6" y="634.1" width="1.3" height="1.3" fill="#a3c7f2"/>
<rect x="555.7" y="625.7" width="1.3" height="1.3" fill="#a3c7f2"/>
<rect x="551.2" y="640.7" width="1.3" height="1.3" fill="#a3c7f2"/>
<rect x="549.6" y="641.4" width="1.3" height="1.3" fill="#a3c7f2"/>
<rect x="551.1" y="620.0" width="1.3" height="1.3" fill="#a3c7f2"/>
<rect x="541.5" y="634.8" width="1.3" height="1.3" fill="#a3c7f2"/>
<rect x="556.3" y="625.7" width="1.3" height="1.3" fill="#a3c7f2"/>
<rect x="549.0" y="623.2" width="1.3" height="1.3" fill="#a3c7f2"/>
<rect x="553.9" y="632.2" width="1.3" height="1.3" fill="#a3c7f2"/>
<rect x="547.8" y="638.6" width="1.3" height="1.3" fill="#a3c7f2"/>
<rect x="540.4" y="640.3" width="1.3" height="1.3" fill="#a3c7f2"/>
<rect x="553.0" y="644.0" width="1.3" height="1.3" fill="#a3c7f2"/>
<rect x="543.2" y="626.2" width="1.3" height="1.3" fill="#a3c7f2"/>
<rect x="541.0" y="645.2" width="1.3" height="1.3" fill="#a3c7f2"/>
<rect x="546.2" y="630.7" width="1.3" height="1.3" fill="#a3c7f2"/>
<rect x="547.7" y="639.4" width="1.3" height="1.3" fill="#a3c7f2"/>
<rect x="543.9" y="629.1" width="1.3" height="1.3" fill="#a3c7f2"/>
<rect x="552.4" y="641.7" width="1.3" height="1.3" fill="#a3c7f2"/>
<rect x="543.5" y="621.6" width="1.3" height="1.3" fill="#a3c7f2"/>
<rect x="555.5" y="640.3" width="1.3" height="1.3" fill="#a3c7f2"/>
<rect x="561.1" y="626.4" width="1.3" height="1.3" fill="#a3c7f2"/>
<rect x="563.7" y="627.3" width="1.3" height="1.3" fill="#a3c7f2"/>
<rect x="558.4" y="615.3" width="1.3" height="1.3" fill="#a3c7f2"/>
<rect x="559.4" y="633.5" width="1.3" height="1.3" fill="#a3c7f2"/>
<rect x="559.4" y="646.1" width="1.3" height="1.3" fill="#a3c7f2"/>
<rect x="561.5" y="628.3" width="1.3" height="1.3" fill="#a3c7f2"/>
<rect x="561.6" y="633.5" width="1.3" height="1.3" fill="#a3c7f2"/>
<rect x="561.2" y="629.7" width="1.3" height="1.3" fill="#a3c7f2"/>
<rect x="560.6" y="629.5" width="1.3" height="1.3" fill="#a3c7f2"/>
<rect x="562.8" y="618.6" width="1.3" height="1.3" fill="#a3c7f2"/>
<rect x="562.4" y="622.5" width="1.3" height="1.3" fill="#a3c7f2"/>
<rect x="562.9" y="614.3" width="1.3" height="1.3" fill="#a3c7f2"/>
<rect x="557.8" y="674.7" width="1.3" height="1.3" fill="#a3c7f2"/>
<rect x="558.2" y="660.2" width="1.3" height="1.3" fill="#a3c7f2"/>
<rect x="557.3" y="656.0" width="1.3" height="1.3" fill="#a3c7f2"/>
<rect x="557.9" y="682.7" width="1.3" height="1.3" fill="#a3c7f2"/>
<rect x="556.9" y="658.7" width="1.3" height="1.3" fill="#a3c7f2"/>
<rect x="557.2" y="705.6" width="1.3" height="1.3" fill="#a3c7f2"/>
<rect x="557.7" y="682.1" width="1.3" height="1.3" fill="#a3c7f2"/>
<rect x="557.4" y="687.7" width="1.3" height="1.3" fill="#a3c7f2"/>
<rect x="558.4" y="688.4" width="1.3" height="1.3" fill="#a3c7f2"/>
<rect x="556.9" y="674.5" width="1.3" height="1.3" fill="#a3c7f2"/>
<rect x="557.8" y="650.7" width="1.3" height="1.3" fill="#a3c7f2"/>
<rect x="558.4" y="667.2" width="1.3" height="1.3" fill="#a3c7f2"/>
<rect x="557.4" y="685.6" width="1.3" height="1.3" fill="#a3c7f2"/>
<rect x="558.0" y="677.9" width="1.3" height="1.3" fill="#a3c7f2"/>
<rect x="558.5" y="679.2" width="1.3" height="1.3" fill="#a3c7f2"/>
<rect x="557.5" y="651.9" width="1.3" height="1.3" fill="#a3c7f2"/>
<rect x="557.9" y="669.9" width="1.3" height="1.3" fill="#a3c7f2"/>
<rect x="557.9" y="668.9" width="1.3" height="1.3" fill="#a3c7f2"/>
<rect x="556.9" y="650.3" width="1.3" height="1.3" fill="#a3c7f2"/>
<rect x="557.2" y="653.7" width="1.3" height="1.3" fill="#a3c7f2"/>
<rect x="558.5" y="683.0" width="1.3" height="1.3" fill="#a3c7f2"/>
<rect x="557.3" y="690.8" width="1.3" height="1.3" fill="#a3c7f2"/>
<rect x="558.1" y="651.8" width="1.3" height="1.3" fill="#a3c7f2"/>
<rect x="558.3" y="661.8" width="1.3" height="1.3" fill="#a3c7f2"/>
<rect x="558.7" y="656.6" width="1.3" height="1.3" fill="#a3c7f2"/>
<rect x="438.0" y="610.7" width="1.5" height="1.5" fill="#a3c7f2"/>
<rect x="440.4" y="613.1" width="1.5" height="1.5" fill="#a3c7f2"/>
<rect x="436.5" y="617.9" width="1.5" height="1.5" fill="#a3c7f2"/>
<rect x="443.6" y="617.5" width="1.5" height="1.5" fill="#a3c7f2"/>
<rect x="434.9" y="625.8" width="1.5" height="1.5" fill="#a3c7f2"/>
<rect x="500.6" y="568.8" width="1.5" height="1.5" fill="#a3c7f2"/>
<rect x="501.8" y="597.3" width="1.5" height="1.5" fill="#a3c7f2"/>
<rect x="499.8" y="609.9" width="1.5" height="1.5" fill="#a3c7f2"/>
<rect x="494.2" y="615.5" width="1.5" height="1.5" fill="#a3c7f2"/>
<rect x="505.3" y="609.9" width="1.5" height="1.5" fill="#a3c7f2"/>
<rect x="548.8" y="609.6" width="1.5" height="1.5" fill="#a3c7f2"/>
<rect x="553.6" y="613.1" width="1.5" height="1.5" fill="#a3c7f2"/>
<rect x="558.6" y="614.4" width="1.5" height="1.5" fill="#a3c7f2"/>
<rect x="562.3" y="613.9" width="1.5" height="1.5" fill="#a3c7f2"/>
<rect x="562.3" y="617.5" width="1.5" height="1.5" fill="#a3c7f2"/>
<rect x="538.5" y="620.7" width="1.5" height="1.5" fill="#a3c7f2"/>
<rect x="561.5" y="627.4" width="1.5" height="1.5" fill="#a3c7f2"/>
<rect x="457.0" y="621.8" width="1.5" height="1.5" fill="#a3c7f2"/>
<rect x="466.5" y="624.5" width="1.5" height="1.5" fill="#a3c7f2"/>
<rect x="472.9" y="624.5" width="1.5" height="1.5" fill="#a3c7f2"/>
<rect x="478.4" y="631.3" width="1.5" height="1.5" fill="#a3c7f2"/>
<rect x="456.2" y="632.9" width="1.5" height="1.5" fill="#a3c7f2"/>
<rect x="492.6" y="632.1" width="1.5" height="1.5" fill="#a3c7f2"/>
<rect x="496.6" y="628.9" width="1.5" height="1.5" fill="#a3c7f2"/>
<rect x="511.2" y="628.2" width="1.5" height="1.5" fill="#a3c7f2"/>
<rect x="504.2" y="633.7" width="1.5" height="1.5" fill="#a3c7f2"/>
<rect x="516.9" y="629.7" width="1.5" height="1.5" fill="#a3c7f2"/>
<rect x="430.2" y="722.3" width="133.3" height="1.5" fill="#a3c7f2"/>
<line x1="482.6" y1="566.3" x2="482.6" y2="723.8" stroke="#777" stroke-width="0.7" />
<line x1="516.3" y1="566.3" x2="516.3" y2="723.8" stroke="#777" stroke-width="0.7" />
<line x1="421.1" y1="676.3" x2="578.9" y2="676.3" stroke="#777" stroke-width="0.7" stroke-dasharray="4 1.5"/>
<rect x="421.1" y="566.3" width="157.8" height="157.5" fill="none" stroke="#000" stroke-width="1.8"/>
<line x1="416.1" y1="723.8" x2="421.1" y2="723.8" stroke="#000" stroke-width="1.8" />
<text x="414.5" y="729.1" font-size="15" text-anchor="end" fill="#000" >0</text>
<line x1="416.1" y1="692.3" x2="421.1" y2="692.3" stroke="#000" stroke-width="1.8" />
<text x="414.5" y="697.6" font-size="15" text-anchor="end" fill="#000" >1</text>
<line x1="416.1" y1="660.8" x2="421.1" y2="660.8" stroke="#000" stroke-width="1.8" />
<text x="414.5" y="666.1" font-size="15" text-anchor="end" fill="#000" >2</text>
<line x1="416.1" y1="629.3" x2="421.1" y2="629.3" stroke="#000" stroke-width="1.8" />
<text x="414.5" y="634.6" font-size="15" text-anchor="end" fill="#000" >3</text>
<line x1="416.1" y1="597.8" x2="421.1" y2="597.8" stroke="#000" stroke-width="1.8" />
<text x="414.5" y="603.1" font-size="15" text-anchor="end" fill="#000" >4</text>
<line x1="416.1" y1="566.3" x2="421.1" y2="566.3" stroke="#000" stroke-width="1.8" />
<text x="414.5" y="571.6" font-size="15" text-anchor="end" fill="#000" >5</text>
<line x1="433.5" y1="723.8" x2="433.5" y2="728.8" stroke="#000" stroke-width="1.8" />
<text x="432.0" y="742.2" font-size="15" text-anchor="middle" fill="#000" >-10</text>
<line x1="466.5" y1="723.8" x2="466.5" y2="728.8" stroke="#000" stroke-width="1.8" />
<text x="465.0" y="742.2" font-size="15" text-anchor="middle" fill="#000" >-5</text>
<line x1="499.5" y1="723.8" x2="499.5" y2="728.8" stroke="#000" stroke-width="1.8" />
<text x="499.5" y="742.2" font-size="15" text-anchor="middle" fill="#000" >0</text>
<line x1="532.5" y1="723.8" x2="532.5" y2="728.8" stroke="#000" stroke-width="1.8" />
<text x="532.5" y="742.2" font-size="15" text-anchor="middle" fill="#000" >5</text>
<line x1="565.5" y1="723.8" x2="565.5" y2="728.8" stroke="#000" stroke-width="1.8" />
<text x="565.5" y="742.2" font-size="15" text-anchor="middle" fill="#000" >10</text>
<text x="500.5" y="762.5" font-size="15" text-anchor="middle">log<tspan font-size="9" dy="3">2</tspan><tspan dy="-3"> sgRNA fold change</tspan></text>
<text transform="translate(392.3,645.0) rotate(-90)" font-size="15.2" text-anchor="middle" fill="#000">-log10 p-value</text>
<text x="436.0" y="578.0" font-size="8.7" text-anchor="start" fill="#000" >Negative</text>
<text x="436.0" y="588.2" font-size="8.7" text-anchor="start" fill="#000" >selection</text>
<text x="533.4" y="578.2" font-size="8.7" text-anchor="start" fill="#000" >Positive</text>
<text x="533.4" y="588.5" font-size="8.7" text-anchor="start" fill="#000" >selection</text>
<circle cx="439.6" cy="596" r="3.4" fill="#f0181c"/>
<text x="436.0" y="605.7" font-size="6.8" text-anchor="start" fill="#000" >CDC6</text>
<circle cx="444.2" cy="677.5" r="2.8" fill="#000"/>
<circle cx="446.2" cy="677.8" r="2.2" fill="#000"/>
<text x="438.5" y="687.6" font-size="6.8" text-anchor="start" fill="#000" >TUBB3</text>
<path d="M482.8,694 A3,3 0 0 1 488.8,694 Z" fill="#000"/>
<text x="483.3" y="702.0" font-size="6.8" text-anchor="start" fill="#000" >ABCC1</text>
<text x="626.5" y="536.0" font-size="24" text-anchor="start" fill="#000" >d</text>
<rect x="691.1" y="600.6" width="15.2" height="124.4" fill="#707fc1"/>
<line x1="698.8" y1="725.0" x2="698.8" y2="730.0" stroke="#000" stroke-width="1.6" />
<text transform="translate(703.2,737.0) rotate(-38.5)" font-size="13.7" text-anchor="end" fill="#000">DEFB103A</text>
<rect x="714.0" y="610.2" width="15.2" height="114.8" fill="#e87662"/>
<line x1="721.6" y1="725.0" x2="721.6" y2="730.0" stroke="#000" stroke-width="1.6" />
<text transform="translate(726.1,737.0) rotate(-38.5)" font-size="13.7" text-anchor="end" fill="#000">NDUFB3</text>
<rect x="736.9" y="618.4" width="15.2" height="106.6" fill="#b78bc6"/>
<line x1="744.5" y1="725.0" x2="744.5" y2="730.0" stroke="#000" stroke-width="1.6" />
<text transform="translate(749.0,737.0) rotate(-38.5)" font-size="13.7" text-anchor="end" fill="#000">ACBD5</text>
<rect x="759.7" y="619.5" width="15.2" height="105.5" fill="#f07882"/>
<line x1="767.3" y1="725.0" x2="767.3" y2="730.0" stroke="#000" stroke-width="1.6" />
<text transform="translate(771.8,737.0) rotate(-38.5)" font-size="13.7" text-anchor="end" fill="#f06a78">CDC6</text>
<rect x="782.5" y="624.9" width="15.2" height="100.1" fill="#e88c42"/>
<line x1="790.1" y1="725.0" x2="790.1" y2="730.0" stroke="#000" stroke-width="1.6" />
<text transform="translate(794.6,737.0) rotate(-38.5)" font-size="13.7" text-anchor="end" fill="#000">NSUN6</text>
<rect x="805.4" y="628.5" width="15.2" height="96.5" fill="#9fdacb"/>
<line x1="813.0" y1="725.0" x2="813.0" y2="730.0" stroke="#000" stroke-width="1.6" />
<text transform="translate(817.5,737.0) rotate(-38.5)" font-size="13.7" text-anchor="end" fill="#000">SEZ6L</text>
<rect x="828.2" y="628.9" width="15.2" height="96.1" fill="#beb8df"/>
<line x1="835.9" y1="725.0" x2="835.9" y2="730.0" stroke="#000" stroke-width="1.6" />
<text transform="translate(840.4,737.0) rotate(-38.5)" font-size="13.7" text-anchor="end" fill="#000">DLX5</text>
<rect x="851.1" y="630.0" width="15.2" height="95.0" fill="#86b3d4"/>
<line x1="858.7" y1="725.0" x2="858.7" y2="730.0" stroke="#000" stroke-width="1.6" />
<text transform="translate(863.2,737.0) rotate(-38.5)" font-size="13.7" text-anchor="end" fill="#000">LPHN1</text>
<rect x="873.9" y="631.0" width="15.2" height="94.0" fill="#b9c0fb"/>
<line x1="881.5" y1="725.0" x2="881.5" y2="730.0" stroke="#000" stroke-width="1.6" />
<text transform="translate(886.0,737.0) rotate(-38.5)" font-size="13.7" text-anchor="end" fill="#000">CEP57</text>
<rect x="896.8" y="632.3" width="15.2" height="92.7" fill="#e7c9fb"/>
<line x1="904.4" y1="725.0" x2="904.4" y2="730.0" stroke="#000" stroke-width="1.6" />
<text transform="translate(908.9,737.0) rotate(-38.5)" font-size="13.7" text-anchor="end" fill="#000">KRTAP20-1</text>
<polyline points="682.5,567.5 919.8,567.5 919.8,725 682.5,725 682.5,567.5" fill="none" stroke="#111" stroke-width="1.7"/>
<line x1="677.5" y1="725.0" x2="682.5" y2="725.0" stroke="#000" stroke-width="1.7" />
<text x="676.0" y="729.6" font-size="13" text-anchor="end" fill="#000" >0</text>
<line x1="677.5" y1="680.0" x2="682.5" y2="680.0" stroke="#000" stroke-width="1.7" />
<text x="676.0" y="684.6" font-size="13" text-anchor="end" fill="#000" >2</text>
<line x1="677.5" y1="635.0" x2="682.5" y2="635.0" stroke="#000" stroke-width="1.7" />
<text x="676.0" y="639.6" font-size="13" text-anchor="end" fill="#000" >4</text>
<line x1="677.5" y1="590.0" x2="682.5" y2="590.0" stroke="#000" stroke-width="1.7" />
<text x="676.0" y="594.6" font-size="13" text-anchor="end" fill="#000" >6</text>
<text transform="translate(658.6,649.0) rotate(-90)" font-size="13.2" text-anchor="middle" fill="#000">-log10 (neg|score)</text>
<text x="933.3" y="579.8" font-size="13" text-anchor="start" fill="#6b79c0" >Cell chemotaxis</text>
<text x="933.3" y="596.9" font-size="13" text-anchor="start" fill="#e0694f" >Mitochondrial electron transport</text>
<text x="933.3" y="612.5" font-size="13" text-anchor="start" fill="#b17cc0" >Fatty acid metabolic process</text>
<text x="933.3" y="628.4" font-size="13" text-anchor="start" fill="#eb5f70" >Cell division</text>
<text x="933.3" y="642.8" font-size="13" text-anchor="start" fill="#e27d30" >RNA methylation</text>
<text x="933.3" y="659.9" font-size="13" text-anchor="start" fill="#92d7c1" >Regulation of&#160; protein kinase C signaling</text>
<text x="933.3" y="675.5" font-size="13" text-anchor="start" fill="#bfb8e0" >Cell population proliferation</text>
<text x="933.3" y="693.0" font-size="13" text-anchor="start" fill="#80aed0" >Cell surface receptor signaling pathway</text>
<text x="933.3" y="709.3" font-size="13" text-anchor="start" fill="#b5bdfa" >Microtubule binding</text>
<text x="933.3" y="723.3" font-size="13" text-anchor="start" fill="#e8c6fa" >Intermediate filament</text>
<text x="5.8" y="827.0" font-size="24" text-anchor="start" fill="#000" >e</text>
<polyline points="104,864.4 262.2,864.4 262.2,1022 104,1022 104,864.4" fill="none" stroke="#111" stroke-width="1.8"/>
<line x1="98.4" y1="1022.0" x2="104.0" y2="1022.0" stroke="#000" stroke-width="1.8" />
<text x="97.5" y="1027.3" font-size="14.5" text-anchor="end" fill="#000" >0</text>
<line x1="98.4" y1="969.5" x2="104.0" y2="969.5" stroke="#000" stroke-width="1.8" />
<text x="97.5" y="974.8" font-size="14.5" text-anchor="end" fill="#000" >500</text>
<line x1="98.4" y1="916.9" x2="104.0" y2="916.9" stroke="#000" stroke-width="1.8" />
<text x="97.5" y="922.2" font-size="14.5" text-anchor="end" fill="#000" >1000</text>
<line x1="98.4" y1="864.4" x2="104.0" y2="864.4" stroke="#000" stroke-width="1.8" />
<text x="97.5" y="869.7" font-size="14.5" text-anchor="end" fill="#000" >1500</text>
<line x1="149.0" y1="1022.0" x2="149.0" y2="1027.0" stroke="#000" stroke-width="1.8" />
<line x1="216.7" y1="1022.0" x2="216.7" y2="1027.0" stroke="#000" stroke-width="1.8" />
<text x="151.0" y="1043.7" font-size="14.5" text-anchor="middle" fill="#000" >Vehicle</text>
<text x="217.3" y="1043.7" font-size="14.5" text-anchor="middle" fill="#000" >PTX</text>
<text transform="translate(41.0,953.0) rotate(-90)" font-size="15.2" text-anchor="middle" fill="#000">CDC6 sgRNA</text>
<text transform="translate(60.0,949.7) rotate(-90)" font-size="15.2" text-anchor="middle" fill="#000">normalized read count</text>
<line x1="149.0" y1="886.5" x2="216.7" y2="991.5" stroke="#000" stroke-width="2.2" />
<line x1="149.0" y1="888.0" x2="216.7" y2="1022.0" stroke="#000" stroke-width="2.2" />
<line x1="149.0" y1="913.8" x2="216.7" y2="1022.0" stroke="#000" stroke-width="2.2" />
<circle cx="149" cy="886.5" r="6.2" fill="#5fa5f5" stroke="#000" stroke-width="2"/>
<circle cx="149" cy="888.0" r="6.2" fill="#5fa5f5" stroke="#000" stroke-width="2"/>
<circle cx="149" cy="913.8" r="6.2" fill="#5fa5f5" stroke="#000" stroke-width="2"/>
<circle cx="216.7" cy="991.5" r="6.2" fill="#ee3c3c" stroke="#000" stroke-width="2"/>
<circle cx="216.7" cy="1022.0" r="6.2" fill="#ee3c3c" stroke="#000" stroke-width="2"/>
<circle cx="216.7" cy="1022.0" r="6.2" fill="#ee3c3c" stroke="#000" stroke-width="2"/>
<line x1="280.8" y1="872.6" x2="296.2" y2="872.6" stroke="#000" stroke-width="2" />
<circle cx="288.5" cy="872.6" r="6.2" fill="#5fa5f5" stroke="#000" stroke-width="2"/>
<line x1="280.8" y1="893.9" x2="296.2" y2="893.9" stroke="#000" stroke-width="2" />
<circle cx="288.5" cy="893.9" r="6.2" fill="#ee3c3c" stroke="#000" stroke-width="2"/>
<text x="304.9" y="878.5" font-size="14.6" text-anchor="start" fill="#000" >Vehicle</text>
<text x="304.9" y="900.6" font-size="14.6" text-anchor="start" fill="#000" >PTX</text>
<text x="366.4" y="828.5" font-size="24" text-anchor="start" fill="#000" >f</text>
<line x1="431.8" y1="851.0" x2="431.8" y2="1030.3" stroke="#000" stroke-width="2" />
<line x1="430.9" y1="1029.4" x2="610.2" y2="1029.4" stroke="#000" stroke-width="2" />
<line x1="425.5" y1="1029.4" x2="431.8" y2="1029.4" stroke="#000" stroke-width="2" />
<text x="422.5" y="1034.6" font-size="14" text-anchor="end" fill="#000" >0</text>
<line x1="425.5" y1="999.8" x2="431.8" y2="999.8" stroke="#000" stroke-width="2" />
<text x="422.5" y="1005.0" font-size="14" text-anchor="end" fill="#000" >20</text>
<line x1="425.5" y1="970.2" x2="431.8" y2="970.2" stroke="#000" stroke-width="2" />
<text x="422.5" y="975.4" font-size="14" text-anchor="end" fill="#000" >40</text>
<line x1="425.5" y1="940.6" x2="431.8" y2="940.6" stroke="#000" stroke-width="2" />
<text x="422.5" y="945.8" font-size="14" text-anchor="end" fill="#000" >60</text>
<line x1="425.5" y1="911.0" x2="431.8" y2="911.0" stroke="#000" stroke-width="2" />
<text x="422.5" y="916.2" font-size="14" text-anchor="end" fill="#000" >80</text>
<line x1="425.5" y1="881.4" x2="431.8" y2="881.4" stroke="#000" stroke-width="2" />
<text x="422.5" y="886.6" font-size="14" text-anchor="end" fill="#000" >100</text>
<line x1="425.5" y1="851.8" x2="431.8" y2="851.8" stroke="#000" stroke-width="2" />
<text x="422.5" y="857.0" font-size="14" text-anchor="end" fill="#000" >120</text>
<line x1="431.8" y1="1029.4" x2="431.8" y2="1034.4" stroke="#000" stroke-width="2" />
<text x="428.5" y="1049.5" font-size="14" text-anchor="middle" fill="#000" >-9</text>
<line x1="467.3" y1="1029.4" x2="467.3" y2="1034.4" stroke="#000" stroke-width="2" />
<text x="464.0" y="1049.5" font-size="14" text-anchor="middle" fill="#000" >-8</text>
<line x1="502.8" y1="1029.4" x2="502.8" y2="1034.4" stroke="#000" stroke-width="2" />
<text x="499.5" y="1049.5" font-size="14" text-anchor="middle" fill="#000" >-7</text>
<line x1="538.3" y1="1029.4" x2="538.3" y2="1034.4" stroke="#000" stroke-width="2" />
<text x="535.0" y="1049.5" font-size="14" text-anchor="middle" fill="#000" >-6</text>
<line x1="573.8" y1="1029.4" x2="573.8" y2="1034.4" stroke="#000" stroke-width="2" />
<text x="570.5" y="1049.5" font-size="14" text-anchor="middle" fill="#000" >-5</text>
<line x1="609.3" y1="1029.4" x2="609.3" y2="1034.4" stroke="#000" stroke-width="2" />
<text x="606.0" y="1049.5" font-size="14" text-anchor="middle" fill="#000" >-4</text>
<text x="518.8" y="1069.0" font-size="14.6" text-anchor="middle" fill="#000" >Log PTX concentration (M)</text>
<text transform="translate(396.0,942.5) rotate(-90)" font-size="14.8" text-anchor="middle" fill="#000">Cell viability (%)</text>
<path d="M449.6,894.2 L451.1,894.3 L452.7,894.4 L454.3,894.5 L455.9,894.6 L457.5,894.7 L459.1,894.8 L460.7,895.0 L462.3,895.1 L463.9,895.2 L465.5,895.4 L467.1,895.5 L468.7,895.7 L470.3,895.8 L471.9,896.0 L473.5,896.2 L475.1,896.4 L476.7,896.6 L478.3,896.8 L479.9,897.0 L481.5,897.2 L483.1,897.5 L484.7,897.7 L486.3,898.0 L487.9,898.2 L489.5,898.5 L491.1,898.8 L492.7,899.2 L494.3,899.5 L495.9,899.8 L497.5,900.2 L499.1,900.6 L500.7,901.0 L502.3,901.4 L503.9,901.8 L505.5,902.3 L507.1,902.7 L508.7,903.2 L510.3,903.7 L511.9,904.3 L513.5,904.8 L515.0,905.4 L516.6,906.0 L518.2,906.6 L519.8,907.3 L521.4,908.0 L523.0,908.7 L524.6,909.4 L526.2,910.1 L527.8,910.9 L529.4,911.7 L531.0,912.6 L532.6,913.4 L534.2,914.3 L535.8,915.3 L537.4,916.2 L539.0,917.2 L540.6,918.2 L542.2,919.2 L543.8,920.3 L545.4,921.4 L547.0,922.5 L548.6,923.6 L550.2,924.8 L551.8,926.0 L553.4,927.2 L555.0,928.5 L556.6,929.7 L558.2,931.0 L559.8,932.3 L561.4,933.7 L563.0,935.0 L564.6,936.4 L566.2,937.7 L567.8,939.1 L569.4,940.5 L571.0,941.9 L572.6,943.4 L574.2,944.8 L575.8,946.2 L577.4,947.6 L578.9,949.1 L580.5,950.5 L582.1,951.9 L583.7,953.3 L585.3,954.7 L586.9,956.1 L588.5,957.5 L590.1,958.9 L591.7,960.3 L593.3,961.6 L594.9,962.9 L596.5,964.2 L598.1,965.5 L599.7,966.8 L601.3,968.0 L602.9,969.3 L604.5,970.5 L606.1,971.6 L607.7,972.8 L609.3,973.9" fill="none" stroke="#000" stroke-width="1.5"/>
<path d="M449.6,886.2 L451.1,886.4 L452.7,886.6 L454.3,886.9 L455.9,887.1 L457.5,887.4 L459.1,887.7 L460.7,888.0 L462.3,888.3 L463.9,888.7 L465.5,889.1 L467.1,889.5 L468.7,890.0 L470.3,890.5 L471.9,891.0 L473.5,891.5 L475.1,892.1 L476.7,892.7 L478.3,893.4 L479.9,894.1 L481.5,894.9 L483.1,895.7 L484.7,896.5 L486.3,897.5 L487.9,898.4 L489.5,899.5 L491.1,900.5 L492.7,901.7 L494.3,902.9 L495.9,904.1 L497.5,905.5 L499.1,906.8 L500.7,908.3 L502.3,909.8 L503.9,911.4 L505.5,913.0 L507.1,914.7 L508.7,916.5 L510.3,918.3 L511.9,920.1 L513.5,922.1 L515.0,924.0 L516.6,926.0 L518.2,928.0 L519.8,930.1 L521.4,932.2 L523.0,934.3 L524.6,936.4 L526.2,938.5 L527.8,940.6 L529.4,942.7 L531.0,944.8 L532.6,946.9 L534.2,948.9 L535.8,950.9 L537.4,952.9 L539.0,954.8 L540.6,956.7 L542.2,958.5 L543.8,960.3 L545.4,962.1 L547.0,963.7 L548.6,965.3 L550.2,966.9 L551.8,968.4 L553.4,969.8 L555.0,971.2 L556.6,972.5 L558.2,973.7 L559.8,974.9 L561.4,976.0 L563.0,977.0 L564.6,978.0 L566.2,979.0 L567.8,979.9 L569.4,980.7 L571.0,981.5 L572.6,982.2 L574.2,982.9 L575.8,983.6 L577.4,984.2 L578.9,984.8 L580.5,985.3 L582.1,985.8 L583.7,986.3 L585.3,986.7 L586.9,987.1 L588.5,987.5 L590.1,987.8 L591.7,988.2 L593.3,988.5 L594.9,988.7 L596.5,989.0 L598.1,989.3 L599.7,989.5 L601.3,989.7 L602.9,989.9 L604.5,990.1 L606.1,990.2 L607.7,990.4 L609.3,990.6" fill="none" stroke="#ee1c1c" stroke-width="1.5"/>
<line x1="449.6" y1="868.1" x2="449.6" y2="903.6" stroke="#ee2020" stroke-width="1.4" />
<line x1="445.6" y1="868.1" x2="453.6" y2="868.1" stroke="#ee2020" stroke-width="1.4" />
<line x1="445.6" y1="903.6" x2="453.6" y2="903.6" stroke="#ee2020" stroke-width="1.4" />
<line x1="467.3" y1="878.4" x2="467.3" y2="908.0" stroke="#ee2020" stroke-width="1.4" />
<line x1="463.3" y1="878.4" x2="471.3" y2="878.4" stroke="#ee2020" stroke-width="1.4" />
<line x1="463.3" y1="908.0" x2="471.3" y2="908.0" stroke="#ee2020" stroke-width="1.4" />
<line x1="485.1" y1="882.9" x2="485.1" y2="906.6" stroke="#ee2020" stroke-width="1.4" />
<line x1="481.1" y1="882.9" x2="489.1" y2="882.9" stroke="#ee2020" stroke-width="1.4" />
<line x1="481.1" y1="906.6" x2="489.1" y2="906.6" stroke="#ee2020" stroke-width="1.4" />
<line x1="502.8" y1="896.2" x2="502.8" y2="925.8" stroke="#ee2020" stroke-width="1.4" />
<line x1="498.8" y1="896.2" x2="506.8" y2="896.2" stroke="#ee2020" stroke-width="1.4" />
<line x1="498.8" y1="925.8" x2="506.8" y2="925.8" stroke="#ee2020" stroke-width="1.4" />
<line x1="520.5" y1="919.9" x2="520.5" y2="940.6" stroke="#ee2020" stroke-width="1.4" />
<line x1="516.5" y1="919.9" x2="524.5" y2="919.9" stroke="#ee2020" stroke-width="1.4" />
<line x1="516.5" y1="940.6" x2="524.5" y2="940.6" stroke="#ee2020" stroke-width="1.4" />
<line x1="538.3" y1="948.0" x2="538.3" y2="965.8" stroke="#ee2020" stroke-width="1.4" />
<line x1="534.3" y1="948.0" x2="542.3" y2="948.0" stroke="#ee2020" stroke-width="1.4" />
<line x1="534.3" y1="965.8" x2="542.3" y2="965.8" stroke="#ee2020" stroke-width="1.4" />
<line x1="556.0" y1="953.9" x2="556.0" y2="988.0" stroke="#ee2020" stroke-width="1.4" />
<line x1="552.0" y1="953.9" x2="560.0" y2="953.9" stroke="#ee2020" stroke-width="1.4" />
<line x1="552.0" y1="988.0" x2="560.0" y2="988.0" stroke="#ee2020" stroke-width="1.4" />
<line x1="573.8" y1="961.3" x2="573.8" y2="999.8" stroke="#ee2020" stroke-width="1.4" />
<line x1="569.8" y1="961.3" x2="577.8" y2="961.3" stroke="#ee2020" stroke-width="1.4" />
<line x1="569.8" y1="999.8" x2="577.8" y2="999.8" stroke="#ee2020" stroke-width="1.4" />
<line x1="591.5" y1="973.2" x2="591.5" y2="992.4" stroke="#ee2020" stroke-width="1.4" />
<line x1="587.5" y1="973.2" x2="595.5" y2="973.2" stroke="#ee2020" stroke-width="1.4" />
<line x1="587.5" y1="992.4" x2="595.5" y2="992.4" stroke="#ee2020" stroke-width="1.4" />
<line x1="609.3" y1="982.0" x2="609.3" y2="999.8" stroke="#ee2020" stroke-width="1.4" />
<line x1="605.3" y1="982.0" x2="613.3" y2="982.0" stroke="#ee2020" stroke-width="1.4" />
<line x1="605.3" y1="999.8" x2="613.3" y2="999.8" stroke="#ee2020" stroke-width="1.4" />
<line x1="449.6" y1="887.3" x2="449.6" y2="893.2" stroke="#111" stroke-width="1.4" />
<line x1="445.6" y1="887.3" x2="453.6" y2="887.3" stroke="#111" stroke-width="1.4" />
<line x1="445.6" y1="893.2" x2="453.6" y2="893.2" stroke="#111" stroke-width="1.4" />
<line x1="467.3" y1="893.2" x2="467.3" y2="902.1" stroke="#111" stroke-width="1.4" />
<line x1="463.3" y1="893.2" x2="471.3" y2="893.2" stroke="#111" stroke-width="1.4" />
<line x1="463.3" y1="902.1" x2="471.3" y2="902.1" stroke="#111" stroke-width="1.4" />
<line x1="485.1" y1="890.3" x2="485.1" y2="905.1" stroke="#111" stroke-width="1.4" />
<line x1="481.1" y1="890.3" x2="489.1" y2="890.3" stroke="#111" stroke-width="1.4" />
<line x1="481.1" y1="905.1" x2="489.1" y2="905.1" stroke="#111" stroke-width="1.4" />
<line x1="502.8" y1="887.3" x2="502.8" y2="911.0" stroke="#111" stroke-width="1.4" />
<line x1="498.8" y1="887.3" x2="506.8" y2="887.3" stroke="#111" stroke-width="1.4" />
<line x1="498.8" y1="911.0" x2="506.8" y2="911.0" stroke="#111" stroke-width="1.4" />
<line x1="538.3" y1="915.4" x2="538.3" y2="934.7" stroke="#111" stroke-width="1.4" />
<line x1="534.3" y1="915.4" x2="542.3" y2="915.4" stroke="#111" stroke-width="1.4" />
<line x1="534.3" y1="934.7" x2="542.3" y2="934.7" stroke="#111" stroke-width="1.4" />
<line x1="556.0" y1="916.9" x2="556.0" y2="931.7" stroke="#111" stroke-width="1.4" />
<line x1="552.0" y1="916.9" x2="560.0" y2="916.9" stroke="#111" stroke-width="1.4" />
<line x1="552.0" y1="931.7" x2="560.0" y2="931.7" stroke="#111" stroke-width="1.4" />
<line x1="573.8" y1="934.7" x2="573.8" y2="952.4" stroke="#111" stroke-width="1.4" />
<line x1="569.8" y1="934.7" x2="577.8" y2="934.7" stroke="#111" stroke-width="1.4" />
<line x1="569.8" y1="952.4" x2="577.8" y2="952.4" stroke="#111" stroke-width="1.4" />
<line x1="591.5" y1="945.0" x2="591.5" y2="964.3" stroke="#111" stroke-width="1.4" />
<line x1="587.5" y1="945.0" x2="595.5" y2="945.0" stroke="#111" stroke-width="1.4" />
<line x1="587.5" y1="964.3" x2="595.5" y2="964.3" stroke="#111" stroke-width="1.4" />
<line x1="609.3" y1="980.6" x2="609.3" y2="995.4" stroke="#111" stroke-width="1.4" />
<line x1="605.3" y1="980.6" x2="613.3" y2="980.6" stroke="#111" stroke-width="1.4" />
<line x1="605.3" y1="995.4" x2="613.3" y2="995.4" stroke="#111" stroke-width="1.4" />
<rect x="445.7" y="881.9" width="7.8" height="7.8" fill="#ee2020"/>
<rect x="463.4" y="889.3" width="7.8" height="7.8" fill="#ee2020"/>
<rect x="481.2" y="890.8" width="7.8" height="7.8" fill="#ee2020"/>
<rect x="498.9" y="907.1" width="7.8" height="7.8" fill="#ee2020"/>
<rect x="516.6" y="926.3" width="7.8" height="7.8" fill="#ee2020"/>
<rect x="534.4" y="953.0" width="7.8" height="7.8" fill="#ee2020"/>
<rect x="552.1" y="966.3" width="7.8" height="7.8" fill="#ee2020"/>
<rect x="569.9" y="977.4" width="7.8" height="7.8" fill="#ee2020"/>
<rect x="587.6" y="978.1" width="7.8" height="7.8" fill="#ee2020"/>
<rect x="605.4" y="987.0" width="7.8" height="7.8" fill="#ee2020"/>
<circle cx="449.6" cy="890.3" r="3.9" fill="#000"/>
<circle cx="467.3" cy="896.9" r="3.9" fill="#000"/>
<circle cx="485.1" cy="896.9" r="3.9" fill="#000"/>
<circle cx="502.8" cy="899.2" r="3.9" fill="#000"/>
<circle cx="520.5" cy="912.5" r="3.9" fill="#000"/>
<circle cx="538.3" cy="924.3" r="3.9" fill="#000"/>
<circle cx="556.0" cy="924.3" r="3.9" fill="#000"/>
<circle cx="573.8" cy="943.6" r="3.9" fill="#000"/>
<circle cx="591.5" cy="955.4" r="3.9" fill="#000"/>
<circle cx="609.3" cy="988.6" r="3.9" fill="#000"/>
<line x1="583.5" y1="854.5" x2="601.5" y2="854.5" stroke="#000" stroke-width="1.4" />
<circle cx="592.3" cy="854.5" r="3.8" fill="#000"/>
<text x="604.3" y="859.8" font-size="14.6" text-anchor="start" fill="#000" >A549/PTX</text>
<line x1="583.5" y1="878.7" x2="601.5" y2="878.7" stroke="#ee2020" stroke-width="1.4" />
<rect x="588.5" y="874.9" width="7.6" height="7.6" fill="#ee2020"/>
<text x="603.9" y="883.2" font-size="14.6" text-anchor="start" fill="#000" >siCDC6</text>
<line x1="688.0" y1="880.7" x2="968.0" y2="880.7" stroke="#000" stroke-width="2" />
<line x1="688.0" y1="917.9" x2="968.0" y2="917.9" stroke="#000" stroke-width="2" />
<line x1="688.0" y1="1029.9" x2="968.0" y2="1029.9" stroke="#000" stroke-width="2" />
<text x="827.3" y="906.7" font-size="14.5" text-anchor="middle" fill="#000" >A549/PTX</text>
<text x="933.1" y="905.3" font-size="14.5" text-anchor="middle" fill="#000" >siCDC6</text>
<text x="690.7" y="946.7" font-size="14.5">IC<tspan font-size="7.5" dy="3">50</tspan><tspan dy="-3">(µM)</tspan></text>
<text x="820.3" y="945.3" font-size="14.5" text-anchor="middle" fill="#000" >7.65</text>
<text x="931.3" y="944.0" font-size="14.5" text-anchor="middle" fill="#000" >0.44</text>
<text x="690.7" y="978.7" font-size="14.5" text-anchor="start" fill="#000" >95%CI (µM)</text>
<text x="826.4" y="977.3" font-size="14.5" text-anchor="middle" fill="#000" >3.01-17.57</text>
<text x="931.0" y="977.3" font-size="14.5" text-anchor="middle" fill="#000" >0.25-0.91</text>
<text x="690.7" y="1012.0" font-size="14.5" text-anchor="start" fill="#000" >Hill slope</text>
<text x="821.3" y="1011.2" font-size="14.5" text-anchor="middle" fill="#000" >-0.59</text>
<text x="928.4" y="1011.2" font-size="14.5" text-anchor="middle" fill="#000" >-0.71</text>
<text x="690.7" y="1059.2" font-size="14.5" text-anchor="start" fill="#000" >p-Value</text>
<polyline points="765.2,1048.6 754,1054 765.2,1059.4" fill="none" stroke="#000" stroke-width="1.3"/>
<text x="767.4" y="1059.2" font-size="14.5" text-anchor="start" fill="#000" >0.0001</text>
<text x="994.2" y="824.0" font-size="24" text-anchor="start" fill="#000" >g</text>
<line x1="1086.0" y1="857.7" x2="1086.0" y2="1018.2" stroke="#000" stroke-width="2" />
<line x1="1085.1" y1="1017.3" x2="1191.8" y2="1017.3" stroke="#000" stroke-width="2" />
<line x1="1079.7" y1="1017.3" x2="1086.0" y2="1017.3" stroke="#000" stroke-width="2" />
<text x="1077.3" y="1022.6" font-size="15" text-anchor="end" fill="#000" >0.0</text>
<line x1="1079.7" y1="964.4" x2="1086.0" y2="964.4" stroke="#000" stroke-width="2" />
<text x="1077.3" y="969.7" font-size="15" text-anchor="end" fill="#000" >0.5</text>
<line x1="1079.7" y1="911.5" x2="1086.0" y2="911.5" stroke="#000" stroke-width="2" />
<text x="1077.3" y="916.8" font-size="15" text-anchor="end" fill="#000" >1.0</text>
<line x1="1079.7" y1="858.6" x2="1086.0" y2="858.6" stroke="#000" stroke-width="2" />
<text x="1077.3" y="863.9" font-size="15" text-anchor="end" fill="#000" >1.5</text>
<rect x="1103" y="907.3" width="26.4" height="109.0" fill="#fff" stroke="#80b3d8" stroke-width="2.2"/>
<rect x="1148" y="1012.0" width="27" height="4.3" fill="#fff" stroke="#f4bf6c" stroke-width="2.2"/>
<line x1="1115.8" y1="899.2" x2="1115.8" y2="911.7" stroke="#000" stroke-width="1.3" />
<line x1="1112.5" y1="899.2" x2="1124.0" y2="899.2" stroke="#000" stroke-width="1.3" />
<line x1="1107.5" y1="911.7" x2="1124.0" y2="911.7" stroke="#000" stroke-width="1.3" />
<circle cx="1111.4" cy="900.5" r="2.6" fill="#fff" stroke="#000" stroke-width="1.4"/>
<circle cx="1121" cy="903.7" r="2.6" fill="#fff" stroke="#000" stroke-width="1.4"/>
<circle cx="1115.8" cy="912.3" r="2.6" fill="#fff" stroke="#000" stroke-width="1.4"/>
<circle cx="1151.8" cy="1012.3" r="2.6" fill="#fff" stroke="#000" stroke-width="1.4"/>
<circle cx="1161.6" cy="1011" r="2.6" fill="#fff" stroke="#000" stroke-width="1.4"/>
<circle cx="1170.4" cy="1012.3" r="2.6" fill="#fff" stroke="#000" stroke-width="1.4"/>
<text x="1161.7" y="1009.0" font-size="13.5" text-anchor="middle" fill="#1a1a1a" font-weight="normal" letter-spacing="-0.9">****</text>
<line x1="1115.8" y1="1017.3" x2="1115.8" y2="1023.3" stroke="#000" stroke-width="2" />
<line x1="1161.0" y1="1017.3" x2="1161.0" y2="1023.3" stroke="#000" stroke-width="2" />
<text x="1107.3" y="1037.0" font-size="15.2" text-anchor="middle" fill="#000" >Scramble</text>
<text x="1171.2" y="1037.4" font-size="15.2" text-anchor="middle" fill="#000" >siCDC6</text>
<text transform="translate(1031.3,937.8) rotate(-90)" font-size="15" text-anchor="middle" fill="#000">Relative mRNA</text>
<text transform="translate(1050.0,936.8) rotate(-90)" font-size="15" text-anchor="middle" fill="#000">amount of CDC6</text>
</svg>
</body></html>
